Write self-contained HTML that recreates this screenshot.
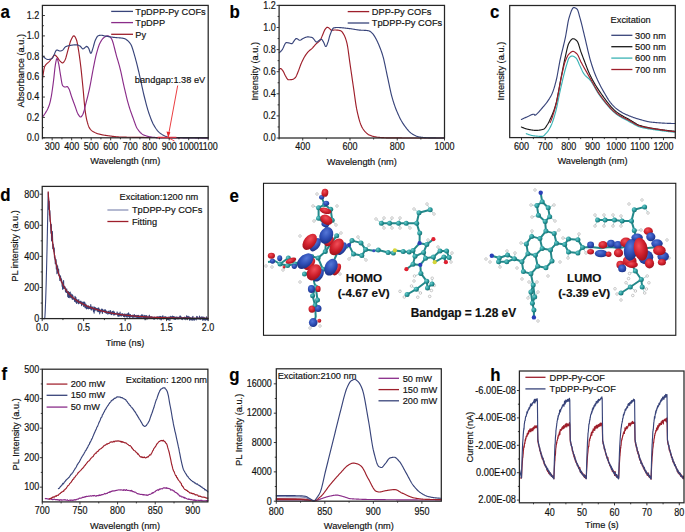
<!DOCTYPE html>
<html><head><meta charset="utf-8"><style>
html,body{margin:0;padding:0;background:#fff;width:685px;height:532px;overflow:hidden}
svg{display:block}
text{font-family:"Liberation Sans", sans-serif;stroke:currentColor;stroke-width:0.18px}
</style></head><body>
<svg width="685" height="532" viewBox="0 0 685 532">
<rect width="685" height="532" fill="#fff"/>
<path d="M42.4 79.8 L42.9 75.94 L43.4 72.6 L43.9 69.63 L44.4 67.28 L44.9 66.14 L45.4 65.31 L45.9 64.65 L46.4 64.11 L46.9 63.6 L47.4 63.12 L47.9 62.72 L48.4 62.33 L48.9 61.9 L49.4 61.37 L49.9 60.76 L50.4 60.1 L50.9 59.42 L51.4 58.75 L51.9 58.12 L52.4 57.48 L52.9 56.75 L53.4 56.03 L53.9 55.44 L54.4 55.07 L54.9 55.03 L55.4 55.29 L55.9 55.75 L56.4 56.32 L56.9 56.89 L57.4 57.46 L57.9 58.15 L58.4 58.89 L58.9 59.63 L59.4 60.32 L59.9 60.9 L60.4 61.39 L60.9 61.89 L61.4 62.34 L61.9 62.69 L62.4 62.88 L62.9 62.83 L63.4 62.46 L63.9 61.83 L64.4 61.04 L64.9 60.17 L65.4 59.14 L65.9 57.7 L66.4 55.97 L66.9 54.07 L67.4 52.15 L67.9 50.34 L68.4 48.61 L68.9 46.75 L69.4 44.87 L69.9 43.08 L70.4 41.49 L70.9 40.21 L71.4 39.18 L71.9 38.18 L72.4 37.25 L72.9 36.5 L73.4 35.99 L73.9 35.8 L74.4 36.01 L74.9 36.59 L75.4 37.47 L75.9 38.55 L76.4 39.75 L76.9 41.3 L77.4 43.62 L77.9 46.42 L78.4 49.41 L78.9 52.47 L79.4 55.87 L79.9 59.56 L80.4 63.48 L80.9 67.63 L81.4 72.15 L81.9 76.96 L82.4 81.95 L82.9 86.99 L83.4 92.31 L83.9 98.12 L84.4 103.81 L84.9 108.71 L85.4 112.42 L85.9 115.62 L86.4 118.37 L86.9 120.61 L87.4 122.46 L87.9 124.14 L88.4 125.63 L88.9 126.9 L89.4 127.92 L89.9 128.68 L90.4 129.31 L90.9 129.85 L91.4 130.33 L91.9 130.74 L92.4 131.11 L92.9 131.44 L93.4 131.74 L93.9 132.03 L94.4 132.3 L94.9 132.56 L95.4 132.8 L95.9 133.02 L96.4 133.23 L96.9 133.43 L97.4 133.61 L97.9 133.77 L98.4 133.92 L98.9 134.05 L99.4 134.18 L99.9 134.3 L100.4 134.42 L100.9 134.53 L101.4 134.64 L101.9 134.74 L102.4 134.84 L102.9 134.94 L103.4 135.03 L103.9 135.12 L104.4 135.2 L104.9 135.28 L105.4 135.36 L105.9 135.44 L106.4 135.51 L106.9 135.59 L107.4 135.66 L107.9 135.73 L108.4 135.79 L108.9 135.86 L109.4 135.92 L109.9 135.99 L110.4 136.05 L110.9 136.11 L111.4 136.18 L111.9 136.24 L112.4 136.31 L112.9 136.37 L113.4 136.43 L113.9 136.49 L114.4 136.55 L114.9 136.6 L115.4 136.66 L115.9 136.71 L116.4 136.76 L116.9 136.8 L117.4 136.84 L117.9 136.88 L118.4 136.92 L118.9 136.95 L119.4 136.97 L119.9 137 L120.4 137.01 L120.9 137.03 L121.4 137.05 L121.9 137.06 L122.4 137.08 L122.9 137.1 L123.4 137.11 L123.9 137.12 L124.4 137.14 L124.9 137.15 L125.4 137.16 L125.9 137.18 L126.4 137.19 L126.9 137.2 L127.4 137.21 L127.9 137.22 L128.4 137.23 L128.9 137.24 L129.4 137.25 L129.9 137.26 L130.4 137.27 L130.9 137.28 L131.4 137.29 L131.9 137.3 L132.4 137.31 L132.9 137.31 L133.4 137.32 L133.9 137.33 L134.4 137.33 L134.9 137.34 L135.4 137.35 L135.9 137.35 L136.4 137.36 L136.9 137.37 L137.4 137.37 L137.9 137.38 L138.4 137.38 L138.9 137.39 L139.4 137.39 L139.9 137.4 L140.4 137.4 L140.9 137.41 L141.4 137.41 L141.9 137.42 L142.4 137.42 L142.9 137.43 L143.4 137.43 L143.9 137.44 L144.4 137.44 L144.9 137.45 L145.4 137.45 L145.9 137.46 L146.4 137.46 L146.9 137.47 L147.4 137.47 L147.9 137.48 L148.4 137.48 L148.9 137.49 L149.4 137.49 L149.9 137.5 L150.4 137.5 L150.9 137.51 L151.4 137.51 L151.9 137.51 L152.4 137.52 L152.9 137.52 L153.4 137.53 L153.9 137.53 L154.4 137.54 L154.9 137.54 L155.4 137.55 L155.9 137.55 L156.4 137.55 L156.9 137.56 L157.4 137.56 L157.9 137.57 L158.4 137.57 L158.9 137.57 L159.4 137.58 L159.9 137.58 L160.4 137.59 L160.9 137.59 L161.4 137.6 L161.9 137.6 L162.4 137.6 L162.9 137.61 L163.4 137.61 L163.9 137.61 L164.4 137.62 L164.9 137.62 L165.4 137.63 L165.9 137.63 L166.4 137.63 L166.9 137.64 L167.4 137.64 L167.9 137.64 L168.4 137.65 L168.9 137.65 L169.4 137.66 L169.9 137.66 L170.4 137.66 L170.9 137.67 L171.4 137.67 L171.9 137.67 L172.4 137.68 L172.9 137.68 L173.4 137.68 L173.9 137.69 L174.4 137.69 L174.9 137.69 L175.4 137.69 L175.9 137.7 L176.4 137.7 L176.9 137.7 L177.4 137.71 L177.9 137.71 L178.4 137.71 L178.9 137.71 L179.4 137.72 L179.9 137.72 L180.4 137.72 L180.9 137.73 L181.4 137.73 L181.9 137.73 L182.4 137.73 L182.9 137.74 L183.4 137.74 L183.9 137.74 L184.4 137.74 L184.9 137.75 L185.4 137.75 L185.9 137.75 L186.4 137.75 L186.9 137.75 L187.4 137.76 L187.9 137.76 L188.4 137.76 L188.9 137.76 L189.4 137.76 L189.9 137.77 L190.4 137.77 L190.9 137.77 L191.4 137.77 L191.9 137.77 L192.4 137.77 L192.9 137.78 L193.4 137.78 L193.9 137.78 L194.4 137.78 L194.9 137.78 L195.4 137.78 L195.9 137.78 L196.4 137.79 L196.9 137.79 L197.4 137.79 L197.9 137.79 L198.4 137.79 L198.9 137.79 L199.4 137.79 L199.9 137.79 L200.4 137.79 L200.9 137.79 L201.4 137.8 L201.9 137.8 L202.4 137.8 L202.9 137.8 L203.4 137.8 L203.9 137.8 L204.4 137.8 L204.9 137.8 L205.4 137.8 L205.9 137.8 L206.4 137.8 L206.9 137.8 L207.4 137.8 L207.9 137.8 L208 137.8" fill="none" stroke="#9e1f2b" stroke-width="1.15" stroke-linejoin="round" stroke-linecap="round" />
<path d="M42.4 117 L42.9 116.46 L43.4 115.86 L43.9 115.21 L44.4 114.51 L44.9 113.76 L45.4 112.98 L45.9 112.17 L46.4 111.32 L46.9 110.45 L47.4 109.51 L47.9 108.48 L48.4 107.34 L48.9 106.07 L49.4 104.6 L49.9 102.83 L50.4 100.78 L50.9 98.49 L51.4 95.86 L51.9 92.74 L52.4 89.26 L52.9 85.56 L53.4 81.76 L53.9 77.63 L54.4 72.89 L54.9 68.28 L55.4 64.57 L55.9 61.8 L56.4 59.42 L56.9 58.4 L57.4 59.05 L57.9 60.65 L58.4 62.61 L58.9 64.88 L59.4 67.93 L59.9 71.29 L60.4 74.44 L60.9 77.36 L61.4 80.49 L61.9 83.28 L62.4 85.14 L62.9 85.82 L63.4 86.29 L63.9 86.65 L64.4 86.89 L64.9 87 L65.4 86.96 L65.9 86.84 L66.4 86.7 L66.9 86.61 L67.4 86.69 L67.9 87.18 L68.4 87.95 L68.9 88.83 L69.4 89.84 L69.9 91.22 L70.4 92.82 L70.9 94.5 L71.4 96.11 L71.9 97.55 L72.4 98.95 L72.9 100.32 L73.4 101.68 L73.9 103.04 L74.4 104.38 L74.9 105.73 L75.4 107.13 L75.9 108.62 L76.4 110.12 L76.9 111.55 L77.4 112.81 L77.9 113.83 L78.4 114.65 L78.9 115.44 L79.4 116.15 L79.9 116.68 L80.4 116.97 L80.9 116.93 L81.4 116.55 L81.9 115.9 L82.4 115.09 L82.9 114.18 L83.4 113.09 L83.9 111.55 L84.4 109.67 L84.9 107.6 L85.4 105.46 L85.9 103.39 L86.4 101.45 L86.9 99.5 L87.4 97.53 L87.9 95.52 L88.4 93.45 L88.9 91.31 L89.4 89.08 L89.9 86.74 L90.4 84.2 L90.9 81.5 L91.4 78.71 L91.9 75.9 L92.4 73.15 L92.9 70.51 L93.4 67.97 L93.9 65.41 L94.4 62.88 L94.9 60.41 L95.4 58.06 L95.9 55.87 L96.4 53.9 L96.9 52.07 L97.4 50.3 L97.9 48.6 L98.4 47.02 L98.9 45.58 L99.4 44.29 L99.9 43.19 L100.4 42.25 L100.9 41.37 L101.4 40.54 L101.9 39.78 L102.4 39.1 L102.9 38.5 L103.4 37.99 L103.9 37.57 L104.4 37.23 L104.9 36.89 L105.4 36.58 L105.9 36.31 L106.4 36.08 L106.9 35.91 L107.4 35.82 L107.9 35.81 L108.4 35.93 L108.9 36.17 L109.4 36.51 L109.9 36.92 L110.4 37.39 L110.9 37.9 L111.4 38.53 L111.9 39.5 L112.4 40.76 L112.9 42.26 L113.4 43.95 L113.9 45.8 L114.4 47.74 L114.9 49.74 L115.4 51.75 L115.9 53.71 L116.4 55.59 L116.9 57.34 L117.4 59.02 L117.9 60.7 L118.4 62.39 L118.9 64.13 L119.4 65.92 L119.9 67.81 L120.4 69.82 L120.9 71.96 L121.4 74.22 L121.9 76.54 L122.4 78.9 L122.9 81.27 L123.4 83.6 L123.9 85.86 L124.4 88.03 L124.9 90.16 L125.4 92.3 L125.9 94.42 L126.4 96.51 L126.9 98.55 L127.4 100.52 L127.9 102.41 L128.4 104.21 L128.9 105.9 L129.4 107.52 L129.9 109.07 L130.4 110.57 L130.9 112.02 L131.4 113.43 L131.9 114.81 L132.4 116.18 L132.9 117.53 L133.4 118.9 L133.9 120.32 L134.4 121.76 L134.9 123.17 L135.4 124.53 L135.9 125.81 L136.4 126.95 L136.9 127.94 L137.4 128.75 L137.9 129.46 L138.4 130.15 L138.9 130.8 L139.4 131.42 L139.9 132 L140.4 132.54 L140.9 133.04 L141.4 133.5 L141.9 133.91 L142.4 134.28 L142.9 134.6 L143.4 134.87 L143.9 135.08 L144.4 135.28 L144.9 135.47 L145.4 135.65 L145.9 135.82 L146.4 135.98 L146.9 136.13 L147.4 136.27 L147.9 136.4 L148.4 136.53 L148.9 136.64 L149.4 136.75 L149.9 136.84 L150.4 136.93 L150.9 137.01 L151.4 137.08 L151.9 137.14 L152.4 137.2 L152.9 137.25 L153.4 137.3 L153.9 137.35 L154.4 137.4 L154.9 137.44 L155.4 137.48 L155.9 137.52 L156.4 137.56 L156.9 137.59 L157.4 137.62 L157.9 137.64 L158.4 137.67 L158.9 137.68 L159.4 137.69 L159.9 137.7 L160.4 137.7 L160.9 137.7 L161.4 137.71 L161.9 137.71 L162.4 137.71 L162.9 137.71 L163.4 137.72 L163.9 137.72 L164.4 137.72 L164.9 137.72 L165.4 137.73 L165.9 137.73 L166.4 137.73 L166.9 137.73 L167.4 137.73 L167.9 137.74 L168.4 137.74 L168.9 137.74 L169.4 137.74 L169.9 137.74 L170.4 137.75 L170.9 137.75 L171.4 137.75 L171.9 137.75 L172.4 137.75 L172.9 137.75 L173.4 137.76 L173.9 137.76 L174.4 137.76 L174.9 137.76 L175.4 137.76 L175.9 137.76 L176.4 137.76 L176.9 137.77 L177.4 137.77 L177.9 137.77 L178.4 137.77 L178.9 137.77 L179.4 137.77 L179.9 137.77 L180.4 137.77 L180.9 137.78 L181.4 137.78 L181.9 137.78 L182.4 137.78 L182.9 137.78 L183.4 137.78 L183.9 137.78 L184.4 137.78 L184.9 137.78 L185.4 137.78 L185.9 137.78 L186.4 137.79 L186.9 137.79 L187.4 137.79 L187.9 137.79 L188.4 137.79 L188.9 137.79 L189.4 137.79 L189.9 137.79 L190.4 137.79 L190.9 137.79 L191.4 137.79 L191.9 137.79 L192.4 137.79 L192.9 137.79 L193.4 137.79 L193.9 137.79 L194.4 137.79 L194.9 137.8 L195.4 137.8 L195.9 137.8 L196.4 137.8 L196.9 137.8 L197.4 137.8 L197.9 137.8 L198.4 137.8 L198.9 137.8 L199.4 137.8 L199.9 137.8 L200.4 137.8 L200.9 137.8 L201.4 137.8 L201.9 137.8 L202.4 137.8 L202.9 137.8 L203.4 137.8 L203.9 137.8 L204.4 137.8 L204.9 137.8 L205.4 137.8 L205.9 137.8 L206.4 137.8 L206.9 137.8 L207.4 137.8 L207.9 137.8 L208 137.8" fill="none" stroke="#8a2c89" stroke-width="1.15" stroke-linejoin="round" stroke-linecap="round" />
<path d="M42.4 55.7 L42.9 56.22 L43.4 56.71 L43.9 57.16 L44.4 57.57 L44.9 57.93 L45.4 58.27 L45.9 58.61 L46.4 58.93 L46.9 59.21 L47.4 59.41 L47.9 59.5 L48.4 59.49 L48.9 59.44 L49.4 59.35 L49.9 59.24 L50.4 59.1 L50.9 58.93 L51.4 58.75 L51.9 58.54 L52.4 58.2 L52.9 57.49 L53.4 56.51 L53.9 55.35 L54.4 54.11 L54.9 52.89 L55.4 51.77 L55.9 50.85 L56.4 50.23 L56.9 50 L57.4 50.07 L57.9 50.25 L58.4 50.48 L58.9 50.71 L59.4 50.9 L59.9 51 L60.4 50.97 L60.9 50.87 L61.4 50.72 L61.9 50.54 L62.4 50.28 L62.9 49.84 L63.4 49.28 L63.9 48.64 L64.4 47.99 L64.9 47.39 L65.4 46.89 L65.9 46.54 L66.4 46.35 L66.9 46.18 L67.4 46.03 L67.9 45.91 L68.4 45.79 L68.9 45.69 L69.4 45.6 L69.9 45.52 L70.4 45.43 L70.9 45.35 L71.4 45.27 L71.9 45.19 L72.4 45.11 L72.9 45.04 L73.4 44.98 L73.9 44.92 L74.4 44.87 L74.9 44.84 L75.4 44.81 L75.9 44.8 L76.4 44.82 L76.9 44.88 L77.4 44.99 L77.9 45.13 L78.4 45.3 L78.9 45.5 L79.4 45.72 L79.9 45.95 L80.4 46.29 L80.9 46.87 L81.4 47.55 L81.9 48.21 L82.4 48.71 L82.9 48.9 L83.4 48.78 L83.9 48.47 L84.4 48.04 L84.9 47.55 L85.4 47.08 L85.9 46.69 L86.4 46.44 L86.9 46.43 L87.4 46.73 L87.9 47.25 L88.4 47.87 L88.9 48.78 L89.4 50.26 L89.9 51.84 L90.4 53.04 L90.9 53.38 L91.4 52.76 L91.9 51.5 L92.4 49.9 L92.9 48.3 L93.4 46.68 L93.9 44.74 L94.4 42.82 L94.9 41.24 L95.4 40.09 L95.9 39 L96.4 38 L96.9 37.13 L97.4 36.44 L97.9 35.96 L98.4 35.73 L98.9 35.56 L99.4 35.42 L99.9 35.31 L100.4 35.23 L100.9 35.2 L101.4 35.22 L101.9 35.28 L102.4 35.37 L102.9 35.49 L103.4 35.62 L103.9 35.75 L104.4 35.88 L104.9 35.98 L105.4 36.07 L105.9 36.16 L106.4 36.24 L106.9 36.33 L107.4 36.41 L107.9 36.5 L108.4 36.58 L108.9 36.66 L109.4 36.74 L109.9 36.82 L110.4 36.9 L110.9 36.97 L111.4 37.05 L111.9 37.12 L112.4 37.19 L112.9 37.25 L113.4 37.32 L113.9 37.38 L114.4 37.43 L114.9 37.49 L115.4 37.54 L115.9 37.58 L116.4 37.63 L116.9 37.66 L117.4 37.7 L117.9 37.73 L118.4 37.77 L118.9 37.8 L119.4 37.84 L119.9 37.89 L120.4 37.93 L120.9 37.99 L121.4 38.05 L121.9 38.12 L122.4 38.19 L122.9 38.28 L123.4 38.38 L123.9 38.49 L124.4 38.63 L124.9 38.81 L125.4 39.06 L125.9 39.35 L126.4 39.68 L126.9 40.04 L127.4 40.42 L127.9 40.83 L128.4 41.29 L128.9 41.81 L129.4 42.39 L129.9 43.04 L130.4 43.76 L130.9 44.57 L131.4 45.58 L131.9 46.81 L132.4 48.22 L132.9 49.78 L133.4 51.45 L133.9 53.18 L134.4 54.95 L134.9 56.71 L135.4 58.45 L135.9 60.28 L136.4 62.18 L136.9 64.15 L137.4 66.18 L137.9 68.25 L138.4 70.35 L138.9 72.47 L139.4 74.6 L139.9 76.78 L140.4 79.05 L140.9 81.38 L141.4 83.74 L141.9 86.1 L142.4 88.44 L142.9 90.72 L143.4 92.92 L143.9 95 L144.4 97.01 L144.9 99 L145.4 100.97 L145.9 102.9 L146.4 104.78 L146.9 106.61 L147.4 108.38 L147.9 110.07 L148.4 111.69 L148.9 113.22 L149.4 114.66 L149.9 116.06 L150.4 117.42 L150.9 118.74 L151.4 120 L151.9 121.2 L152.4 122.33 L152.9 123.4 L153.4 124.38 L153.9 125.27 L154.4 126.12 L154.9 126.95 L155.4 127.74 L155.9 128.5 L156.4 129.22 L156.9 129.9 L157.4 130.54 L157.9 131.13 L158.4 131.67 L158.9 132.16 L159.4 132.6 L159.9 133 L160.4 133.37 L160.9 133.73 L161.4 134.06 L161.9 134.38 L162.4 134.68 L162.9 134.97 L163.4 135.23 L163.9 135.49 L164.4 135.72 L164.9 135.95 L165.4 136.16 L165.9 136.36 L166.4 136.56 L166.9 136.76 L167.4 136.96 L167.9 137.14 L168.4 137.31 L168.9 137.44 L169.4 137.54 L169.9 137.6 L170.4 137.61 L170.9 137.63 L171.4 137.64 L171.9 137.65 L172.4 137.67 L172.9 137.68 L173.4 137.69 L173.9 137.7 L174.4 137.71 L174.9 137.72 L175.4 137.73 L175.9 137.74 L176.4 137.74 L176.9 137.75 L177.4 137.76 L177.9 137.76 L178.4 137.77 L178.9 137.77 L179.4 137.78 L179.9 137.78 L180.4 137.79 L180.9 137.79 L181.4 137.79 L181.9 137.79 L182.4 137.8 L182.9 137.8 L183.4 137.8 L183.9 137.8 L184.4 137.8 L184.9 137.8 L185.4 137.8 L185.9 137.8 L186.4 137.8 L186.9 137.8 L187.4 137.8 L187.9 137.8 L188.4 137.8 L188.9 137.8 L189.4 137.8 L189.9 137.8 L190.4 137.8 L190.9 137.8 L191.4 137.8 L191.9 137.8 L192.4 137.8 L192.9 137.8 L193.4 137.8 L193.9 137.8 L194.4 137.8 L194.9 137.8 L195.4 137.8 L195.9 137.8 L196.4 137.8 L196.9 137.8 L197.4 137.8 L197.9 137.8 L198.4 137.8 L198.9 137.8 L199.4 137.8 L199.9 137.8 L200.4 137.8 L200.9 137.8 L201.4 137.8 L201.9 137.8 L202.4 137.8 L202.9 137.8 L203.4 137.8 L203.9 137.8 L204.4 137.8 L204.9 137.8 L205.4 137.8 L205.9 137.8 L206.4 137.8 L206.9 137.8 L207.4 137.8 L207.9 137.8 L208.2 137.8" fill="none" stroke="#38447a" stroke-width="1.15" stroke-linejoin="round" stroke-linecap="round" />
<rect x="42.4" y="5.4" width="165.8" height="132.4" fill="none" stroke="#262626" stroke-width="1.25"/>
<line x1="157.6" y1="137.4" x2="176.4" y2="137.4" stroke="#d03040" stroke-width="1.3"/>
<line x1="177.7" y1="85.5" x2="168.6" y2="134.5" stroke="#e8282b" stroke-width="0.9"/>
<line x1="168.4" y1="137.8" x2="174.5" y2="141" stroke="#e8282b" stroke-width="0.8"/>
<path d="M168.3 138 L166.5 131.5 L170.3 132.2 Z" fill="#e8282b"/>
<line x1="52.15" y1="137.8" x2="52.15" y2="140.3" stroke="#262626" stroke-width="0.9"/>
<line x1="71.66" y1="137.8" x2="71.66" y2="140.3" stroke="#262626" stroke-width="0.9"/>
<line x1="91.16" y1="137.8" x2="91.16" y2="140.3" stroke="#262626" stroke-width="0.9"/>
<line x1="110.67" y1="137.8" x2="110.67" y2="140.3" stroke="#262626" stroke-width="0.9"/>
<line x1="130.18" y1="137.8" x2="130.18" y2="140.3" stroke="#262626" stroke-width="0.9"/>
<line x1="149.68" y1="137.8" x2="149.68" y2="140.3" stroke="#262626" stroke-width="0.9"/>
<line x1="169.19" y1="137.8" x2="169.19" y2="140.3" stroke="#262626" stroke-width="0.9"/>
<line x1="188.69" y1="137.8" x2="188.69" y2="140.3" stroke="#262626" stroke-width="0.9"/>
<line x1="208.2" y1="137.8" x2="208.2" y2="140.3" stroke="#262626" stroke-width="0.9"/>
<line x1="42.4" y1="137.8" x2="42.4" y2="139.3" stroke="#262626" stroke-width="0.9"/>
<line x1="61.91" y1="137.8" x2="61.91" y2="139.3" stroke="#262626" stroke-width="0.9"/>
<line x1="81.41" y1="137.8" x2="81.41" y2="139.3" stroke="#262626" stroke-width="0.9"/>
<line x1="100.92" y1="137.8" x2="100.92" y2="139.3" stroke="#262626" stroke-width="0.9"/>
<line x1="120.42" y1="137.8" x2="120.42" y2="139.3" stroke="#262626" stroke-width="0.9"/>
<line x1="139.93" y1="137.8" x2="139.93" y2="139.3" stroke="#262626" stroke-width="0.9"/>
<line x1="159.44" y1="137.8" x2="159.44" y2="139.3" stroke="#262626" stroke-width="0.9"/>
<line x1="178.94" y1="137.8" x2="178.94" y2="139.3" stroke="#262626" stroke-width="0.9"/>
<line x1="198.45" y1="137.8" x2="198.45" y2="139.3" stroke="#262626" stroke-width="0.9"/>
<text transform="translate(52.15 150.1) scale(0.9 1)" font-size="10.0" text-anchor="middle" font-weight="normal" fill="#1a1a1a" >300</text>
<text transform="translate(71.66 150.1) scale(0.9 1)" font-size="10.0" text-anchor="middle" font-weight="normal" fill="#1a1a1a" >400</text>
<text transform="translate(91.16 150.1) scale(0.9 1)" font-size="10.0" text-anchor="middle" font-weight="normal" fill="#1a1a1a" >500</text>
<text transform="translate(110.67 150.1) scale(0.9 1)" font-size="10.0" text-anchor="middle" font-weight="normal" fill="#1a1a1a" >600</text>
<text transform="translate(130.18 150.1) scale(0.9 1)" font-size="10.0" text-anchor="middle" font-weight="normal" fill="#1a1a1a" >700</text>
<text transform="translate(149.68 150.1) scale(0.9 1)" font-size="10.0" text-anchor="middle" font-weight="normal" fill="#1a1a1a" >800</text>
<text transform="translate(169.19 150.1) scale(0.9 1)" font-size="10.0" text-anchor="middle" font-weight="normal" fill="#1a1a1a" >900</text>
<text transform="translate(188.69 150.1) scale(0.9 1)" font-size="10.0" text-anchor="middle" font-weight="normal" fill="#1a1a1a" >1000</text>
<text transform="translate(208.2 150.1) scale(0.9 1)" font-size="10.0" text-anchor="middle" font-weight="normal" fill="#1a1a1a" >1100</text>
<line x1="42.4" y1="137.8" x2="44.9" y2="137.8" stroke="#262626" stroke-width="0.9"/>
<line x1="42.4" y1="117.42" x2="44.9" y2="117.42" stroke="#262626" stroke-width="0.9"/>
<line x1="42.4" y1="97.04" x2="44.9" y2="97.04" stroke="#262626" stroke-width="0.9"/>
<line x1="42.4" y1="76.66" x2="44.9" y2="76.66" stroke="#262626" stroke-width="0.9"/>
<line x1="42.4" y1="56.28" x2="44.9" y2="56.28" stroke="#262626" stroke-width="0.9"/>
<line x1="42.4" y1="35.9" x2="44.9" y2="35.9" stroke="#262626" stroke-width="0.9"/>
<line x1="42.4" y1="15.52" x2="44.9" y2="15.52" stroke="#262626" stroke-width="0.9"/>
<line x1="42.4" y1="127.61" x2="43.9" y2="127.61" stroke="#262626" stroke-width="0.9"/>
<line x1="42.4" y1="107.23" x2="43.9" y2="107.23" stroke="#262626" stroke-width="0.9"/>
<line x1="42.4" y1="86.85" x2="43.9" y2="86.85" stroke="#262626" stroke-width="0.9"/>
<line x1="42.4" y1="66.47" x2="43.9" y2="66.47" stroke="#262626" stroke-width="0.9"/>
<line x1="42.4" y1="46.09" x2="43.9" y2="46.09" stroke="#262626" stroke-width="0.9"/>
<line x1="42.4" y1="25.71" x2="43.9" y2="25.71" stroke="#262626" stroke-width="0.9"/>
<text transform="translate(39.3 141.1) scale(0.9 1)" font-size="10.0" text-anchor="end" font-weight="normal" fill="#1a1a1a" >0.0</text>
<text transform="translate(39.3 120.72) scale(0.9 1)" font-size="10.0" text-anchor="end" font-weight="normal" fill="#1a1a1a" >0.2</text>
<text transform="translate(39.3 100.34) scale(0.9 1)" font-size="10.0" text-anchor="end" font-weight="normal" fill="#1a1a1a" >0.4</text>
<text transform="translate(39.3 79.96) scale(0.9 1)" font-size="10.0" text-anchor="end" font-weight="normal" fill="#1a1a1a" >0.6</text>
<text transform="translate(39.3 59.58) scale(0.9 1)" font-size="10.0" text-anchor="end" font-weight="normal" fill="#1a1a1a" >0.8</text>
<text transform="translate(39.3 39.2) scale(0.9 1)" font-size="10.0" text-anchor="end" font-weight="normal" fill="#1a1a1a" >1.0</text>
<text transform="translate(39.3 18.82) scale(0.9 1)" font-size="10.0" text-anchor="end" font-weight="normal" fill="#1a1a1a" >1.2</text>
<text transform="translate(125.3 164.2) scale(0.935 1)" font-size="9.9" text-anchor="middle" font-weight="normal" fill="#1a1a1a" >Wavelength (nm)</text>
<text transform="translate(23.6 70.7) rotate(-90) scale(0.935 1)" font-size="9.9" text-anchor="middle" font-weight="normal" fill="#1a1a1a" >Absorbance (a.u.)</text>
<line x1="111.2" y1="11.4" x2="133" y2="11.4" stroke="#38447a" stroke-width="1.3"/>
<text transform="translate(135.3 14.7) scale(0.935 1)" font-size="9.9" text-anchor="start" font-weight="normal" fill="#1a1a1a" >TpDPP-Py COFs</text>
<line x1="111.2" y1="22.6" x2="133" y2="22.6" stroke="#8a2c89" stroke-width="1.3"/>
<text transform="translate(135.3 25.9) scale(0.935 1)" font-size="9.9" text-anchor="start" font-weight="normal" fill="#1a1a1a" >TpDPP</text>
<line x1="111.2" y1="34.3" x2="133" y2="34.3" stroke="#9e1f2b" stroke-width="1.3"/>
<text transform="translate(135.3 37.6) scale(0.935 1)" font-size="9.9" text-anchor="start" font-weight="normal" fill="#1a1a1a" >Py</text>
<text transform="translate(134.8 83.2) scale(0.935 1)" font-size="9.9" text-anchor="start" font-weight="normal" fill="#1a1a1a" >bandgap:1.38 eV</text>
<text transform="translate(0.5 17.7) scale(0.9 1)" font-size="18.7" text-anchor="start" font-weight="bold" fill="#000" >a</text>
<path d="M279.1 69.7 L279.6 69.04 L280.1 68.61 L280.6 68.51 L281.1 68.72 L281.6 69.16 L282.1 69.77 L282.6 70.45 L283.1 71.14 L283.6 72.02 L284.1 73.09 L284.6 74.22 L285.1 75.29 L285.6 76.16 L286.1 76.99 L286.6 77.85 L287.1 78.63 L287.6 79.27 L288.1 79.69 L288.6 79.8 L289.1 79.79 L289.6 79.77 L290.1 79.73 L290.6 79.68 L291.1 79.62 L291.6 79.56 L292.1 79.48 L292.6 79.36 L293.1 79.16 L293.6 78.9 L294.1 78.58 L294.6 78.2 L295.1 77.78 L295.6 77.26 L296.1 76.44 L296.6 75.39 L297.1 74.2 L297.6 72.96 L298.1 71.76 L298.6 70.5 L299.1 69.13 L299.6 67.72 L300.1 66.32 L300.6 64.98 L301.1 63.77 L301.6 62.62 L302.1 61.51 L302.6 60.44 L303.1 59.41 L303.6 58.44 L304.1 57.54 L304.6 56.7 L305.1 55.9 L305.6 55.14 L306.1 54.41 L306.6 53.72 L307.1 53.07 L307.6 52.46 L308.1 51.89 L308.6 51.38 L309.1 50.9 L309.6 50.46 L310.1 50.04 L310.6 49.63 L311.1 49.21 L311.6 48.77 L312.1 48.3 L312.6 47.79 L313.1 47.24 L313.6 46.68 L314.1 46.1 L314.6 45.52 L315.1 44.95 L315.6 44.41 L316.1 43.9 L316.6 43.45 L317.1 43.04 L317.6 42.65 L318.1 42.27 L318.6 41.86 L319.1 41.42 L319.6 40.9 L320.1 40.3 L320.6 39.51 L321.1 38.51 L321.6 37.36 L322.1 36.14 L322.6 34.92 L323.1 33.77 L323.6 32.55 L324.1 31.29 L324.6 30.17 L325.1 29.36 L325.6 28.68 L326.1 28.05 L326.6 27.55 L327.1 27.25 L327.6 27.22 L328.1 27.42 L328.6 27.77 L329.1 28.18 L329.6 28.58 L330.1 29.11 L330.6 29.69 L331.1 30.12 L331.6 30.2 L332.1 30.18 L332.6 30.15 L333.1 30.11 L333.6 30.07 L334.1 30.03 L334.6 30.01 L335.1 30 L335.6 30.01 L336.1 30.03 L336.6 30.06 L337.1 30.1 L337.6 30.14 L338.1 30.19 L338.6 30.25 L339.1 30.35 L339.6 30.47 L340.1 30.63 L340.6 30.82 L341.1 31.05 L341.6 31.42 L342.1 31.95 L342.6 32.61 L343.1 33.36 L343.6 34.16 L344.1 35.07 L344.6 36.11 L345.1 37.3 L345.6 38.65 L346.1 40.17 L346.6 41.87 L347.1 43.86 L347.6 46.53 L348.1 49.74 L348.6 53.31 L349.1 57.07 L349.6 60.83 L350.1 64.42 L350.6 67.81 L351.1 71.23 L351.6 74.67 L352.1 78.13 L352.6 81.57 L353.1 84.99 L353.6 88.38 L354.1 91.89 L354.6 95.51 L355.1 99.12 L355.6 102.61 L356.1 105.84 L356.6 108.71 L357.1 111.12 L357.6 113.36 L358.1 115.48 L358.6 117.49 L359.1 119.36 L359.6 121.09 L360.1 122.67 L360.6 124.09 L361.1 125.34 L361.6 126.41 L362.1 127.38 L362.6 128.26 L363.1 129.06 L363.6 129.79 L364.1 130.45 L364.6 131.06 L365.1 131.61 L365.6 132.13 L366.1 132.64 L366.6 133.11 L367.1 133.56 L367.6 133.97 L368.1 134.33 L368.6 134.65 L369.1 134.91 L369.6 135.12 L370.1 135.32 L370.6 135.51 L371.1 135.69 L371.6 135.86 L372.1 136.03 L372.6 136.18 L373.1 136.33 L373.6 136.47 L374.1 136.59 L374.6 136.71 L375.1 136.82 L375.6 136.92 L376.1 137.01 L376.6 137.09 L377.1 137.17 L377.6 137.23 L378.1 137.28 L378.6 137.33 L379.1 137.37 L379.6 137.41 L380.1 137.45 L380.6 137.49 L381.1 137.53 L381.6 137.56 L382.1 137.6 L382.6 137.63 L383.1 137.66 L383.6 137.69 L384.1 137.72 L384.6 137.75 L385.1 137.77 L385.6 137.79 L386.1 137.81 L386.6 137.83 L387.1 137.85 L387.6 137.86 L388.1 137.87 L388.6 137.88 L389.1 137.89 L389.6 137.9 L390.1 137.9 L390.6 137.9 L391.1 137.9 L391.6 137.91 L392.1 137.91 L392.6 137.91 L393.1 137.91 L393.6 137.92 L394.1 137.92 L394.6 137.92 L395.1 137.92 L395.6 137.92 L396.1 137.92 L396.6 137.93 L397.1 137.93 L397.6 137.93 L398.1 137.93 L398.6 137.93 L399.1 137.94 L399.6 137.94 L400.1 137.94 L400.6 137.94 L401.1 137.94 L401.6 137.94 L402.1 137.95 L402.6 137.95 L403.1 137.95 L403.6 137.95 L404.1 137.95 L404.6 137.95 L405.1 137.95 L405.6 137.96 L406.1 137.96 L406.6 137.96 L407.1 137.96 L407.6 137.96 L408.1 137.96 L408.6 137.96 L409.1 137.96 L409.6 137.97 L410.1 137.97 L410.6 137.97 L411.1 137.97 L411.6 137.97 L412.1 137.97 L412.6 137.97 L413.1 137.97 L413.6 137.97 L414.1 137.97 L414.6 137.98 L415.1 137.98 L415.6 137.98 L416.1 137.98 L416.6 137.98 L417.1 137.98 L417.6 137.98 L418.1 137.98 L418.6 137.98 L419.1 137.98 L419.6 137.98 L420.1 137.98 L420.6 137.99 L421.1 137.99 L421.6 137.99 L422.1 137.99 L422.6 137.99 L423.1 137.99 L423.6 137.99 L424.1 137.99 L424.6 137.99 L425.1 137.99 L425.6 137.99 L426.1 137.99 L426.6 137.99 L427.1 137.99 L427.6 137.99 L428.1 137.99 L428.6 137.99 L429.1 137.99 L429.6 137.99 L430.1 138 L430.6 138 L431.1 138 L431.6 138 L432.1 138 L432.6 138 L433.1 138 L433.6 138 L434.1 138 L434.6 138 L435.1 138 L435.6 138 L436.1 138 L436.6 138 L437.1 138 L437.6 138 L438.1 138 L438.6 138 L439.1 138 L439.6 138 L440.1 138 L440.6 138 L441.1 138 L441.6 138 L442.1 138 L442.6 138 L443.1 138 L443.6 138 L444.1 138 L444.5 138" fill="none" stroke="#9e1f2b" stroke-width="1.15" stroke-linejoin="round" stroke-linecap="round" />
<path d="M279.1 52.7 L279.6 52.36 L280.1 51.96 L280.6 51.51 L281.1 51.01 L281.6 50.46 L282.1 49.88 L282.6 49.08 L283.1 48.07 L283.6 46.94 L284.1 45.78 L284.6 44.67 L285.1 43.72 L285.6 43.01 L286.1 42.64 L286.6 42.61 L287.1 42.65 L287.6 42.73 L288.1 42.82 L288.6 42.92 L289.1 43.02 L289.6 43.15 L290.1 43.3 L290.6 43.46 L291.1 43.6 L291.6 43.68 L292.1 43.65 L292.6 43.18 L293.1 42.4 L293.6 41.56 L294.1 40.88 L294.6 40.22 L295.1 39.53 L295.6 38.94 L296.1 38.57 L296.6 38.52 L297.1 38.7 L297.6 39.01 L298.1 39.4 L298.6 39.79 L299.1 40.1 L299.6 40.28 L300.1 40.27 L300.6 40.08 L301.1 39.79 L301.6 39.42 L302.1 39.05 L302.6 38.71 L303.1 38.46 L303.6 38.23 L304.1 38 L304.6 37.77 L305.1 37.55 L305.6 37.35 L306.1 37.18 L306.6 37.04 L307.1 36.94 L307.6 36.9 L308.1 36.91 L308.6 36.93 L309.1 36.98 L309.6 37.04 L310.1 37.11 L310.6 37.2 L311.1 37.3 L311.6 37.41 L312.1 37.53 L312.6 37.81 L313.1 38.27 L313.6 38.86 L314.1 39.53 L314.6 40.22 L315.1 40.87 L315.6 41.44 L316.1 41.86 L316.6 42.08 L317.1 42.04 L317.6 41.74 L318.1 41.28 L318.6 40.81 L319.1 40.43 L319.6 40.07 L320.1 39.7 L320.6 39.39 L321.1 39.22 L321.6 39.29 L322.1 39.75 L322.6 40.49 L323.1 41.34 L323.6 42.17 L324.1 43.28 L324.6 44.62 L325.1 45.81 L325.6 46.53 L326.1 46.46 L326.6 45.7 L327.1 44.51 L327.6 43.1 L328.1 41.72 L328.6 40.04 L329.1 38.09 L329.6 36.21 L330.1 34.74 L330.6 33.44 L331.1 32.16 L331.6 30.94 L332.1 29.85 L332.6 28.94 L333.1 28.29 L333.6 27.93 L334.1 27.81 L334.6 27.72 L335.1 27.64 L335.6 27.58 L336.1 27.53 L336.6 27.51 L337.1 27.5 L337.6 27.5 L338.1 27.51 L338.6 27.53 L339.1 27.55 L339.6 27.58 L340.1 27.61 L340.6 27.64 L341.1 27.68 L341.6 27.72 L342.1 27.77 L342.6 27.81 L343.1 27.86 L343.6 27.92 L344.1 27.97 L344.6 28.03 L345.1 28.09 L345.6 28.14 L346.1 28.2 L346.6 28.26 L347.1 28.32 L347.6 28.38 L348.1 28.44 L348.6 28.5 L349.1 28.56 L349.6 28.61 L350.1 28.67 L350.6 28.73 L351.1 28.8 L351.6 28.88 L352.1 28.96 L352.6 29.04 L353.1 29.12 L353.6 29.21 L354.1 29.29 L354.6 29.38 L355.1 29.47 L355.6 29.55 L356.1 29.63 L356.6 29.71 L357.1 29.79 L357.6 29.87 L358.1 29.93 L358.6 30 L359.1 30.06 L359.6 30.11 L360.1 30.15 L360.6 30.19 L361.1 30.22 L361.6 30.24 L362.1 30.26 L362.6 30.27 L363.1 30.29 L363.6 30.3 L364.1 30.31 L364.6 30.33 L365.1 30.35 L365.6 30.38 L366.1 30.41 L366.6 30.45 L367.1 30.52 L367.6 30.6 L368.1 30.69 L368.6 30.81 L369.1 30.94 L369.6 31.11 L370.1 31.37 L370.6 31.72 L371.1 32.13 L371.6 32.59 L372.1 33.09 L372.6 33.6 L373.1 34.18 L373.6 34.85 L374.1 35.59 L374.6 36.38 L375.1 37.23 L375.6 38.1 L376.1 39 L376.6 39.94 L377.1 40.95 L377.6 42.02 L378.1 43.15 L378.6 44.31 L379.1 45.52 L379.6 46.75 L380.1 48 L380.6 49.28 L381.1 50.62 L381.6 52.02 L382.1 53.5 L382.6 55.09 L383.1 56.81 L383.6 58.72 L384.1 60.82 L384.6 63.06 L385.1 65.41 L385.6 67.82 L386.1 70.25 L386.6 72.67 L387.1 75.03 L387.6 77.31 L388.1 79.64 L388.6 82.03 L389.1 84.43 L389.6 86.82 L390.1 89.17 L390.6 91.43 L391.1 93.58 L391.6 95.58 L392.1 97.42 L392.6 99.15 L393.1 100.82 L393.6 102.42 L394.1 103.96 L394.6 105.43 L395.1 106.83 L395.6 108.18 L396.1 109.46 L396.6 110.68 L397.1 111.88 L397.6 113.05 L398.1 114.19 L398.6 115.3 L399.1 116.38 L399.6 117.42 L400.1 118.43 L400.6 119.4 L401.1 120.34 L401.6 121.23 L402.1 122.08 L402.6 122.89 L403.1 123.65 L403.6 124.38 L404.1 125.09 L404.6 125.8 L405.1 126.49 L405.6 127.16 L406.1 127.82 L406.6 128.46 L407.1 129.08 L407.6 129.67 L408.1 130.25 L408.6 130.8 L409.1 131.32 L409.6 131.82 L410.1 132.29 L410.6 132.73 L411.1 133.13 L411.6 133.5 L412.1 133.84 L412.6 134.15 L413.1 134.45 L413.6 134.74 L414.1 135.02 L414.6 135.29 L415.1 135.54 L415.6 135.78 L416.1 136.01 L416.6 136.21 L417.1 136.4 L417.6 136.56 L418.1 136.71 L418.6 136.82 L419.1 136.92 L419.6 137 L420.1 137.08 L420.6 137.15 L421.1 137.22 L421.6 137.29 L422.1 137.35 L422.6 137.41 L423.1 137.47 L423.6 137.52 L424.1 137.57 L424.6 137.62 L425.1 137.66 L425.6 137.69 L426.1 137.72 L426.6 137.75 L427.1 137.77 L427.6 137.79 L428.1 137.8 L428.6 137.81 L429.1 137.82 L429.6 137.84 L430.1 137.85 L430.6 137.86 L431.1 137.87 L431.6 137.88 L432.1 137.89 L432.6 137.89 L433.1 137.9 L433.6 137.91 L434.1 137.92 L434.6 137.93 L435.1 137.93 L435.6 137.94 L436.1 137.95 L436.6 137.95 L437.1 137.96 L437.6 137.96 L438.1 137.97 L438.6 137.97 L439.1 137.98 L439.6 137.98 L440.1 137.99 L440.6 137.99 L441.1 137.99 L441.6 137.99 L442.1 138 L442.6 138 L443.1 138 L443.6 138 L444.1 138 L444.5 138" fill="none" stroke="#38447a" stroke-width="1.15" stroke-linejoin="round" stroke-linecap="round" />
<rect x="279.1" y="5.4" width="165.4" height="132.6" fill="none" stroke="#262626" stroke-width="1.25"/>
<line x1="302.73" y1="138" x2="302.73" y2="140.5" stroke="#262626" stroke-width="0.9"/>
<line x1="349.99" y1="138" x2="349.99" y2="140.5" stroke="#262626" stroke-width="0.9"/>
<line x1="397.24" y1="138" x2="397.24" y2="140.5" stroke="#262626" stroke-width="0.9"/>
<line x1="444.5" y1="138" x2="444.5" y2="140.5" stroke="#262626" stroke-width="0.9"/>
<line x1="279.1" y1="138" x2="279.1" y2="139.5" stroke="#262626" stroke-width="0.9"/>
<line x1="326.36" y1="138" x2="326.36" y2="139.5" stroke="#262626" stroke-width="0.9"/>
<line x1="373.61" y1="138" x2="373.61" y2="139.5" stroke="#262626" stroke-width="0.9"/>
<line x1="420.87" y1="138" x2="420.87" y2="139.5" stroke="#262626" stroke-width="0.9"/>
<text transform="translate(302.73 149.8) scale(0.9 1)" font-size="10.0" text-anchor="middle" font-weight="normal" fill="#1a1a1a" >400</text>
<text transform="translate(349.99 149.8) scale(0.9 1)" font-size="10.0" text-anchor="middle" font-weight="normal" fill="#1a1a1a" >600</text>
<text transform="translate(397.24 149.8) scale(0.9 1)" font-size="10.0" text-anchor="middle" font-weight="normal" fill="#1a1a1a" >800</text>
<text transform="translate(444.5 149.8) scale(0.9 1)" font-size="10.0" text-anchor="middle" font-weight="normal" fill="#1a1a1a" >1000</text>
<line x1="279.1" y1="138" x2="276.6" y2="138" stroke="#262626" stroke-width="0.9"/>
<line x1="279.1" y1="115.9" x2="276.6" y2="115.9" stroke="#262626" stroke-width="0.9"/>
<line x1="279.1" y1="93.8" x2="276.6" y2="93.8" stroke="#262626" stroke-width="0.9"/>
<line x1="279.1" y1="71.7" x2="276.6" y2="71.7" stroke="#262626" stroke-width="0.9"/>
<line x1="279.1" y1="49.6" x2="276.6" y2="49.6" stroke="#262626" stroke-width="0.9"/>
<line x1="279.1" y1="27.5" x2="276.6" y2="27.5" stroke="#262626" stroke-width="0.9"/>
<line x1="279.1" y1="5.4" x2="276.6" y2="5.4" stroke="#262626" stroke-width="0.9"/>
<line x1="279.1" y1="126.95" x2="277.6" y2="126.95" stroke="#262626" stroke-width="0.9"/>
<line x1="279.1" y1="104.85" x2="277.6" y2="104.85" stroke="#262626" stroke-width="0.9"/>
<line x1="279.1" y1="82.75" x2="277.6" y2="82.75" stroke="#262626" stroke-width="0.9"/>
<line x1="279.1" y1="60.65" x2="277.6" y2="60.65" stroke="#262626" stroke-width="0.9"/>
<line x1="279.1" y1="38.55" x2="277.6" y2="38.55" stroke="#262626" stroke-width="0.9"/>
<line x1="279.1" y1="16.45" x2="277.6" y2="16.45" stroke="#262626" stroke-width="0.9"/>
<text transform="translate(275.8 141.3) scale(0.9 1)" font-size="10.0" text-anchor="end" font-weight="normal" fill="#1a1a1a" >0.0</text>
<text transform="translate(275.8 119.2) scale(0.9 1)" font-size="10.0" text-anchor="end" font-weight="normal" fill="#1a1a1a" >0.2</text>
<text transform="translate(275.8 97.1) scale(0.9 1)" font-size="10.0" text-anchor="end" font-weight="normal" fill="#1a1a1a" >0.4</text>
<text transform="translate(275.8 75) scale(0.9 1)" font-size="10.0" text-anchor="end" font-weight="normal" fill="#1a1a1a" >0.6</text>
<text transform="translate(275.8 52.9) scale(0.9 1)" font-size="10.0" text-anchor="end" font-weight="normal" fill="#1a1a1a" >0.8</text>
<text transform="translate(275.8 30.8) scale(0.9 1)" font-size="10.0" text-anchor="end" font-weight="normal" fill="#1a1a1a" >1.0</text>
<text transform="translate(275.8 8.7) scale(0.9 1)" font-size="10.0" text-anchor="end" font-weight="normal" fill="#1a1a1a" >1.2</text>
<text transform="translate(361.8 165) scale(0.935 1)" font-size="9.9" text-anchor="middle" font-weight="normal" fill="#1a1a1a" >Wavelength (nm)</text>
<text transform="translate(258 71.3) rotate(-90) scale(0.935 1)" font-size="9.9" text-anchor="middle" font-weight="normal" fill="#1a1a1a" >Intensity (a.u.)</text>
<line x1="347.7" y1="11.6" x2="369.2" y2="11.6" stroke="#9e1f2b" stroke-width="1.3"/>
<text transform="translate(371.8 14.8) scale(0.935 1)" font-size="9.9" text-anchor="start" font-weight="normal" fill="#1a1a1a" >DPP-Py COFs</text>
<line x1="347.7" y1="23" x2="369.2" y2="23" stroke="#38447a" stroke-width="1.3"/>
<text transform="translate(371.8 26.2) scale(0.935 1)" font-size="9.9" text-anchor="start" font-weight="normal" fill="#1a1a1a" >TpDPP-Py COFs</text>
<text transform="translate(229.5 17.9) scale(0.9 1)" font-size="18.7" text-anchor="start" font-weight="bold" fill="#000" >b</text>
<path d="M526.3 133.7 L526.8 133.89 L527.3 134.07 L527.8 134.24 L528.3 134.42 L528.8 134.58 L529.3 134.75 L529.8 134.9 L530.3 135.05 L530.8 135.19 L531.3 135.32 L531.8 135.44 L532.3 135.55 L532.8 135.65 L533.3 135.74 L533.8 135.81 L534.3 135.88 L534.8 135.93 L535.3 135.98 L535.8 136.03 L536.3 136.08 L536.8 136.13 L537.3 136.17 L537.8 136.21 L538.3 136.25 L538.8 136.28 L539.3 136.31 L539.8 136.34 L540.3 136.36 L540.8 136.38 L541.3 136.39 L541.8 136.4 L542.3 136.39 L542.8 136.26 L543.3 136.02 L543.8 135.68 L544.3 135.25 L544.8 134.76 L545.3 134.23 L545.8 133.68 L546.3 133.13 L546.8 132.58 L547.3 131.98 L547.8 131.32 L548.3 130.6 L548.8 129.81 L549.3 128.97 L549.8 128.07 L550.3 127.12 L550.8 126.12 L551.3 125.07 L551.8 123.91 L552.3 122.63 L552.8 121.25 L553.3 119.77 L553.8 118.21 L554.3 116.57 L554.8 114.86 L555.3 113.09 L555.8 111.25 L556.3 109.22 L556.8 107 L557.3 104.64 L557.8 102.19 L558.3 99.69 L558.8 97.18 L559.3 94.73 L559.8 92.36 L560.3 90.11 L560.8 87.9 L561.3 85.69 L561.8 83.5 L562.3 81.34 L562.8 79.22 L563.3 77.14 L563.8 75.11 L564.3 73.15 L564.8 71.25 L565.3 69.41 L565.8 67.64 L566.3 65.94 L566.8 64.31 L567.3 62.68 L567.8 60.97 L568.3 59.42 L568.8 58.28 L569.3 57.67 L569.8 57.17 L570.3 56.73 L570.8 56.38 L571.3 56.14 L571.8 56.01 L572.3 56.02 L572.8 56.11 L573.3 56.27 L573.8 56.49 L574.3 56.77 L574.8 57.1 L575.3 57.46 L575.8 57.84 L576.3 58.29 L576.8 58.99 L577.3 59.89 L577.8 60.95 L578.3 62.1 L578.8 63.3 L579.3 64.48 L579.8 65.59 L580.3 66.61 L580.8 67.68 L581.3 68.78 L581.8 69.88 L582.3 70.96 L582.8 71.97 L583.3 72.9 L583.8 73.71 L584.3 74.4 L584.8 75 L585.3 75.54 L585.8 76.04 L586.3 76.51 L586.8 76.94 L587.3 77.37 L587.8 77.8 L588.3 78.24 L588.8 78.71 L589.3 79.21 L589.8 79.76 L590.3 80.37 L590.8 81.03 L591.3 81.73 L591.8 82.48 L592.3 83.25 L592.8 84.06 L593.3 84.9 L593.8 85.75 L594.3 86.62 L594.8 87.49 L595.3 88.38 L595.8 89.26 L596.3 90.14 L596.8 91.01 L597.3 91.86 L597.8 92.69 L598.3 93.5 L598.8 94.28 L599.3 95.03 L599.8 95.73 L600.3 96.4 L600.8 97.06 L601.3 97.72 L601.8 98.38 L602.3 99.03 L602.8 99.67 L603.3 100.32 L603.8 100.95 L604.3 101.58 L604.8 102.21 L605.3 102.83 L605.8 103.44 L606.3 104.05 L606.8 104.65 L607.3 105.24 L607.8 105.82 L608.3 106.39 L608.8 106.96 L609.3 107.51 L609.8 108.06 L610.3 108.59 L610.8 109.12 L611.3 109.63 L611.8 110.13 L612.3 110.62 L612.8 111.1 L613.3 111.57 L613.8 112.02 L614.3 112.46 L614.8 112.88 L615.3 113.3 L615.8 113.69 L616.3 114.08 L616.8 114.45 L617.3 114.81 L617.8 115.15 L618.3 115.5 L618.8 115.83 L619.3 116.15 L619.8 116.46 L620.3 116.77 L620.8 117.07 L621.3 117.37 L621.8 117.65 L622.3 117.94 L622.8 118.22 L623.3 118.49 L623.8 118.76 L624.3 119.03 L624.8 119.29 L625.3 119.55 L625.8 119.81 L626.3 120.07 L626.8 120.33 L627.3 120.59 L627.8 120.85 L628.3 121.11 L628.8 121.37 L629.3 121.63 L629.8 121.89 L630.3 122.16 L630.8 122.44 L631.3 122.72 L631.8 123 L632.3 123.29 L632.8 123.58 L633.3 123.87 L633.8 124.15 L634.3 124.44 L634.8 124.72 L635.3 124.99 L635.8 125.26 L636.3 125.51 L636.8 125.76 L637.3 125.99 L637.8 126.22 L638.3 126.42 L638.8 126.61 L639.3 126.79 L639.8 126.94 L640.3 127.08 L640.8 127.21 L641.3 127.34 L641.8 127.47 L642.3 127.59 L642.8 127.71 L643.3 127.82 L643.8 127.93 L644.3 128.04 L644.8 128.15 L645.3 128.25 L645.8 128.35 L646.3 128.44 L646.8 128.54 L647.3 128.63 L647.8 128.72 L648.3 128.81 L648.8 128.89 L649.3 128.97 L649.8 129.05 L650.3 129.13 L650.8 129.21 L651.3 129.29 L651.8 129.36 L652.3 129.44 L652.8 129.51 L653.3 129.58 L653.8 129.65 L654.3 129.72 L654.8 129.79 L655.3 129.86 L655.8 129.93 L656.3 129.99 L656.8 130.06 L657.3 130.13 L657.8 130.2 L658.3 130.27 L658.8 130.33 L659.3 130.4 L659.8 130.47 L660.3 130.54 L660.8 130.61 L661.3 130.68 L661.8 130.75 L662.3 130.81 L662.8 130.88 L663.3 130.95 L663.8 131.01 L664.3 131.08 L664.8 131.14 L665.3 131.2 L665.8 131.27 L666.3 131.33 L666.8 131.39 L667.3 131.45 L667.8 131.51 L668.3 131.57 L668.8 131.62 L669.3 131.68 L669.8 131.74 L670.3 131.79 L670.8 131.85 L671.3 131.9 L671.8 131.95 L672.3 132.01 L672.8 132.06 L673.3 132.11 L673.8 132.16 L674.3 132.21 L674.8 132.25 L675.3 132.3" fill="none" stroke="#3bb3b5" stroke-width="1.15" stroke-linejoin="round" stroke-linecap="round" />
<path d="M521.4 127 L521.9 127.22 L522.4 127.44 L522.9 127.65 L523.4 127.85 L523.9 128.05 L524.4 128.24 L524.9 128.42 L525.4 128.59 L525.9 128.76 L526.4 128.91 L526.9 129.04 L527.4 129.17 L527.9 129.28 L528.4 129.38 L528.9 129.48 L529.4 129.58 L529.9 129.68 L530.4 129.77 L530.9 129.86 L531.4 129.95 L531.9 130.03 L532.4 130.11 L532.9 130.18 L533.4 130.24 L533.9 130.29 L534.4 130.34 L534.9 130.37 L535.4 130.39 L535.9 130.4 L536.4 130.4 L536.9 130.38 L537.4 130.36 L537.9 130.32 L538.4 130.28 L538.9 130.22 L539.4 130.15 L539.9 130.08 L540.4 129.99 L540.9 129.89 L541.4 129.78 L541.9 129.67 L542.4 129.54 L542.9 129.41 L543.4 129.26 L543.9 129.07 L544.4 128.71 L544.9 128.2 L545.4 127.57 L545.9 126.85 L546.4 126.09 L546.9 125.31 L547.4 124.55 L547.9 123.74 L548.4 122.86 L548.9 121.91 L549.4 120.91 L549.9 119.86 L550.4 118.78 L550.9 117.69 L551.4 116.57 L551.9 115.43 L552.4 114.24 L552.9 113.01 L553.4 111.71 L553.9 110.35 L554.4 108.92 L554.9 107.39 L555.4 105.78 L555.9 104.03 L556.4 102.04 L556.9 99.85 L557.4 97.47 L557.9 94.95 L558.4 92.32 L558.9 89.6 L559.4 86.84 L559.9 84.07 L560.4 81.32 L560.9 78.62 L561.4 76.01 L561.9 73.48 L562.4 70.9 L562.9 68.3 L563.4 65.74 L563.9 63.25 L564.4 60.89 L564.9 58.66 L565.4 56.36 L565.9 54.04 L566.4 51.76 L566.9 49.58 L567.4 47.56 L567.9 45.78 L568.4 44.3 L568.9 43.18 L569.4 42.34 L569.9 41.54 L570.4 40.8 L570.9 40.14 L571.4 39.57 L571.9 39.13 L572.4 38.83 L572.9 38.7 L573.4 38.73 L573.9 38.85 L574.4 39.05 L574.9 39.31 L575.4 39.64 L575.9 40.02 L576.4 40.45 L576.9 40.91 L577.4 41.52 L577.9 42.51 L578.4 43.8 L578.9 45.3 L579.4 46.93 L579.9 48.61 L580.4 50.23 L580.9 51.72 L581.4 53.08 L581.9 54.43 L582.4 55.78 L582.9 57.11 L583.4 58.43 L583.9 59.74 L584.4 61.04 L584.9 62.36 L585.4 63.69 L585.9 65.01 L586.4 66.33 L586.9 67.64 L587.4 68.93 L587.9 70.19 L588.4 71.41 L588.9 72.59 L589.4 73.72 L589.9 74.79 L590.4 75.82 L590.9 76.82 L591.4 77.79 L591.9 78.75 L592.4 79.69 L592.9 80.61 L593.4 81.51 L593.9 82.39 L594.4 83.26 L594.9 84.11 L595.4 84.94 L595.9 85.76 L596.4 86.56 L596.9 87.36 L597.4 88.13 L597.9 88.9 L598.4 89.65 L598.9 90.4 L599.4 91.13 L599.9 91.86 L600.4 92.57 L600.9 93.29 L601.4 94.01 L601.9 94.72 L602.4 95.43 L602.9 96.14 L603.4 96.84 L603.9 97.54 L604.4 98.23 L604.9 98.92 L605.4 99.6 L605.9 100.27 L606.4 100.94 L606.9 101.6 L607.4 102.25 L607.9 102.89 L608.4 103.52 L608.9 104.14 L609.4 104.75 L609.9 105.35 L610.4 105.94 L610.9 106.52 L611.4 107.08 L611.9 107.63 L612.4 108.16 L612.9 108.68 L613.4 109.18 L613.9 109.67 L614.4 110.15 L614.9 110.6 L615.4 111.04 L615.9 111.46 L616.4 111.86 L616.9 112.25 L617.4 112.62 L617.9 112.98 L618.4 113.34 L618.9 113.68 L619.4 114.01 L619.9 114.33 L620.4 114.65 L620.9 114.96 L621.4 115.26 L621.9 115.55 L622.4 115.84 L622.9 116.12 L623.4 116.4 L623.9 116.68 L624.4 116.95 L624.9 117.22 L625.4 117.49 L625.9 117.76 L626.4 118.03 L626.9 118.29 L627.4 118.56 L627.9 118.83 L628.4 119.11 L628.9 119.38 L629.4 119.66 L629.9 119.94 L630.4 120.23 L630.9 120.53 L631.4 120.83 L631.9 121.14 L632.4 121.46 L632.9 121.77 L633.4 122.09 L633.9 122.4 L634.4 122.71 L634.9 123.02 L635.4 123.32 L635.9 123.61 L636.4 123.89 L636.9 124.17 L637.4 124.42 L637.9 124.67 L638.4 124.9 L638.9 125.11 L639.4 125.3 L639.9 125.47 L640.4 125.62 L640.9 125.77 L641.4 125.92 L641.9 126.06 L642.4 126.2 L642.9 126.33 L643.4 126.46 L643.9 126.59 L644.4 126.71 L644.9 126.83 L645.4 126.95 L645.9 127.07 L646.4 127.18 L646.9 127.29 L647.4 127.39 L647.9 127.5 L648.4 127.6 L648.9 127.7 L649.4 127.79 L649.9 127.89 L650.4 127.98 L650.9 128.07 L651.4 128.16 L651.9 128.25 L652.4 128.33 L652.9 128.42 L653.4 128.5 L653.9 128.58 L654.4 128.66 L654.9 128.74 L655.4 128.82 L655.9 128.89 L656.4 128.97 L656.9 129.04 L657.4 129.12 L657.9 129.19 L658.4 129.27 L658.9 129.34 L659.4 129.41 L659.9 129.49 L660.4 129.56 L660.9 129.63 L661.4 129.7 L661.9 129.77 L662.4 129.84 L662.9 129.91 L663.4 129.98 L663.9 130.05 L664.4 130.11 L664.9 130.18 L665.4 130.24 L665.9 130.31 L666.4 130.37 L666.9 130.43 L667.4 130.49 L667.9 130.55 L668.4 130.61 L668.9 130.67 L669.4 130.73 L669.9 130.78 L670.4 130.84 L670.9 130.89 L671.4 130.94 L671.9 130.99 L672.4 131.04 L672.9 131.09 L673.4 131.13 L673.9 131.18 L674.4 131.22 L674.9 131.27 L675.3 131.3" fill="none" stroke="#1a1a1a" stroke-width="1.15" stroke-linejoin="round" stroke-linecap="round" />
<path d="M550.2 122.5 L550.7 121.38 L551.2 120.16 L551.7 118.85 L552.2 117.46 L552.7 115.97 L553.2 114.41 L553.7 112.78 L554.2 111.08 L554.7 109.32 L555.2 107.49 L555.7 105.62 L556.2 103.57 L556.7 101.31 L557.2 98.89 L557.7 96.33 L558.2 93.69 L558.7 90.98 L559.2 88.25 L559.7 85.54 L560.2 82.88 L560.7 80.3 L561.2 77.85 L561.7 75.55 L562.2 73.26 L562.7 70.95 L563.2 68.69 L563.7 66.55 L564.2 64.59 L564.7 62.88 L565.2 61.46 L565.7 60.16 L566.2 58.92 L566.7 57.77 L567.2 56.73 L567.7 55.79 L568.2 54.99 L568.7 54.32 L569.2 53.8 L569.7 53.32 L570.2 52.86 L570.7 52.44 L571.2 52.07 L571.7 51.77 L572.2 51.54 L572.7 51.42 L573.2 51.41 L573.7 51.51 L574.2 51.71 L574.7 52 L575.2 52.36 L575.7 52.77 L576.2 53.23 L576.7 53.71 L577.2 54.22 L577.7 54.93 L578.2 55.83 L578.7 56.87 L579.2 58 L579.7 59.17 L580.2 60.32 L580.7 61.41 L581.2 62.38 L581.7 63.32 L582.2 64.25 L582.7 65.17 L583.2 66.08 L583.7 66.98 L584.2 67.88 L584.7 68.77 L585.2 69.65 L585.7 70.53 L586.2 71.4 L586.7 72.28 L587.2 73.15 L587.7 74.01 L588.2 74.88 L588.7 75.75 L589.2 76.61 L589.7 77.48 L590.2 78.35 L590.7 79.23 L591.2 80.12 L591.7 81.01 L592.2 81.91 L592.7 82.82 L593.2 83.72 L593.7 84.62 L594.2 85.52 L594.7 86.42 L595.2 87.3 L595.7 88.18 L596.2 89.04 L596.7 89.89 L597.2 90.73 L597.7 91.54 L598.2 92.34 L598.7 93.11 L599.2 93.86 L599.7 94.58 L600.2 95.28 L600.7 95.96 L601.2 96.64 L601.7 97.32 L602.2 98 L602.7 98.66 L603.2 99.33 L603.7 99.98 L604.2 100.63 L604.7 101.28 L605.2 101.91 L605.7 102.54 L606.2 103.16 L606.7 103.78 L607.2 104.38 L607.7 104.97 L608.2 105.56 L608.7 106.14 L609.2 106.7 L609.7 107.25 L610.2 107.8 L610.7 108.33 L611.2 108.85 L611.7 109.36 L612.2 109.85 L612.7 110.33 L613.2 110.8 L613.7 111.25 L614.2 111.69 L614.7 112.12 L615.2 112.53 L615.7 112.92 L616.2 113.3 L616.7 113.66 L617.2 114.02 L617.7 114.36 L618.2 114.69 L618.7 115.01 L619.2 115.32 L619.7 115.63 L620.2 115.92 L620.7 116.21 L621.2 116.49 L621.7 116.77 L622.2 117.04 L622.7 117.3 L623.2 117.56 L623.7 117.82 L624.2 118.07 L624.7 118.32 L625.2 118.57 L625.7 118.82 L626.2 119.07 L626.7 119.32 L627.2 119.57 L627.7 119.82 L628.2 120.07 L628.7 120.32 L629.2 120.58 L629.7 120.84 L630.2 121.11 L630.7 121.38 L631.2 121.66 L631.7 121.95 L632.2 122.24 L632.7 122.53 L633.2 122.82 L633.7 123.12 L634.2 123.41 L634.7 123.69 L635.2 123.98 L635.7 124.25 L636.2 124.52 L636.7 124.77 L637.2 125.02 L637.7 125.25 L638.2 125.46 L638.7 125.67 L639.2 125.85 L639.7 126.01 L640.2 126.16 L640.7 126.29 L641.2 126.42 L641.7 126.55 L642.2 126.68 L642.7 126.8 L643.2 126.91 L643.7 127.03 L644.2 127.14 L644.7 127.25 L645.2 127.35 L645.7 127.45 L646.2 127.55 L646.7 127.64 L647.2 127.74 L647.7 127.83 L648.2 127.91 L648.7 128 L649.2 128.08 L649.7 128.17 L650.2 128.25 L650.7 128.33 L651.2 128.4 L651.7 128.48 L652.2 128.56 L652.7 128.63 L653.2 128.7 L653.7 128.78 L654.2 128.85 L654.7 128.92 L655.2 128.99 L655.7 129.07 L656.2 129.14 L656.7 129.21 L657.2 129.28 L657.7 129.36 L658.2 129.43 L658.7 129.5 L659.2 129.58 L659.7 129.65 L660.2 129.73 L660.7 129.81 L661.2 129.88 L661.7 129.96 L662.2 130.04 L662.7 130.11 L663.2 130.18 L663.7 130.26 L664.2 130.33 L664.7 130.4 L665.2 130.48 L665.7 130.55 L666.2 130.62 L666.7 130.69 L667.2 130.76 L667.7 130.83 L668.2 130.89 L668.7 130.96 L669.2 131.03 L669.7 131.1 L670.2 131.16 L670.7 131.23 L671.2 131.29 L671.7 131.36 L672.2 131.42 L672.7 131.48 L673.2 131.55 L673.7 131.61 L674.2 131.67 L674.7 131.73 L675.2 131.79 L675.3 131.8" fill="none" stroke="#9e1f2b" stroke-width="1.15" stroke-linejoin="round" stroke-linecap="round" />
<path d="M521.4 119.4 L521.9 119.17 L522.4 118.94 L522.9 118.71 L523.4 118.49 L523.9 118.27 L524.4 118.04 L524.9 117.82 L525.4 117.61 L525.9 117.39 L526.4 117.18 L526.9 116.96 L527.4 116.75 L527.9 116.54 L528.4 116.32 L528.9 116.08 L529.4 115.83 L529.9 115.56 L530.4 115.3 L530.9 115.05 L531.4 114.81 L531.9 114.6 L532.4 114.43 L532.9 114.3 L533.4 114.22 L533.9 114.22 L534.4 114.75 L534.9 115.28 L535.4 115.17 L535.9 114.77 L536.4 114.29 L536.9 113.85 L537.4 113.38 L537.9 112.89 L538.4 112.36 L538.9 111.82 L539.4 111.26 L539.9 110.68 L540.4 110.1 L540.9 109.51 L541.4 108.92 L541.9 108.33 L542.4 107.75 L542.9 107.18 L543.4 106.6 L543.9 106.02 L544.4 105.44 L544.9 104.85 L545.4 104.24 L545.9 103.62 L546.4 102.98 L546.9 102.31 L547.4 101.62 L547.9 100.9 L548.4 100.15 L548.9 99.37 L549.4 98.58 L549.9 97.74 L550.4 96.87 L550.9 95.94 L551.4 94.95 L551.9 93.9 L552.4 92.77 L552.9 91.55 L553.4 90.19 L553.9 88.68 L554.4 87.05 L554.9 85.31 L555.4 83.46 L555.9 81.52 L556.4 79.5 L556.9 77.27 L557.4 74.75 L557.9 72.02 L558.4 69.2 L558.9 66.35 L559.4 63.58 L559.9 60.98 L560.4 58.59 L560.9 56.34 L561.4 54.19 L561.9 52.1 L562.4 50.05 L562.9 48.03 L563.4 45.99 L563.9 43.93 L564.4 41.8 L564.9 39.59 L565.4 37.28 L565.9 34.74 L566.4 31.87 L566.9 28.83 L567.4 25.79 L567.9 22.92 L568.4 20.38 L568.9 18.33 L569.4 16.72 L569.9 15.12 L570.4 13.57 L570.9 12.12 L571.4 10.8 L571.9 9.65 L572.4 8.71 L572.9 8.04 L573.4 7.66 L573.9 7.61 L574.4 7.67 L574.9 7.81 L575.4 8.01 L575.9 8.27 L576.4 8.58 L576.9 8.93 L577.4 9.51 L577.9 10.63 L578.4 12.17 L578.9 13.95 L579.4 15.83 L579.9 17.66 L580.4 19.39 L580.9 21.23 L581.4 23.16 L581.9 25.16 L582.4 27.21 L582.9 29.3 L583.4 31.4 L583.9 33.49 L584.4 35.57 L584.9 37.62 L585.4 39.71 L585.9 41.86 L586.4 44.03 L586.9 46.22 L587.4 48.4 L587.9 50.56 L588.4 52.67 L588.9 54.73 L589.4 56.7 L589.9 58.58 L590.4 60.34 L590.9 62.03 L591.4 63.67 L591.9 65.25 L592.4 66.79 L592.9 68.27 L593.4 69.71 L593.9 71.1 L594.4 72.45 L594.9 73.75 L595.4 75 L595.9 76.21 L596.4 77.39 L596.9 78.52 L597.4 79.63 L597.9 80.71 L598.4 81.76 L598.9 82.79 L599.4 83.8 L599.9 84.8 L600.4 85.78 L600.9 86.74 L601.4 87.68 L601.9 88.6 L602.4 89.5 L602.9 90.39 L603.4 91.26 L603.9 92.12 L604.4 92.98 L604.9 93.83 L605.4 94.68 L605.9 95.54 L606.4 96.4 L606.9 97.25 L607.4 98.1 L607.9 98.92 L608.4 99.71 L608.9 100.47 L609.4 101.2 L609.9 101.87 L610.4 102.51 L610.9 103.12 L611.4 103.72 L611.9 104.3 L612.4 104.87 L612.9 105.41 L613.4 105.94 L613.9 106.44 L614.4 106.93 L614.9 107.39 L615.4 107.84 L615.9 108.26 L616.4 108.66 L616.9 109.05 L617.4 109.42 L617.9 109.79 L618.4 110.15 L618.9 110.5 L619.4 110.83 L619.9 111.16 L620.4 111.48 L620.9 111.79 L621.4 112.09 L621.9 112.38 L622.4 112.66 L622.9 112.94 L623.4 113.2 L623.9 113.46 L624.4 113.71 L624.9 113.95 L625.4 114.19 L625.9 114.42 L626.4 114.65 L626.9 114.87 L627.4 115.09 L627.9 115.3 L628.4 115.51 L628.9 115.72 L629.4 115.93 L629.9 116.13 L630.4 116.32 L630.9 116.52 L631.4 116.71 L631.9 116.89 L632.4 117.08 L632.9 117.26 L633.4 117.43 L633.9 117.61 L634.4 117.78 L634.9 117.95 L635.4 118.11 L635.9 118.27 L636.4 118.43 L636.9 118.59 L637.4 118.74 L637.9 118.89 L638.4 119.04 L638.9 119.19 L639.4 119.33 L639.9 119.47 L640.4 119.61 L640.9 119.75 L641.4 119.89 L641.9 120.04 L642.4 120.18 L642.9 120.32 L643.4 120.46 L643.9 120.6 L644.4 120.73 L644.9 120.86 L645.4 120.99 L645.9 121.12 L646.4 121.24 L646.9 121.36 L647.4 121.48 L647.9 121.58 L648.4 121.69 L648.9 121.78 L649.4 121.87 L649.9 121.96 L650.4 122.03 L650.9 122.1 L651.4 122.16 L651.9 122.21 L652.4 122.26 L652.9 122.3 L653.4 122.35 L653.9 122.4 L654.4 122.44 L654.9 122.49 L655.4 122.53 L655.9 122.57 L656.4 122.61 L656.9 122.66 L657.4 122.7 L657.9 122.74 L658.4 122.78 L658.9 122.81 L659.4 122.85 L659.9 122.89 L660.4 122.93 L660.9 122.96 L661.4 122.99 L661.9 123.03 L662.4 123.06 L662.9 123.09 L663.4 123.12 L663.9 123.15 L664.4 123.18 L664.9 123.21 L665.4 123.23 L665.9 123.26 L666.4 123.28 L666.9 123.3 L667.4 123.33 L667.9 123.35 L668.4 123.37 L668.9 123.38 L669.4 123.4 L669.9 123.42 L670.4 123.43 L670.9 123.44 L671.4 123.46 L671.9 123.47 L672.4 123.48 L672.9 123.48 L673.4 123.49 L673.9 123.49 L674.4 123.5 L674.9 123.5 L675.3 123.5" fill="none" stroke="#38447a" stroke-width="1.15" stroke-linejoin="round" stroke-linecap="round" />
<rect x="509.7" y="5.5" width="165.6" height="132.1" fill="none" stroke="#262626" stroke-width="1.25"/>
<line x1="521.53" y1="137.6" x2="521.53" y2="140.1" stroke="#262626" stroke-width="0.9"/>
<line x1="545.19" y1="137.6" x2="545.19" y2="140.1" stroke="#262626" stroke-width="0.9"/>
<line x1="568.84" y1="137.6" x2="568.84" y2="140.1" stroke="#262626" stroke-width="0.9"/>
<line x1="592.5" y1="137.6" x2="592.5" y2="140.1" stroke="#262626" stroke-width="0.9"/>
<line x1="616.16" y1="137.6" x2="616.16" y2="140.1" stroke="#262626" stroke-width="0.9"/>
<line x1="639.81" y1="137.6" x2="639.81" y2="140.1" stroke="#262626" stroke-width="0.9"/>
<line x1="663.47" y1="137.6" x2="663.47" y2="140.1" stroke="#262626" stroke-width="0.9"/>
<line x1="533.36" y1="137.6" x2="533.36" y2="139.1" stroke="#262626" stroke-width="0.9"/>
<line x1="557.01" y1="137.6" x2="557.01" y2="139.1" stroke="#262626" stroke-width="0.9"/>
<line x1="580.67" y1="137.6" x2="580.67" y2="139.1" stroke="#262626" stroke-width="0.9"/>
<line x1="604.33" y1="137.6" x2="604.33" y2="139.1" stroke="#262626" stroke-width="0.9"/>
<line x1="627.99" y1="137.6" x2="627.99" y2="139.1" stroke="#262626" stroke-width="0.9"/>
<line x1="651.64" y1="137.6" x2="651.64" y2="139.1" stroke="#262626" stroke-width="0.9"/>
<line x1="675.3" y1="137.6" x2="675.3" y2="139.1" stroke="#262626" stroke-width="0.9"/>
<text transform="translate(521.53 150) scale(0.9 1)" font-size="10.0" text-anchor="middle" font-weight="normal" fill="#1a1a1a" >600</text>
<text transform="translate(545.19 150) scale(0.9 1)" font-size="10.0" text-anchor="middle" font-weight="normal" fill="#1a1a1a" >700</text>
<text transform="translate(568.84 150) scale(0.9 1)" font-size="10.0" text-anchor="middle" font-weight="normal" fill="#1a1a1a" >800</text>
<text transform="translate(592.5 150) scale(0.9 1)" font-size="10.0" text-anchor="middle" font-weight="normal" fill="#1a1a1a" >900</text>
<text transform="translate(616.16 150) scale(0.9 1)" font-size="10.0" text-anchor="middle" font-weight="normal" fill="#1a1a1a" >1000</text>
<text transform="translate(639.81 150) scale(0.9 1)" font-size="10.0" text-anchor="middle" font-weight="normal" fill="#1a1a1a" >1100</text>
<text transform="translate(663.47 150) scale(0.9 1)" font-size="10.0" text-anchor="middle" font-weight="normal" fill="#1a1a1a" >1200</text>
<text transform="translate(592.5 164.4) scale(0.935 1)" font-size="9.9" text-anchor="middle" font-weight="normal" fill="#1a1a1a" >Wavelength (nm)</text>
<text transform="translate(503.6 71.1) rotate(-90) scale(0.935 1)" font-size="9.9" text-anchor="middle" font-weight="normal" fill="#1a1a1a" >Intensity (a.u.)</text>
<text transform="translate(610.6 22.9) scale(0.935 1)" font-size="9.9" text-anchor="start" font-weight="normal" fill="#1a1a1a" >Excitation</text>
<line x1="611.3" y1="35.3" x2="632.4" y2="35.3" stroke="#38447a" stroke-width="1.3"/>
<text transform="translate(635 38.5) scale(0.935 1)" font-size="9.9" text-anchor="start" font-weight="normal" fill="#1a1a1a" >300 nm</text>
<line x1="611.3" y1="46.7" x2="632.4" y2="46.7" stroke="#1a1a1a" stroke-width="1.3"/>
<text transform="translate(635 49.9) scale(0.935 1)" font-size="9.9" text-anchor="start" font-weight="normal" fill="#1a1a1a" >500 nm</text>
<line x1="611.3" y1="58.1" x2="632.4" y2="58.1" stroke="#3bb3b5" stroke-width="1.3"/>
<text transform="translate(635 61.3) scale(0.935 1)" font-size="9.9" text-anchor="start" font-weight="normal" fill="#1a1a1a" >600 nm</text>
<line x1="611.3" y1="69.5" x2="632.4" y2="69.5" stroke="#9e1f2b" stroke-width="1.3"/>
<text transform="translate(635 72.7) scale(0.935 1)" font-size="9.9" text-anchor="start" font-weight="normal" fill="#1a1a1a" >700 nm</text>
<text transform="translate(490 17.7) scale(0.9 1)" font-size="18.7" text-anchor="start" font-weight="bold" fill="#000" >c</text>
<path d="M42.2 318.6 L42.41 318.6 L42.62 318.6 L42.82 318.6 L43.03 318.6 L43.24 318.6 L43.45 318.6 L43.65 318.6 L43.86 318.6 L44.07 318.6 L44.28 318.6 L44.48 318.6 L44.69 318.6 L44.9 316.71 L45.11 313.33 L45.31 308.95 L45.52 303.77 L45.73 297.89 L45.94 291.4 L46.15 284.34 L46.35 276.76 L46.56 268.69 L46.77 260.16 L46.98 251.19 L47.18 241.81 L47.39 232.02 L47.6 221.85 L47.81 211.32 L48.01 200.42 L48.22 192.64 L48.43 195.86 L48.64 198.96 L48.84 208.02 L49.05 209.77 L49.26 201.4 L49.47 215.08 L49.67 213.21 L49.88 210.64 L50.09 221.21 L50.3 221 L50.51 222.13 L50.71 224.6 L50.92 233.27 L51.13 228.79 L51.34 224.58 L51.54 240.54 L51.75 231 L51.96 236.32 L52.17 241.55 L52.37 231.45 L52.58 238.68 L52.79 248.8 L53 244.88 L53.2 244.3 L53.41 248.95 L53.62 246.84 L53.83 251.24 L54.04 249.69 L54.24 248.05 L54.45 257.43 L54.66 255.31 L54.87 258.97 L55.07 257.94 L55.28 263.78 L55.49 262.65 L55.7 262.33 L55.9 259.56 L56.11 259.75 L56.32 269.06 L56.53 268.17 L56.73 264.32 L56.94 273.78 L57.15 269.66 L57.36 269.31 L57.56 265.88 L57.77 268.46 L57.98 272.36 L58.19 273.22 L58.4 273.57 L58.6 269.02 L58.81 275.47 L59.02 275.76 L59.23 274.51 L59.43 276.5 L59.64 277.33 L59.85 280.48 L60.06 277.99 L60.26 279.74 L60.47 275.92 L60.68 277.86 L60.89 280.21 L61.09 278.9 L61.3 282.05 L61.51 278.92 L61.72 282.14 L61.93 281.11 L62.13 286.32 L62.34 282.63 L62.55 288.14 L62.76 289.39 L62.96 285.52 L63.17 287.37 L63.38 285.18 L63.59 280.57 L63.79 288.33 L64 288.19 L64.21 286.6 L64.42 286.28 L64.62 288.19 L64.83 288.6 L65.04 286.85 L65.25 287.6 L65.46 291.44 L65.66 289.6 L65.87 289.65 L66.08 292.37 L66.29 289.76 L66.49 292.5 L66.7 288.79 L66.91 290.77 L67.12 291.27 L67.32 293 L67.53 292.25 L67.74 296.49 L67.95 294.9 L68.15 292.01 L68.36 297.45 L68.57 291.5 L68.78 297.1 L68.98 292.18 L69.19 295.69 L69.4 292.61 L69.61 294.15 L69.82 297.73 L70.02 292.35 L70.23 292.19 L70.44 295.41 L70.65 296.02 L70.85 296 L71.06 297.79 L71.27 293.95 L71.48 297.33 L71.68 296.57 L71.89 298.19 L72.1 298.05 L72.31 299.47 L72.51 294.84 L72.72 297.69 L72.93 295.76 L73.14 297.73 L73.35 299.22 L73.55 298.7 L73.76 299.3 L73.97 298.41 L74.18 299.28 L74.38 299.3 L74.59 301.42 L74.8 300.53 L75.01 296.24 L75.21 300.59 L75.42 301.42 L75.63 299.09 L75.84 297.34 L76.04 302.56 L76.25 300.5 L76.46 301.38 L76.67 303.5 L76.87 299.28 L77.08 300.74 L77.29 300.71 L77.5 302.27 L77.71 300.32 L77.91 302.17 L78.12 301.62 L78.33 303.39 L78.54 303.7 L78.74 299.5 L78.95 302.74 L79.16 301.53 L79.37 302.2 L79.57 303 L79.78 303.23 L79.99 301.46 L80.2 303.13 L80.4 302.99 L80.61 302.83 L80.82 301.06 L81.03 301.99 L81.24 302.59 L81.44 304.24 L81.65 305.67 L81.86 302.02 L82.07 302.11 L82.27 303.99 L82.48 303.01 L82.69 302.74 L82.9 302.77 L83.1 302.74 L83.31 305.02 L83.52 302.02 L83.73 306.46 L83.93 303.26 L84.14 303.94 L84.35 303.45 L84.56 302 L84.77 302.71 L84.97 306.87 L85.18 307.8 L85.39 304.05 L85.6 306.94 L85.8 305.51 L86.01 304.31 L86.22 308.16 L86.43 308.95 L86.63 305.47 L86.84 305.88 L87.05 306.41 L87.26 306.07 L87.46 307.5 L87.67 308.56 L87.88 306.64 L88.09 307.92 L88.29 308.99 L88.5 305.91 L88.71 306.83 L88.92 306.22 L89.13 308.35 L89.33 307.94 L89.54 308.52 L89.75 308.43 L89.96 306.95 L90.16 308.44 L90.37 306.88 L90.58 306.98 L90.79 304.65 L90.99 309.61 L91.2 306.44 L91.41 307.91 L91.62 307.88 L91.82 309.98 L92.03 308.65 L92.24 307.03 L92.45 308.27 L92.66 308.11 L92.86 308.71 L93.07 306.76 L93.28 308.47 L93.49 311.57 L93.69 309.54 L93.9 311.37 L94.11 313.2 L94.32 309.52 L94.52 307.03 L94.73 308.87 L94.94 310.6 L95.15 310.35 L95.35 307.6 L95.56 308.98 L95.77 309.2 L95.98 309.4 L96.18 309.34 L96.39 308.38 L96.6 308.78 L96.81 309.3 L97.02 311.04 L97.22 309.03 L97.43 310.68 L97.64 308.38 L97.85 311.58 L98.05 310.14 L98.26 310.03 L98.47 311.82 L98.68 307.87 L98.88 308.28 L99.09 310.86 L99.3 309.3 L99.51 309.88 L99.71 313.83 L99.92 310.16 L100.13 310.62 L100.34 310.49 L100.55 312.04 L100.75 311.05 L100.96 310.99 L101.17 309.29 L101.38 310.44 L101.58 310.93 L101.79 309.03 L102 311.74 L102.21 311.58 L102.41 313.44 L102.62 309.2 L102.83 310.02 L103.04 310.13 L103.24 310.5 L103.45 311.25 L103.66 311.17 L103.87 311.81 L104.08 311.79 L104.28 311.52 L104.49 309.75 L104.7 311 L104.91 311.81 L105.11 312.5 L105.32 312.62 L105.53 309.9 L105.74 311.3 L105.94 311.89 L106.15 312.44 L106.36 313.42 L106.57 312.19 L106.77 311.08 L106.98 312.68 L107.19 312.52 L107.4 312.55 L107.6 312.2 L107.81 314.31 L108.02 312.7 L108.23 313.49 L108.44 311.43 L108.64 313.47 L108.85 311.89 L109.06 310.8 L109.27 313.04 L109.47 313.43 L109.68 312.52 L109.89 312.79 L110.1 314.02 L110.3 312.32 L110.51 310.51 L110.72 313.26 L110.93 313.23 L111.13 314.27 L111.34 312.69 L111.55 314.58 L111.76 314.45 L111.97 311.68 L112.17 314.28 L112.38 311.99 L112.59 311.51 L112.8 313.03 L113 312.72 L113.21 311.13 L113.42 313.67 L113.63 314.17 L113.83 315.08 L114.04 313.5 L114.25 311.87 L114.46 312.51 L114.66 314.74 L114.87 314.67 L115.08 314.3 L115.29 313.42 L115.49 314.02 L115.7 313.57 L115.91 313.51 L116.12 314.23 L116.33 313.96 L116.53 313.71 L116.74 314.08 L116.95 313.44 L117.16 311.92 L117.36 313.41 L117.57 314.05 L117.78 316.05 L117.99 313.73 L118.19 316.4 L118.4 315.82 L118.61 313.3 L118.82 313.5 L119.02 314.49 L119.23 316.27 L119.44 314.8 L119.65 315.17 L119.86 313.73 L120.06 311.94 L120.27 314.26 L120.48 315.4 L120.69 315.86 L120.89 314.64 L121.1 314.81 L121.31 315.92 L121.52 314.54 L121.72 315.97 L121.93 313.49 L122.14 313.57 L122.35 313.57 L122.55 315.32 L122.76 314.26 L122.97 315 L123.18 315.31 L123.39 315.28 L123.59 316.36 L123.8 316.54 L124.01 314.11 L124.22 315.21 L124.42 314.79 L124.63 313.96 L124.84 316.97 L125.05 315.96 L125.25 314.94 L125.46 314.73 L125.67 315.59 L125.88 314.08 L126.08 315 L126.29 316.56 L126.5 316.28 L126.71 314.42 L126.91 314.81 L127.12 317.39 L127.33 313.91 L127.54 314.74 L127.75 313.96 L127.95 315.84 L128.16 315.77 L128.37 316.68 L128.58 312.77 L128.78 315.7 L128.99 313.84 L129.2 316.25 L129.41 315.4 L129.61 317.39 L129.82 316.03 L130.03 314.59 L130.24 317 L130.44 314.54 L130.65 315.34 L130.86 316.83 L131.07 316.28 L131.28 316.25 L131.48 315.83 L131.69 316.37 L131.9 316.7 L132.11 316.16 L132.31 316.94 L132.52 317.24 L132.73 315.95 L132.94 314.99 L133.14 317.54 L133.35 315.95 L133.56 316.65 L133.77 317.02 L133.97 315.11 L134.18 316.57 L134.39 314.47 L134.6 316.88 L134.81 315.67 L135.01 316.33 L135.22 316.9 L135.43 315.52 L135.64 316.31 L135.84 315.54 L136.05 316.23 L136.26 317.33 L136.47 316.32 L136.67 316.18 L136.88 315.25 L137.09 317.21 L137.3 316.32 L137.5 318.08 L137.71 315.64 L137.92 317.45 L138.13 318.21 L138.33 316.42 L138.54 315.23 L138.75 317.96 L138.96 317.53 L139.17 317.19 L139.37 317.6 L139.58 316.06 L139.79 317.3 L140 317.22 L140.2 315.9 L140.41 317.29 L140.62 316.08 L140.83 317.54 L141.03 317.8 L141.24 318.45 L141.45 314.68 L141.66 316.92 L141.86 316.36 L142.07 316.66 L142.28 316.47 L142.49 316.6 L142.7 314.72 L142.9 317.74 L143.11 318.28 L143.32 317.73 L143.53 318.08 L143.73 315.97 L143.94 315.91 L144.15 317.73 L144.36 318.18 L144.56 317.14 L144.77 315.38 L144.98 319.66 L145.19 316.29 L145.39 317.92 L145.6 315.79 L145.81 317.95 L146.02 317.16 L146.22 318.4 L146.43 317.88 L146.64 315.5 L146.85 316.09 L147.06 317.33 L147.26 317.82 L147.47 318.86 L147.68 317.36 L147.89 317 L148.09 317.07 L148.3 317.09 L148.51 318.13 L148.72 317.08 L148.92 317.07 L149.13 315.74 L149.34 315.18 L149.55 317.2 L149.75 317.84 L149.96 317.15 L150.17 317.7 L150.38 317.85 L150.59 317.17 L150.79 318.17 L151 316.53 L151.21 317.25 L151.42 316.9 L151.62 317.35 L151.83 317.9 L152.04 318.13 L152.25 317.43 L152.45 317.75 L152.66 316.98 L152.87 317.23 L153.08 318.59 L153.28 317.18 L153.49 318.59 L153.7 317.87 L153.91 317.56 L154.12 319.34 L154.32 317.2 L154.53 317.15 L154.74 317.46 L154.95 317.74 L155.15 317.69 L155.36 318.3 L155.57 317.61 L155.78 317.9 L155.98 317.27 L156.19 318.56 L156.4 317.14 L156.61 317.24 L156.81 317.53 L157.02 317.84 L157.23 316.87 L157.44 319.06 L157.64 316.97 L157.85 317.2 L158.06 317.16 L158.27 317.07 L158.48 318.1 L158.68 317.72 L158.89 316.85 L159.1 317.06 L159.31 317.29 L159.51 318.99 L159.72 316.98 L159.93 316.36 L160.14 316.53 L160.34 317.3 L160.55 319.06 L160.76 316.62 L160.97 317.69 L161.17 320.04 L161.38 317.2 L161.59 319.03 L161.8 318.85 L162.01 318.21 L162.21 316.35 L162.42 317.96 L162.63 317.34 L162.84 315.91 L163.04 316.06 L163.25 317.73 L163.46 317.87 L163.67 318.87 L163.87 318.33 L164.08 317.24 L164.29 317.27 L164.5 317.56 L164.7 316.7 L164.91 318.43 L165.12 317.74 L165.33 316.98 L165.53 317.13 L165.74 316.66 L165.95 317.33 L166.16 318.02 L166.37 317.37 L166.57 318.7 L166.78 319.33 L166.99 317.18 L167.2 317.8 L167.4 317.45 L167.61 319.41 L167.82 318.12 L168.03 318.35 L168.23 318.62 L168.44 319.97 L168.65 318.11 L168.86 316.92 L169.06 317.43 L169.27 318.39 L169.48 317.82 L169.69 317.08 L169.9 320.49 L170.1 317.95 L170.31 317.31 L170.52 317.18 L170.73 316.2 L170.93 316.75 L171.14 317.55 L171.35 317.57 L171.56 317.1 L171.76 318.39 L171.97 317.91 L172.18 317 L172.39 315.99 L172.59 318.04 L172.8 317.94 L173.01 317.71 L173.22 316.61 L173.43 317.94 L173.63 316.5 L173.84 318.85 L174.05 318.1 L174.26 318.12 L174.46 317.17 L174.67 316.93 L174.88 319.39 L175.09 318.83 L175.29 317.63 L175.5 318.59 L175.71 319.42 L175.92 316.96 L176.12 317.49 L176.33 317.5 L176.54 318.43 L176.75 316.99 L176.95 318.22 L177.16 316.94 L177.37 318.87 L177.58 318.82 L177.79 317.81 L177.99 318.68 L178.2 317.36 L178.41 317.77 L178.62 318.9 L178.82 317.95 L179.03 318.36 L179.24 317.15 L179.45 318.64 L179.65 318.46 L179.86 316.88 L180.07 315.9 L180.28 316.14 L180.48 317.99 L180.69 317.85 L180.9 316.59 L181.11 318.18 L181.32 319 L181.52 317.96 L181.73 317.64 L181.94 318.87 L182.15 319.66 L182.35 319.46 L182.56 317.45 L182.77 318.82 L182.98 318.23 L183.18 317.9 L183.39 317.51 L183.6 318.43 L183.81 317.64 L184.01 318.96 L184.22 318.46 L184.43 319.1 L184.64 317.04 L184.84 318.15 L185.05 318.84 L185.26 318.47 L185.47 318.35 L185.68 317.47 L185.88 319.67 L186.09 319.14 L186.3 318.51 L186.51 315.74 L186.71 317.25 L186.92 318.27 L187.13 317.48 L187.34 316.21 L187.54 318.39 L187.75 318.52 L187.96 317.02 L188.17 317.71 L188.37 317.54 L188.58 318.67 L188.79 316.36 L189 316.56 L189.21 317.65 L189.41 317.54 L189.62 320.13 L189.83 317.59 L190.04 318.39 L190.24 317.79 L190.45 317.56 L190.66 318.54 L190.87 319.82 L191.07 317.87 L191.28 318.92 L191.49 318.54 L191.7 318.8 L191.9 318.55 L192.11 320.42 L192.32 317.08 L192.53 317.99 L192.74 317.18 L192.94 316.36 L193.15 318.22 L193.36 319.96 L193.57 319.1 L193.77 319.4 L193.98 318.73 L194.19 318.18 L194.4 320.16 L194.6 317.93 L194.81 319.69 L195.02 317.98 L195.23 318.37 L195.43 318.57 L195.64 318.34 L195.85 318.79 L196.06 318.86 L196.26 319.87 L196.47 318.31 L196.68 316.53 L196.89 316.41 L197.1 317.04 L197.3 317.62 L197.51 318.93 L197.72 316.93 L197.93 318.35 L198.13 318.36 L198.34 318.58 L198.55 318.21 L198.76 318.72 L198.96 318.39 L199.17 319.33 L199.38 318.66 L199.59 316.15 L199.79 318.38 L200 318.54 L200.21 317.81 L200.42 317.65 L200.63 319.37 L200.83 318.52 L201.04 317.46 L201.25 318.07 L201.46 318.21 L201.66 316.86 L201.87 318.97 L202.08 318.26 L202.29 318.83 L202.49 316.93 L202.7 320.18 L202.91 318.98 L203.12 318.84 L203.32 317.72 L203.53 317.78 L203.74 317.03 L203.95 319.84 L204.15 317.64 L204.36 318.63 L204.57 318.98 L204.78 317.85 L204.99 319.23 L205.19 320.32 L205.4 318.71 L205.61 319.78 L205.82 318.98 L206.02 318.02 L206.23 318.08 L206.44 316.87 L206.65 318.56 L206.85 319.82 L207.06 319.09 L207.27 319.24 L207.48 319.53 L207.68 317.97 L207.89 318.99 L208.1 320.25" fill="none" stroke="#38447a" stroke-width="1.1" stroke-linejoin="round" stroke-linecap="round" />
<path d="M48.17 191.87 L48.57 198.03 L48.97 203.8 L49.37 209.2 L49.78 214.27 L50.18 219.03 L50.58 223.49 L50.98 227.67 L51.38 231.6 L51.78 235.29 L52.18 238.76 L52.58 242.02 L52.98 245.08 L53.38 247.97 L53.78 250.69 L54.18 253.24 L54.59 255.65 L54.99 257.93 L55.39 260.07 L55.79 262.09 L56.19 264.01 L56.59 265.81 L56.99 267.52 L57.39 269.14 L57.79 270.67 L58.19 272.12 L58.59 273.5 L58.99 274.8 L59.4 276.04 L59.8 277.22 L60.2 278.34 L60.6 279.41 L61 280.42 L61.4 281.39 L61.8 282.32 L62.2 283.2 L62.6 284.04 L63 284.85 L63.4 285.62 L63.8 286.36 L64.21 287.07 L64.61 287.75 L65.01 288.41 L65.41 289.04 L65.81 289.64 L66.21 290.22 L66.61 290.78 L67.01 291.32 L67.41 291.85 L67.81 292.35 L68.21 292.84 L68.61 293.31 L69.02 293.77 L69.42 294.21 L69.82 294.64 L70.22 295.05 L70.62 295.46 L71.02 295.85 L71.42 296.23 L71.82 296.6 L72.22 296.96 L72.62 297.31 L73.02 297.65 L73.42 297.99 L73.82 298.31 L74.23 298.63 L74.63 298.94 L75.03 299.24 L75.43 299.54 L75.83 299.83 L76.23 300.11 L76.63 300.39 L77.03 300.66 L77.43 300.93 L77.83 301.19 L78.23 301.44 L78.63 301.7 L79.04 301.94 L79.44 302.18 L79.84 302.42 L80.24 302.65 L80.64 302.88 L81.04 303.1 L81.44 303.32 L81.84 303.54 L82.24 303.75 L82.64 303.96 L83.04 304.16 L83.44 304.37 L83.85 304.56 L84.25 304.76 L84.65 304.95 L85.05 305.14 L85.45 305.33 L85.85 305.51 L86.25 305.69 L86.65 305.87 L87.05 306.04 L87.45 306.21 L87.85 306.38 L88.25 306.55 L88.66 306.71 L89.06 306.88 L89.46 307.03 L89.86 307.19 L90.26 307.35 L90.66 307.5 L91.06 307.65 L91.46 307.8 L91.86 307.94 L92.26 308.09 L92.66 308.23 L93.06 308.37 L93.47 308.51 L93.87 308.64 L94.27 308.78 L94.67 308.91 L95.07 309.04 L95.47 309.17 L95.87 309.3 L96.27 309.42 L96.67 309.54 L97.07 309.67 L97.47 309.79 L97.87 309.9 L98.28 310.02 L98.68 310.14 L99.08 310.25 L99.48 310.36 L99.88 310.47 L100.28 310.58 L100.68 310.69 L101.08 310.79 L101.48 310.9 L101.88 311 L102.28 311.1 L102.68 311.2 L103.08 311.3 L103.49 311.4 L103.89 311.5 L104.29 311.59 L104.69 311.68 L105.09 311.78 L105.49 311.87 L105.89 311.96 L106.29 312.05 L106.69 312.13 L107.09 312.22 L107.49 312.31 L107.89 312.39 L108.3 312.47 L108.7 312.55 L109.1 312.63 L109.5 312.71 L109.9 312.79 L110.3 312.87 L110.7 312.95 L111.1 313.02 L111.5 313.1 L111.9 313.17 L112.3 313.24 L112.7 313.31 L113.11 313.38 L113.51 313.45 L113.91 313.52 L114.31 313.59 L114.71 313.66 L115.11 313.72 L115.51 313.79 L115.91 313.85 L116.31 313.92 L116.71 313.98 L117.11 314.04 L117.51 314.1 L117.92 314.16 L118.32 314.22 L118.72 314.28 L119.12 314.34 L119.52 314.39 L119.92 314.45 L120.32 314.5 L120.72 314.56 L121.12 314.61 L121.52 314.67 L121.92 314.72 L122.32 314.77 L122.73 314.82 L123.13 314.87 L123.53 314.92 L123.93 314.97 L124.33 315.02 L124.73 315.07 L125.13 315.11 L125.53 315.16 L125.93 315.21 L126.33 315.25 L126.73 315.3 L127.13 315.34 L127.53 315.38 L127.94 315.43 L128.34 315.47 L128.74 315.51 L129.14 315.55 L129.54 315.59 L129.94 315.63 L130.34 315.67 L130.74 315.71 L131.14 315.75 L131.54 315.79 L131.94 315.83 L132.34 315.86 L132.75 315.9 L133.15 315.93 L133.55 315.97 L133.95 316.01 L134.35 316.04 L134.75 316.07 L135.15 316.11 L135.55 316.14 L135.95 316.17 L136.35 316.21 L136.75 316.24 L137.15 316.27 L137.56 316.3 L137.96 316.33 L138.36 316.36 L138.76 316.39 L139.16 316.42 L139.56 316.45 L139.96 316.48 L140.36 316.51 L140.76 316.53 L141.16 316.56 L141.56 316.59 L141.96 316.62 L142.37 316.64 L142.77 316.67 L143.17 316.69 L143.57 316.72 L143.97 316.74 L144.37 316.77 L144.77 316.79 L145.17 316.82 L145.57 316.84 L145.97 316.87 L146.37 316.89 L146.77 316.91 L147.18 316.93 L147.58 316.96 L147.98 316.98 L148.38 317 L148.78 317.02 L149.18 317.04 L149.58 317.06 L149.98 317.08 L150.38 317.1 L150.78 317.12 L151.18 317.14 L151.58 317.16 L151.99 317.18 L152.39 317.2 L152.79 317.22 L153.19 317.24 L153.59 317.26 L153.99 317.27 L154.39 317.29 L154.79 317.31 L155.19 317.33 L155.59 317.34 L155.99 317.36 L156.39 317.38 L156.79 317.39 L157.2 317.41 L157.6 317.42 L158 317.44 L158.4 317.46 L158.8 317.47 L159.2 317.49 L159.6 317.5 L160 317.52 L160.4 317.53 L160.8 317.54 L161.2 317.56 L161.6 317.57 L162.01 317.59 L162.41 317.6 L162.81 317.61 L163.21 317.63 L163.61 317.64 L164.01 317.65 L164.41 317.66 L164.81 317.68 L165.21 317.69 L165.61 317.7 L166.01 317.71 L166.41 317.73 L166.82 317.74 L167.22 317.75 L167.62 317.76 L168.02 317.77 L168.42 317.78 L168.82 317.79 L169.22 317.8 L169.62 317.81 L170.02 317.82 L170.42 317.84 L170.82 317.85 L171.22 317.86 L171.63 317.87 L172.03 317.88 L172.43 317.88 L172.83 317.89 L173.23 317.9 L173.63 317.91 L174.03 317.92 L174.43 317.93 L174.83 317.94 L175.23 317.95 L175.63 317.96 L176.03 317.97 L176.44 317.97 L176.84 317.98 L177.24 317.99 L177.64 318 L178.04 318.01 L178.44 318.02 L178.84 318.02 L179.24 318.03 L179.64 318.04 L180.04 318.05 L180.44 318.05 L180.84 318.06 L181.24 318.07 L181.65 318.07 L182.05 318.08 L182.45 318.09 L182.85 318.1 L183.25 318.1 L183.65 318.11 L184.05 318.12 L184.45 318.12 L184.85 318.13 L185.25 318.13 L185.65 318.14 L186.05 318.15 L186.46 318.15 L186.86 318.16 L187.26 318.16 L187.66 318.17 L188.06 318.18 L188.46 318.18 L188.86 318.19 L189.26 318.19 L189.66 318.2 L190.06 318.2 L190.46 318.21 L190.86 318.21 L191.27 318.22 L191.67 318.22 L192.07 318.23 L192.47 318.23 L192.87 318.24 L193.27 318.24 L193.67 318.25 L194.07 318.25 L194.47 318.26 L194.87 318.26 L195.27 318.27 L195.67 318.27 L196.08 318.28 L196.48 318.28 L196.88 318.28 L197.28 318.29 L197.68 318.29 L198.08 318.3 L198.48 318.3 L198.88 318.31 L199.28 318.31 L199.68 318.31 L200.08 318.32 L200.48 318.32 L200.89 318.32 L201.29 318.33 L201.69 318.33 L202.09 318.34 L202.49 318.34 L202.89 318.34 L203.29 318.35 L203.69 318.35 L204.09 318.35 L204.49 318.36 L204.89 318.36 L205.29 318.36 L205.7 318.37 L206.1 318.37 L206.5 318.37 L206.9 318.37 L207.3 318.38 L207.7 318.38 L208.1 318.38" fill="none" stroke="#9e1f2b" stroke-width="1.15" stroke-linejoin="round" stroke-linecap="round" />
<rect x="42.2" y="186.4" width="165.9" height="132.2" fill="none" stroke="#262626" stroke-width="1.25"/>
<line x1="42.2" y1="318.6" x2="42.2" y2="321.1" stroke="#262626" stroke-width="0.9"/>
<line x1="83.67" y1="318.6" x2="83.67" y2="321.1" stroke="#262626" stroke-width="0.9"/>
<line x1="125.15" y1="318.6" x2="125.15" y2="321.1" stroke="#262626" stroke-width="0.9"/>
<line x1="166.62" y1="318.6" x2="166.62" y2="321.1" stroke="#262626" stroke-width="0.9"/>
<line x1="208.1" y1="318.6" x2="208.1" y2="321.1" stroke="#262626" stroke-width="0.9"/>
<line x1="62.94" y1="318.6" x2="62.94" y2="320.1" stroke="#262626" stroke-width="0.9"/>
<line x1="104.41" y1="318.6" x2="104.41" y2="320.1" stroke="#262626" stroke-width="0.9"/>
<line x1="145.89" y1="318.6" x2="145.89" y2="320.1" stroke="#262626" stroke-width="0.9"/>
<line x1="187.36" y1="318.6" x2="187.36" y2="320.1" stroke="#262626" stroke-width="0.9"/>
<text transform="translate(42.2 331.2) scale(0.9 1)" font-size="10.0" text-anchor="middle" font-weight="normal" fill="#1a1a1a" >0.0</text>
<text transform="translate(83.67 331.2) scale(0.9 1)" font-size="10.0" text-anchor="middle" font-weight="normal" fill="#1a1a1a" >0.5</text>
<text transform="translate(125.15 331.2) scale(0.9 1)" font-size="10.0" text-anchor="middle" font-weight="normal" fill="#1a1a1a" >1.0</text>
<text transform="translate(166.62 331.2) scale(0.9 1)" font-size="10.0" text-anchor="middle" font-weight="normal" fill="#1a1a1a" >1.5</text>
<text transform="translate(208.1 331.2) scale(0.9 1)" font-size="10.0" text-anchor="middle" font-weight="normal" fill="#1a1a1a" >2.0</text>
<line x1="42.2" y1="318.6" x2="39.7" y2="318.6" stroke="#262626" stroke-width="0.9"/>
<line x1="42.2" y1="287.5" x2="39.7" y2="287.5" stroke="#262626" stroke-width="0.9"/>
<line x1="42.2" y1="256.4" x2="39.7" y2="256.4" stroke="#262626" stroke-width="0.9"/>
<line x1="42.2" y1="225.3" x2="39.7" y2="225.3" stroke="#262626" stroke-width="0.9"/>
<line x1="42.2" y1="194.2" x2="39.7" y2="194.2" stroke="#262626" stroke-width="0.9"/>
<line x1="42.2" y1="303.05" x2="40.7" y2="303.05" stroke="#262626" stroke-width="0.9"/>
<line x1="42.2" y1="271.95" x2="40.7" y2="271.95" stroke="#262626" stroke-width="0.9"/>
<line x1="42.2" y1="240.85" x2="40.7" y2="240.85" stroke="#262626" stroke-width="0.9"/>
<line x1="42.2" y1="209.75" x2="40.7" y2="209.75" stroke="#262626" stroke-width="0.9"/>
<text transform="translate(39.3 321.9) scale(0.9 1)" font-size="10.0" text-anchor="end" font-weight="normal" fill="#1a1a1a" >0</text>
<text transform="translate(39.3 290.8) scale(0.9 1)" font-size="10.0" text-anchor="end" font-weight="normal" fill="#1a1a1a" >200</text>
<text transform="translate(39.3 259.7) scale(0.9 1)" font-size="10.0" text-anchor="end" font-weight="normal" fill="#1a1a1a" >400</text>
<text transform="translate(39.3 228.6) scale(0.9 1)" font-size="10.0" text-anchor="end" font-weight="normal" fill="#1a1a1a" >600</text>
<text transform="translate(39.3 197.5) scale(0.9 1)" font-size="10.0" text-anchor="end" font-weight="normal" fill="#1a1a1a" >800</text>
<text transform="translate(125.1 345.7) scale(0.935 1)" font-size="9.9" text-anchor="middle" font-weight="normal" fill="#1a1a1a" >Time (ns)</text>
<text transform="translate(18.2 245.9) rotate(-90) scale(0.935 1)" font-size="9.9" text-anchor="middle" font-weight="normal" fill="#1a1a1a" >PL intensity (a.u.)</text>
<text transform="translate(119.6 200) scale(0.935 1)" font-size="9.9" text-anchor="start" font-weight="normal" fill="#1a1a1a" >Excitation:1200 nm</text>
<line x1="107.4" y1="210" x2="128.4" y2="210" stroke="#a2a8c6" stroke-width="1.6"/>
<text transform="translate(131.9 213.2) scale(0.935 1)" font-size="9.9" text-anchor="start" font-weight="normal" fill="#1a1a1a" >TpDPP-Py COFs</text>
<line x1="107.4" y1="221.5" x2="128.4" y2="221.5" stroke="#9e1f2b" stroke-width="1.3"/>
<text transform="translate(131.9 224.7) scale(0.935 1)" font-size="9.9" text-anchor="start" font-weight="normal" fill="#1a1a1a" >Fitting</text>
<text transform="translate(0.3 201.2) scale(0.9 1)" font-size="18.7" text-anchor="start" font-weight="bold" fill="#000" >d</text>
<defs>
<radialGradient id="gr" cx="0.4" cy="0.35" r="0.7"><stop offset="0" stop-color="#f0505a"/><stop offset="0.55" stop-color="#d0202c"/><stop offset="1" stop-color="#9a0f1a"/></radialGradient>
<radialGradient id="gb" cx="0.4" cy="0.35" r="0.7"><stop offset="0" stop-color="#5577d8"/><stop offset="0.55" stop-color="#2d4db4"/><stop offset="1" stop-color="#1a2f80"/></radialGradient>
<radialGradient id="gt" cx="0.35" cy="0.35" r="0.7"><stop offset="0" stop-color="#6ccaca"/><stop offset="0.6" stop-color="#249799"/><stop offset="1" stop-color="#166a6c"/></radialGradient>
</defs>
<rect x="263.5" y="183.3" width="412.3" height="152" fill="none" stroke="#1a1a1a" stroke-width="1.1"/>
<line x1="318.6" y1="207.8" x2="313" y2="206" stroke="#a9cfcf" stroke-width="0.9"/>
<line x1="318.6" y1="218.3" x2="314" y2="221" stroke="#a9cfcf" stroke-width="0.9"/>
<line x1="332.2" y1="220.3" x2="336" y2="225" stroke="#a9cfcf" stroke-width="0.9"/>
<line x1="336.7" y1="235.7" x2="341" y2="233" stroke="#a9cfcf" stroke-width="0.9"/>
<line x1="361" y1="242.9" x2="358" y2="237" stroke="#a9cfcf" stroke-width="0.9"/>
<line x1="365.6" y1="249.6" x2="369" y2="245" stroke="#a9cfcf" stroke-width="0.9"/>
<line x1="361.8" y1="255.6" x2="366" y2="260" stroke="#a9cfcf" stroke-width="0.9"/>
<line x1="353.5" y1="254.1" x2="349" y2="259" stroke="#a9cfcf" stroke-width="0.9"/>
<line x1="381.4" y1="223.3" x2="376" y2="219" stroke="#a9cfcf" stroke-width="0.9"/>
<line x1="381.4" y1="223.3" x2="384" y2="218" stroke="#a9cfcf" stroke-width="0.9"/>
<line x1="389.6" y1="223.3" x2="392" y2="218" stroke="#a9cfcf" stroke-width="0.9"/>
<line x1="398.6" y1="223.3" x2="400" y2="218" stroke="#a9cfcf" stroke-width="0.9"/>
<line x1="381.4" y1="223.3" x2="384" y2="228" stroke="#a9cfcf" stroke-width="0.9"/>
<line x1="389.6" y1="223.3" x2="392" y2="228" stroke="#a9cfcf" stroke-width="0.9"/>
<line x1="398.6" y1="223.3" x2="400" y2="228" stroke="#a9cfcf" stroke-width="0.9"/>
<line x1="406.2" y1="223.3" x2="410" y2="228" stroke="#a9cfcf" stroke-width="0.9"/>
<line x1="419" y1="212.8" x2="414" y2="209" stroke="#a9cfcf" stroke-width="0.9"/>
<line x1="430.2" y1="209.8" x2="427" y2="204" stroke="#a9cfcf" stroke-width="0.9"/>
<line x1="430.2" y1="209.8" x2="434" y2="214" stroke="#a9cfcf" stroke-width="0.9"/>
<line x1="426.8" y1="244.5" x2="428" y2="240" stroke="#a9cfcf" stroke-width="0.9"/>
<line x1="440" y1="251" x2="438" y2="247" stroke="#a9cfcf" stroke-width="0.9"/>
<line x1="449.2" y1="257.6" x2="452" y2="253" stroke="#a9cfcf" stroke-width="0.9"/>
<line x1="449.2" y1="257.6" x2="451" y2="262" stroke="#a9cfcf" stroke-width="0.9"/>
<line x1="420.9" y1="273.4" x2="414.5" y2="276" stroke="#a9cfcf" stroke-width="0.9"/>
<line x1="416.3" y1="289.2" x2="411.5" y2="286" stroke="#a9cfcf" stroke-width="0.9"/>
<line x1="432" y1="284" x2="432.2" y2="278.2" stroke="#a9cfcf" stroke-width="0.9"/>
<line x1="432" y1="284" x2="434.3" y2="285.4" stroke="#a9cfcf" stroke-width="0.9"/>
<line x1="427.5" y1="287.9" x2="431.4" y2="290.5" stroke="#a9cfcf" stroke-width="0.9"/>
<line x1="416.3" y1="289.2" x2="420.4" y2="293" stroke="#a9cfcf" stroke-width="0.9"/>
<line x1="407.1" y1="294.5" x2="404.3" y2="297" stroke="#a9cfcf" stroke-width="0.9"/>
<line x1="287.6" y1="265.6" x2="283" y2="270" stroke="#a9cfcf" stroke-width="0.9"/>
<circle cx="317" cy="194" r="1.3" fill="#ffffff" stroke="#8c8c8c" stroke-width="0.45"/>
<circle cx="313" cy="206" r="1.3" fill="#ffffff" stroke="#8c8c8c" stroke-width="0.45"/>
<circle cx="314" cy="221" r="1.3" fill="#ffffff" stroke="#8c8c8c" stroke-width="0.45"/>
<circle cx="337" cy="206" r="1.3" fill="#ffffff" stroke="#8c8c8c" stroke-width="0.45"/>
<circle cx="336" cy="225" r="1.3" fill="#ffffff" stroke="#8c8c8c" stroke-width="0.45"/>
<circle cx="341" cy="233" r="1.3" fill="#ffffff" stroke="#8c8c8c" stroke-width="0.45"/>
<circle cx="358" cy="237" r="1.3" fill="#ffffff" stroke="#8c8c8c" stroke-width="0.45"/>
<circle cx="369" cy="245" r="1.3" fill="#ffffff" stroke="#8c8c8c" stroke-width="0.45"/>
<circle cx="366" cy="260" r="1.3" fill="#ffffff" stroke="#8c8c8c" stroke-width="0.45"/>
<circle cx="349" cy="259" r="1.3" fill="#ffffff" stroke="#8c8c8c" stroke-width="0.45"/>
<circle cx="376" cy="219" r="1.3" fill="#ffffff" stroke="#8c8c8c" stroke-width="0.45"/>
<circle cx="384" cy="218" r="1.3" fill="#ffffff" stroke="#8c8c8c" stroke-width="0.45"/>
<circle cx="392" cy="218" r="1.3" fill="#ffffff" stroke="#8c8c8c" stroke-width="0.45"/>
<circle cx="400" cy="218" r="1.3" fill="#ffffff" stroke="#8c8c8c" stroke-width="0.45"/>
<circle cx="384" cy="228" r="1.3" fill="#ffffff" stroke="#8c8c8c" stroke-width="0.45"/>
<circle cx="392" cy="228" r="1.3" fill="#ffffff" stroke="#8c8c8c" stroke-width="0.45"/>
<circle cx="400" cy="228" r="1.3" fill="#ffffff" stroke="#8c8c8c" stroke-width="0.45"/>
<circle cx="410" cy="228" r="1.3" fill="#ffffff" stroke="#8c8c8c" stroke-width="0.45"/>
<circle cx="414" cy="209" r="1.3" fill="#ffffff" stroke="#8c8c8c" stroke-width="0.45"/>
<circle cx="427" cy="204" r="1.3" fill="#ffffff" stroke="#8c8c8c" stroke-width="0.45"/>
<circle cx="434" cy="214" r="1.3" fill="#ffffff" stroke="#8c8c8c" stroke-width="0.45"/>
<circle cx="428" cy="240" r="1.3" fill="#ffffff" stroke="#8c8c8c" stroke-width="0.45"/>
<circle cx="438" cy="247" r="1.3" fill="#ffffff" stroke="#8c8c8c" stroke-width="0.45"/>
<circle cx="452" cy="253" r="1.3" fill="#ffffff" stroke="#8c8c8c" stroke-width="0.45"/>
<circle cx="451" cy="262" r="1.3" fill="#ffffff" stroke="#8c8c8c" stroke-width="0.45"/>
<circle cx="414.5" cy="276" r="1.3" fill="#ffffff" stroke="#8c8c8c" stroke-width="0.45"/>
<circle cx="414" cy="281" r="1.3" fill="#ffffff" stroke="#8c8c8c" stroke-width="0.45"/>
<circle cx="411.5" cy="286" r="1.3" fill="#ffffff" stroke="#8c8c8c" stroke-width="0.45"/>
<circle cx="432.2" cy="278.2" r="1.3" fill="#ffffff" stroke="#8c8c8c" stroke-width="0.45"/>
<circle cx="434.3" cy="285.4" r="1.3" fill="#ffffff" stroke="#8c8c8c" stroke-width="0.45"/>
<circle cx="431.4" cy="290.5" r="1.3" fill="#ffffff" stroke="#8c8c8c" stroke-width="0.45"/>
<circle cx="420.4" cy="293" r="1.3" fill="#ffffff" stroke="#8c8c8c" stroke-width="0.45"/>
<circle cx="417.8" cy="297.2" r="1.3" fill="#ffffff" stroke="#8c8c8c" stroke-width="0.45"/>
<circle cx="429.7" cy="296.4" r="1.3" fill="#ffffff" stroke="#8c8c8c" stroke-width="0.45"/>
<circle cx="400" cy="291.3" r="1.3" fill="#ffffff" stroke="#8c8c8c" stroke-width="0.45"/>
<circle cx="404.3" cy="297" r="1.3" fill="#ffffff" stroke="#8c8c8c" stroke-width="0.45"/>
<circle cx="266" cy="266" r="1.3" fill="#ffffff" stroke="#8c8c8c" stroke-width="0.45"/>
<circle cx="272" cy="267" r="1.3" fill="#ffffff" stroke="#8c8c8c" stroke-width="0.45"/>
<circle cx="283" cy="270" r="1.3" fill="#ffffff" stroke="#8c8c8c" stroke-width="0.45"/>
<circle cx="300" cy="282" r="1.3" fill="#ffffff" stroke="#8c8c8c" stroke-width="0.45"/>
<circle cx="310" cy="328" r="1.3" fill="#ffffff" stroke="#8c8c8c" stroke-width="0.45"/>
<circle cx="320" cy="326" r="1.3" fill="#ffffff" stroke="#8c8c8c" stroke-width="0.45"/>
<circle cx="340" cy="274" r="1.3" fill="#ffffff" stroke="#8c8c8c" stroke-width="0.45"/>
<circle cx="300" cy="236" r="1.3" fill="#ffffff" stroke="#8c8c8c" stroke-width="0.45"/>
<path d="M322 198 L324.5 204.5 L330.7 209.3 L332.2 220.3 L326 225 L318.6 218.3 L318.6 207.8 L324.5 204.5" fill="none" stroke="#23888a" stroke-width="2.0" stroke-linejoin="round"/>
<path d="M326 225 L326.6 231 L325.3 251.6" fill="none" stroke="#23888a" stroke-width="2.0" stroke-linejoin="round"/>
<path d="M311.7 256.4 L318.1 258 L325.3 251.6 L336.7 235.7" fill="none" stroke="#23888a" stroke-width="2.0" stroke-linejoin="round"/>
<path d="M318.1 258 L322.9 269.3 L304.5 274.1" fill="none" stroke="#23888a" stroke-width="2.0" stroke-linejoin="round"/>
<path d="M322.9 269.3 L331 267.2 L338.4 250.4 L348 247" fill="none" stroke="#23888a" stroke-width="2.0" stroke-linejoin="round"/>
<path d="M311.7 256.4 L300 262" fill="none" stroke="#23888a" stroke-width="2.0" stroke-linejoin="round"/>
<path d="M314.1 272.5 L314 282" fill="none" stroke="#23888a" stroke-width="2.0" stroke-linejoin="round"/>
<path d="M300 262 L295.1 264 L288.3 258 L280 264 L275 261 L268 262" fill="none" stroke="#23888a" stroke-width="2.0" stroke-linejoin="round"/>
<path d="M295.1 264 L287.6 265.6 L280 264" fill="none" stroke="#23888a" stroke-width="2.0" stroke-linejoin="round"/>
<path d="M314 282 L315.7 287.1 L312.6 295.7 L315.1 305.5 L315.7 316.5 L314.5 322" fill="none" stroke="#23888a" stroke-width="2.0" stroke-linejoin="round"/>
<path d="M315.7 287.1 L317.5 300 L315.1 305.5" fill="none" stroke="#23888a" stroke-width="2.0" stroke-linejoin="round"/>
<path d="M348 247 L349 245.1 L352 240.6 L361 242.9 L365.6 249.6 L361.8 255.6 L353.5 254.1 L349 245.1" fill="none" stroke="#23888a" stroke-width="2.0" stroke-linejoin="round"/>
<path d="M365.6 249.6 L373.8 250.8 L378.3 250 L388.1 252.5 L393.4 253 L394.9 250.4 L403.2 251.5 L409.2 251.9 L413 250.4" fill="none" stroke="#23888a" stroke-width="2.0" stroke-linejoin="round"/>
<path d="M413 250.4 L419.6 243.2 L426.8 244.5 L423.6 252.4 L415 256.3 L413 250.4" fill="none" stroke="#23888a" stroke-width="2.0" stroke-linejoin="round"/>
<path d="M426.8 244.5 L433.4 239.2" fill="none" stroke="#23888a" stroke-width="2.0" stroke-linejoin="round"/>
<path d="M423.6 252.4 L425.5 258.3 L420.3 264.9 L413 264.2 L415 256.3" fill="none" stroke="#23888a" stroke-width="2.0" stroke-linejoin="round"/>
<path d="M413 264.2 L406.4 269.2" fill="none" stroke="#23888a" stroke-width="2.0" stroke-linejoin="round"/>
<path d="M425.5 258.3 L433.4 257 L440 251 L446.6 251 L449.2 257.6 L443.9 257 L434.7 262.2 L433.4 257" fill="none" stroke="#23888a" stroke-width="2.0" stroke-linejoin="round"/>
<path d="M443.9 257 L445.9 262.2" fill="none" stroke="#23888a" stroke-width="2.0" stroke-linejoin="round"/>
<path d="M419.6 243.2 L419.7 233.1 L416.7 223.3 L406.2 223.3 L398.6 223.3 L389.6 223.3 L381.4 223.3" fill="none" stroke="#23888a" stroke-width="2.0" stroke-linejoin="round"/>
<path d="M416.7 223.3 L419 212.8 L430.2 209.8" fill="none" stroke="#23888a" stroke-width="2.0" stroke-linejoin="round"/>
<path d="M420.3 264.9 L420.9 273.4 L426.8 281.3 L427.5 287.9 L432 284" fill="none" stroke="#23888a" stroke-width="2.0" stroke-linejoin="round"/>
<path d="M426.8 281.3 L416.3 289.2 L407.1 294.5" fill="none" stroke="#23888a" stroke-width="2.0" stroke-linejoin="round"/>
<circle cx="324.5" cy="204.5" r="2.5" fill="url(#gt)"/>
<circle cx="330.7" cy="209.3" r="2.5" fill="url(#gt)"/>
<circle cx="332.2" cy="220.3" r="2.5" fill="url(#gt)"/>
<circle cx="326" cy="225" r="2.5" fill="url(#gt)"/>
<circle cx="318.6" cy="218.3" r="2.5" fill="url(#gt)"/>
<circle cx="318.6" cy="207.8" r="2.5" fill="url(#gt)"/>
<circle cx="325.3" cy="251.6" r="2.5" fill="url(#gt)"/>
<circle cx="318.1" cy="258" r="2.5" fill="url(#gt)"/>
<circle cx="336.7" cy="235.7" r="2.5" fill="url(#gt)"/>
<circle cx="304.5" cy="274.1" r="2.5" fill="url(#gt)"/>
<circle cx="311.7" cy="256.4" r="2.5" fill="url(#gt)"/>
<circle cx="322.9" cy="269.3" r="2.5" fill="url(#gt)"/>
<circle cx="300" cy="262" r="2.5" fill="url(#gt)"/>
<circle cx="295.1" cy="264" r="2.5" fill="url(#gt)"/>
<circle cx="288.3" cy="258" r="2.5" fill="url(#gt)"/>
<circle cx="280" cy="264" r="2.5" fill="url(#gt)"/>
<circle cx="287.6" cy="265.6" r="2.5" fill="url(#gt)"/>
<circle cx="315.7" cy="287.1" r="2.5" fill="url(#gt)"/>
<circle cx="312.6" cy="295.7" r="2.5" fill="url(#gt)"/>
<circle cx="317.5" cy="300" r="2.5" fill="url(#gt)"/>
<circle cx="315.1" cy="305.5" r="2.5" fill="url(#gt)"/>
<circle cx="352" cy="240.6" r="2.5" fill="url(#gt)"/>
<circle cx="361" cy="242.9" r="2.5" fill="url(#gt)"/>
<circle cx="365.6" cy="249.6" r="2.5" fill="url(#gt)"/>
<circle cx="361.8" cy="255.6" r="2.5" fill="url(#gt)"/>
<circle cx="353.5" cy="254.1" r="2.5" fill="url(#gt)"/>
<circle cx="378.3" cy="250" r="2.5" fill="url(#gt)"/>
<circle cx="388.1" cy="252.5" r="2.5" fill="url(#gt)"/>
<circle cx="393.4" cy="253" r="2.5" fill="url(#gt)"/>
<circle cx="403.2" cy="251.5" r="2.5" fill="url(#gt)"/>
<circle cx="409.2" cy="251.9" r="2.5" fill="url(#gt)"/>
<circle cx="413" cy="250.4" r="2.5" fill="url(#gt)"/>
<circle cx="426.8" cy="244.5" r="2.5" fill="url(#gt)"/>
<circle cx="423.6" cy="252.4" r="2.5" fill="url(#gt)"/>
<circle cx="415" cy="256.3" r="2.5" fill="url(#gt)"/>
<circle cx="425.5" cy="258.3" r="2.5" fill="url(#gt)"/>
<circle cx="413" cy="264.2" r="2.5" fill="url(#gt)"/>
<circle cx="433.4" cy="257" r="2.5" fill="url(#gt)"/>
<circle cx="440" cy="251" r="2.5" fill="url(#gt)"/>
<circle cx="446.6" cy="251" r="2.5" fill="url(#gt)"/>
<circle cx="443.9" cy="257" r="2.5" fill="url(#gt)"/>
<circle cx="449.2" cy="257.6" r="2.5" fill="url(#gt)"/>
<circle cx="419.7" cy="233.1" r="2.5" fill="url(#gt)"/>
<circle cx="416.7" cy="223.3" r="2.5" fill="url(#gt)"/>
<circle cx="406.2" cy="223.3" r="2.5" fill="url(#gt)"/>
<circle cx="398.6" cy="223.3" r="2.5" fill="url(#gt)"/>
<circle cx="389.6" cy="223.3" r="2.5" fill="url(#gt)"/>
<circle cx="381.4" cy="223.3" r="2.5" fill="url(#gt)"/>
<circle cx="419" cy="212.8" r="2.5" fill="url(#gt)"/>
<circle cx="430.2" cy="209.8" r="2.5" fill="url(#gt)"/>
<circle cx="420.9" cy="273.4" r="2.5" fill="url(#gt)"/>
<circle cx="426.8" cy="281.3" r="2.5" fill="url(#gt)"/>
<circle cx="427.5" cy="287.9" r="2.5" fill="url(#gt)"/>
<circle cx="416.3" cy="289.2" r="2.5" fill="url(#gt)"/>
<circle cx="407.1" cy="294.5" r="2.5" fill="url(#gt)"/>
<circle cx="432" cy="284" r="2.5" fill="url(#gt)"/>
<circle cx="349" cy="245.1" r="2.1" fill="#2a3fb8"/>
<circle cx="419.6" cy="243.2" r="2.1" fill="#2a3fb8"/>
<circle cx="420.3" cy="264.9" r="2.1" fill="#2a3fb8"/>
<circle cx="373.8" cy="250.8" r="1.5" fill="#3a4fc0"/>
<circle cx="394.9" cy="250.4" r="2.1" fill="#d6d63a"/>
<circle cx="434.7" cy="262.2" r="2.1" fill="#d6d63a"/>
<circle cx="433.4" cy="239.2" r="2.1" fill="#e02030"/>
<circle cx="406.4" cy="269.2" r="2.1" fill="#e02030"/>
<circle cx="445.9" cy="262.2" r="2.1" fill="#e02030"/>
<ellipse cx="325.4" cy="224" rx="4.0" ry="3.2" transform="rotate(20 325.4 224)" fill="url(#gb)"/>
<ellipse cx="326.4" cy="219.8" rx="6.6" ry="4.6" transform="rotate(30 326.4 219.8)" fill="url(#gr)"/>
<ellipse cx="325.5" cy="210.8" rx="6.0" ry="3.0" transform="rotate(15 325.5 210.8)" fill="url(#gr)"/>
<ellipse cx="326.2" cy="203.3" rx="3.0" ry="2.6" transform="rotate(0 326.2 203.3)" fill="url(#gb)"/>
<ellipse cx="321.7" cy="197.2" rx="2.6" ry="2.3" transform="rotate(0 321.7 197.2)" fill="url(#gb)"/>
<ellipse cx="324.9" cy="192.8" rx="3.4" ry="4.0" transform="rotate(10 324.9 192.8)" fill="url(#gr)"/>
<ellipse cx="272.5" cy="261.1" rx="2.6" ry="2.6" transform="rotate(0 272.5 261.1)" fill="url(#gb)"/>
<ellipse cx="271.4" cy="255.8" rx="3.6" ry="3.0" transform="rotate(0 271.4 255.8)" fill="url(#gr)"/>
<ellipse cx="279.7" cy="258.2" rx="2.5" ry="3.0" transform="rotate(0 279.7 258.2)" fill="url(#gb)"/>
<ellipse cx="294.3" cy="266.3" rx="2.6" ry="2.6" transform="rotate(0 294.3 266.3)" fill="url(#gb)"/>
<ellipse cx="290.9" cy="260.7" rx="5.6" ry="2.6" transform="rotate(-20 290.9 260.7)" fill="url(#gr)"/>
<ellipse cx="284" cy="267" rx="1.4" ry="1.4" transform="rotate(0 284 267)" fill="url(#gr)"/>
<ellipse cx="315.2" cy="244.7" rx="4.5" ry="7.5" transform="rotate(35 315.2 244.7)" fill="url(#gb)"/>
<ellipse cx="309.7" cy="241.8" rx="5.8" ry="9.2" transform="rotate(38 309.7 241.8)" fill="url(#gr)"/>
<ellipse cx="328.9" cy="240.9" rx="4.5" ry="5.8" transform="rotate(35 328.9 240.9)" fill="url(#gr)"/>
<ellipse cx="326.3" cy="235.4" rx="6.6" ry="8.6" transform="rotate(25 326.3 235.4)" fill="url(#gb)"/>
<ellipse cx="341.6" cy="248.6" rx="4.2" ry="7.2" transform="rotate(35 341.6 248.6)" fill="url(#gb)"/>
<ellipse cx="336.6" cy="246.9" rx="6.2" ry="9.2" transform="rotate(35 336.6 246.9)" fill="url(#gr)"/>
<ellipse cx="309.5" cy="263.9" rx="4.2" ry="7.2" transform="rotate(42 309.5 263.9)" fill="url(#gr)"/>
<ellipse cx="305.2" cy="261.1" rx="6.2" ry="9.4" transform="rotate(48 305.2 261.1)" fill="url(#gb)"/>
<ellipse cx="318.3" cy="275.1" rx="4.6" ry="7.2" transform="rotate(35 318.3 275.1)" fill="url(#gb)"/>
<ellipse cx="314" cy="272.3" rx="6.6" ry="8.8" transform="rotate(35 314 272.3)" fill="url(#gr)"/>
<ellipse cx="336.6" cy="269.4" rx="3.6" ry="6.6" transform="rotate(30 336.6 269.4)" fill="url(#gr)"/>
<ellipse cx="331" cy="267.2" rx="6.2" ry="8.8" transform="rotate(25 331 267.2)" fill="url(#gb)"/>
<ellipse cx="318.1" cy="288.9" rx="2.5" ry="3.2" transform="rotate(0 318.1 288.9)" fill="url(#gr)"/>
<ellipse cx="311.4" cy="288.9" rx="3.5" ry="4" transform="rotate(0 311.4 288.9)" fill="url(#gb)"/>
<ellipse cx="312" cy="309.1" rx="3.5" ry="3.6" transform="rotate(0 312 309.1)" fill="url(#gr)"/>
<ellipse cx="318.1" cy="308.5" rx="3.4" ry="3.5" transform="rotate(0 318.1 308.5)" fill="url(#gb)"/>
<ellipse cx="319.3" cy="320.7" rx="2" ry="2" transform="rotate(0 319.3 320.7)" fill="url(#gr)"/>
<ellipse cx="313.2" cy="322.6" rx="4.3" ry="4.5" transform="rotate(0 313.2 322.6)" fill="url(#gb)"/>
<circle cx="325.3" cy="251.6" r="1.8" fill="url(#gt)"/>
<circle cx="318.1" cy="258" r="1.8" fill="url(#gt)"/>
<circle cx="315.1" cy="305.5" r="1.8" fill="url(#gt)"/>
<circle cx="312.6" cy="295.7" r="1.8" fill="url(#gt)"/>
<line x1="536.9" y1="205.6" x2="531" y2="205" stroke="#a9cfcf" stroke-width="0.9"/>
<line x1="538.4" y1="215.3" x2="532" y2="217" stroke="#a9cfcf" stroke-width="0.9"/>
<line x1="548.2" y1="207.8" x2="554" y2="205" stroke="#a9cfcf" stroke-width="0.9"/>
<line x1="549.7" y1="216.8" x2="555" y2="221" stroke="#a9cfcf" stroke-width="0.9"/>
<line x1="531.7" y1="236.4" x2="532" y2="231" stroke="#a9cfcf" stroke-width="0.9"/>
<line x1="526.4" y1="243.9" x2="521" y2="243" stroke="#a9cfcf" stroke-width="0.9"/>
<line x1="554.2" y1="233.4" x2="559" y2="230" stroke="#a9cfcf" stroke-width="0.9"/>
<line x1="498.6" y1="261.8" x2="500" y2="267" stroke="#a9cfcf" stroke-width="0.9"/>
<line x1="507.6" y1="255" x2="507" y2="251" stroke="#a9cfcf" stroke-width="0.9"/>
<line x1="514.4" y1="258.8" x2="515" y2="253" stroke="#a9cfcf" stroke-width="0.9"/>
<line x1="577.9" y1="239.8" x2="579" y2="234" stroke="#a9cfcf" stroke-width="0.9"/>
<line x1="582.6" y1="247.4" x2="586" y2="253" stroke="#a9cfcf" stroke-width="0.9"/>
<line x1="568.5" y1="252.1" x2="568" y2="258" stroke="#a9cfcf" stroke-width="0.9"/>
<line x1="568.5" y1="238.9" x2="563" y2="238" stroke="#a9cfcf" stroke-width="0.9"/>
<line x1="597.6" y1="220.1" x2="595" y2="215" stroke="#a9cfcf" stroke-width="0.9"/>
<line x1="605.1" y1="220.1" x2="604" y2="215" stroke="#a9cfcf" stroke-width="0.9"/>
<line x1="614.5" y1="220.1" x2="613" y2="215" stroke="#a9cfcf" stroke-width="0.9"/>
<line x1="622.1" y1="221" x2="621" y2="216" stroke="#a9cfcf" stroke-width="0.9"/>
<line x1="597.6" y1="220.1" x2="595" y2="226" stroke="#a9cfcf" stroke-width="0.9"/>
<line x1="605.1" y1="220.1" x2="604" y2="226" stroke="#a9cfcf" stroke-width="0.9"/>
<line x1="614.5" y1="220.1" x2="613" y2="226" stroke="#a9cfcf" stroke-width="0.9"/>
<line x1="622.1" y1="221" x2="621" y2="226" stroke="#a9cfcf" stroke-width="0.9"/>
<line x1="644.6" y1="206.9" x2="648" y2="213" stroke="#a9cfcf" stroke-width="0.9"/>
<line x1="634.3" y1="230.4" x2="641" y2="230" stroke="#a9cfcf" stroke-width="0.9"/>
<line x1="635.4" y1="271" x2="629.5" y2="273.5" stroke="#a9cfcf" stroke-width="0.9"/>
<line x1="641.3" y1="279.5" x2="647.2" y2="276" stroke="#a9cfcf" stroke-width="0.9"/>
<line x1="642.2" y1="287" x2="646.4" y2="289" stroke="#a9cfcf" stroke-width="0.9"/>
<line x1="642.2" y1="287" x2="644.7" y2="293" stroke="#a9cfcf" stroke-width="0.9"/>
<line x1="630.3" y1="287" x2="635.4" y2="291" stroke="#a9cfcf" stroke-width="0.9"/>
<line x1="630.3" y1="287" x2="626" y2="282.8" stroke="#a9cfcf" stroke-width="0.9"/>
<line x1="621" y1="293" x2="617" y2="294" stroke="#a9cfcf" stroke-width="0.9"/>
<line x1="533.2" y1="285.1" x2="529" y2="282" stroke="#a9cfcf" stroke-width="0.9"/>
<line x1="533.2" y1="285.1" x2="537" y2="282" stroke="#a9cfcf" stroke-width="0.9"/>
<line x1="534.7" y1="297.1" x2="538" y2="292" stroke="#a9cfcf" stroke-width="0.9"/>
<line x1="530.9" y1="291.9" x2="528" y2="298" stroke="#a9cfcf" stroke-width="0.9"/>
<circle cx="535" cy="190" r="1.3" fill="#ffffff" stroke="#8c8c8c" stroke-width="0.45"/>
<circle cx="531" cy="205" r="1.3" fill="#ffffff" stroke="#8c8c8c" stroke-width="0.45"/>
<circle cx="532" cy="217" r="1.3" fill="#ffffff" stroke="#8c8c8c" stroke-width="0.45"/>
<circle cx="554" cy="205" r="1.3" fill="#ffffff" stroke="#8c8c8c" stroke-width="0.45"/>
<circle cx="555" cy="221" r="1.3" fill="#ffffff" stroke="#8c8c8c" stroke-width="0.45"/>
<circle cx="532" cy="231" r="1.3" fill="#ffffff" stroke="#8c8c8c" stroke-width="0.45"/>
<circle cx="521" cy="243" r="1.3" fill="#ffffff" stroke="#8c8c8c" stroke-width="0.45"/>
<circle cx="559" cy="230" r="1.3" fill="#ffffff" stroke="#8c8c8c" stroke-width="0.45"/>
<circle cx="560" cy="262" r="1.3" fill="#ffffff" stroke="#8c8c8c" stroke-width="0.45"/>
<circle cx="548" cy="276" r="1.3" fill="#ffffff" stroke="#8c8c8c" stroke-width="0.45"/>
<circle cx="522" cy="279" r="1.3" fill="#ffffff" stroke="#8c8c8c" stroke-width="0.45"/>
<circle cx="517" cy="268" r="1.3" fill="#ffffff" stroke="#8c8c8c" stroke-width="0.45"/>
<circle cx="486" cy="259" r="1.3" fill="#ffffff" stroke="#8c8c8c" stroke-width="0.45"/>
<circle cx="490" cy="262" r="1.3" fill="#ffffff" stroke="#8c8c8c" stroke-width="0.45"/>
<circle cx="500" cy="267" r="1.3" fill="#ffffff" stroke="#8c8c8c" stroke-width="0.45"/>
<circle cx="507" cy="251" r="1.3" fill="#ffffff" stroke="#8c8c8c" stroke-width="0.45"/>
<circle cx="515" cy="253" r="1.3" fill="#ffffff" stroke="#8c8c8c" stroke-width="0.45"/>
<circle cx="579" cy="234" r="1.3" fill="#ffffff" stroke="#8c8c8c" stroke-width="0.45"/>
<circle cx="586" cy="253" r="1.3" fill="#ffffff" stroke="#8c8c8c" stroke-width="0.45"/>
<circle cx="568" cy="258" r="1.3" fill="#ffffff" stroke="#8c8c8c" stroke-width="0.45"/>
<circle cx="563" cy="238" r="1.3" fill="#ffffff" stroke="#8c8c8c" stroke-width="0.45"/>
<circle cx="595" cy="215" r="1.3" fill="#ffffff" stroke="#8c8c8c" stroke-width="0.45"/>
<circle cx="604" cy="215" r="1.3" fill="#ffffff" stroke="#8c8c8c" stroke-width="0.45"/>
<circle cx="613" cy="215" r="1.3" fill="#ffffff" stroke="#8c8c8c" stroke-width="0.45"/>
<circle cx="621" cy="216" r="1.3" fill="#ffffff" stroke="#8c8c8c" stroke-width="0.45"/>
<circle cx="595" cy="226" r="1.3" fill="#ffffff" stroke="#8c8c8c" stroke-width="0.45"/>
<circle cx="604" cy="226" r="1.3" fill="#ffffff" stroke="#8c8c8c" stroke-width="0.45"/>
<circle cx="613" cy="226" r="1.3" fill="#ffffff" stroke="#8c8c8c" stroke-width="0.45"/>
<circle cx="621" cy="226" r="1.3" fill="#ffffff" stroke="#8c8c8c" stroke-width="0.45"/>
<circle cx="629" cy="204" r="1.3" fill="#ffffff" stroke="#8c8c8c" stroke-width="0.45"/>
<circle cx="642" cy="200" r="1.3" fill="#ffffff" stroke="#8c8c8c" stroke-width="0.45"/>
<circle cx="648" cy="213" r="1.3" fill="#ffffff" stroke="#8c8c8c" stroke-width="0.45"/>
<circle cx="641" cy="230" r="1.3" fill="#ffffff" stroke="#8c8c8c" stroke-width="0.45"/>
<circle cx="629.5" cy="273.5" r="1.3" fill="#ffffff" stroke="#8c8c8c" stroke-width="0.45"/>
<circle cx="647.2" cy="276" r="1.3" fill="#ffffff" stroke="#8c8c8c" stroke-width="0.45"/>
<circle cx="648.9" cy="282.8" r="1.3" fill="#ffffff" stroke="#8c8c8c" stroke-width="0.45"/>
<circle cx="646.4" cy="289" r="1.3" fill="#ffffff" stroke="#8c8c8c" stroke-width="0.45"/>
<circle cx="644.7" cy="293" r="1.3" fill="#ffffff" stroke="#8c8c8c" stroke-width="0.45"/>
<circle cx="632.8" cy="295.5" r="1.3" fill="#ffffff" stroke="#8c8c8c" stroke-width="0.45"/>
<circle cx="635.4" cy="291" r="1.3" fill="#ffffff" stroke="#8c8c8c" stroke-width="0.45"/>
<circle cx="626" cy="282.8" r="1.3" fill="#ffffff" stroke="#8c8c8c" stroke-width="0.45"/>
<circle cx="628.6" cy="278.6" r="1.3" fill="#ffffff" stroke="#8c8c8c" stroke-width="0.45"/>
<circle cx="615" cy="288.8" r="1.3" fill="#ffffff" stroke="#8c8c8c" stroke-width="0.45"/>
<circle cx="621" cy="300" r="1.3" fill="#ffffff" stroke="#8c8c8c" stroke-width="0.45"/>
<circle cx="617" cy="294" r="1.3" fill="#ffffff" stroke="#8c8c8c" stroke-width="0.45"/>
<circle cx="538" cy="321" r="1.3" fill="#ffffff" stroke="#8c8c8c" stroke-width="0.45"/>
<circle cx="529" cy="282" r="1.3" fill="#ffffff" stroke="#8c8c8c" stroke-width="0.45"/>
<circle cx="537" cy="282" r="1.3" fill="#ffffff" stroke="#8c8c8c" stroke-width="0.45"/>
<circle cx="538" cy="292" r="1.3" fill="#ffffff" stroke="#8c8c8c" stroke-width="0.45"/>
<circle cx="528" cy="298" r="1.3" fill="#ffffff" stroke="#8c8c8c" stroke-width="0.45"/>
<circle cx="667" cy="240" r="1.3" fill="#ffffff" stroke="#8c8c8c" stroke-width="0.45"/>
<circle cx="669" cy="258" r="1.3" fill="#ffffff" stroke="#8c8c8c" stroke-width="0.45"/>
<path d="M540.7 192.8 L542.2 201.8 L548.2 207.8 L549.7 216.8 L545.2 221.4 L538.4 215.3 L536.9 205.6 L542.2 201.8" fill="none" stroke="#23888a" stroke-width="2.0" stroke-linejoin="round"/>
<path d="M545.2 221.4 L545.9 231.1" fill="none" stroke="#23888a" stroke-width="2.0" stroke-linejoin="round"/>
<path d="M545.9 231.1 L554.2 233.4 L556.5 243.2 L550.5 249.9 L542.2 248.4 L539.9 238.6 L545.9 231.1" fill="none" stroke="#23888a" stroke-width="2.0" stroke-linejoin="round"/>
<path d="M539.9 238.6 L531.7 236.4 L526.4 243.9 L527.9 253.7 L535.4 255.2 L542.2 248.4" fill="none" stroke="#23888a" stroke-width="2.0" stroke-linejoin="round"/>
<path d="M550.5 249.9 L552 261 L545.9 267.8 L537.7 266.3 L535.4 255.2" fill="none" stroke="#23888a" stroke-width="2.0" stroke-linejoin="round"/>
<path d="M537.7 266.3 L530.9 273.8 L523.4 271.6 L521.9 261.8 L527.9 253.7" fill="none" stroke="#23888a" stroke-width="2.0" stroke-linejoin="round"/>
<path d="M556.5 243.2 L564.7 244.5 L568.5 238.9 L577.9 239.8 L582.6 247.4 L577.9 253 L568.5 252.1 L564.7 244.5" fill="none" stroke="#23888a" stroke-width="2.0" stroke-linejoin="round"/>
<path d="M521.9 261.8 L514.4 258.8 L507.6 255 L499.3 258 L491.8 255.8" fill="none" stroke="#23888a" stroke-width="2.0" stroke-linejoin="round"/>
<path d="M514.4 258.8 L506.8 261.8 L498.6 261.8 L499.3 258" fill="none" stroke="#23888a" stroke-width="2.0" stroke-linejoin="round"/>
<path d="M530.9 273.8 L533.2 285.1 L530.9 291.9 L532.4 303.2 L533.9 310 L533.9 317.4" fill="none" stroke="#23888a" stroke-width="2.0" stroke-linejoin="round"/>
<path d="M533.2 285.1 L534.7 297.1 L532.4 303.2" fill="none" stroke="#23888a" stroke-width="2.0" stroke-linejoin="round"/>
<path d="M582.6 247.4 L591 247 L600 248 L610 247 L620 248 L628 246 L638 250 L648 248 L658 247 L664 252" fill="none" stroke="#23888a" stroke-width="2.0" stroke-linejoin="round"/>
<path d="M597.6 220.1 L605.1 220.1 L614.5 220.1 L622.1 221 L631.5 221 L634.3 209.7 L644.6 206.9" fill="none" stroke="#23888a" stroke-width="2.0" stroke-linejoin="round"/>
<path d="M631.5 221 L634.3 230.4 L636 238" fill="none" stroke="#23888a" stroke-width="2.0" stroke-linejoin="round"/>
<path d="M628 258 L635.4 271 L641.3 279.5 L642.2 287" fill="none" stroke="#23888a" stroke-width="2.0" stroke-linejoin="round"/>
<path d="M641.3 279.5 L630.3 287 L621 293" fill="none" stroke="#23888a" stroke-width="2.0" stroke-linejoin="round"/>
<circle cx="542.2" cy="201.8" r="2.5" fill="url(#gt)"/>
<circle cx="548.2" cy="207.8" r="2.5" fill="url(#gt)"/>
<circle cx="549.7" cy="216.8" r="2.5" fill="url(#gt)"/>
<circle cx="545.2" cy="221.4" r="2.5" fill="url(#gt)"/>
<circle cx="538.4" cy="215.3" r="2.5" fill="url(#gt)"/>
<circle cx="536.9" cy="205.6" r="2.5" fill="url(#gt)"/>
<circle cx="545.9" cy="231.1" r="2.5" fill="url(#gt)"/>
<circle cx="554.2" cy="233.4" r="2.5" fill="url(#gt)"/>
<circle cx="556.5" cy="243.2" r="2.5" fill="url(#gt)"/>
<circle cx="550.5" cy="249.9" r="2.5" fill="url(#gt)"/>
<circle cx="542.2" cy="248.4" r="2.5" fill="url(#gt)"/>
<circle cx="539.9" cy="238.6" r="2.5" fill="url(#gt)"/>
<circle cx="531.7" cy="236.4" r="2.5" fill="url(#gt)"/>
<circle cx="526.4" cy="243.9" r="2.5" fill="url(#gt)"/>
<circle cx="527.9" cy="253.7" r="2.5" fill="url(#gt)"/>
<circle cx="535.4" cy="255.2" r="2.5" fill="url(#gt)"/>
<circle cx="552" cy="261" r="2.5" fill="url(#gt)"/>
<circle cx="545.9" cy="267.8" r="2.5" fill="url(#gt)"/>
<circle cx="537.7" cy="266.3" r="2.5" fill="url(#gt)"/>
<circle cx="530.9" cy="273.8" r="2.5" fill="url(#gt)"/>
<circle cx="523.4" cy="271.6" r="2.5" fill="url(#gt)"/>
<circle cx="521.9" cy="261.8" r="2.5" fill="url(#gt)"/>
<circle cx="568.5" cy="238.9" r="2.5" fill="url(#gt)"/>
<circle cx="577.9" cy="239.8" r="2.5" fill="url(#gt)"/>
<circle cx="582.6" cy="247.4" r="2.5" fill="url(#gt)"/>
<circle cx="577.9" cy="253" r="2.5" fill="url(#gt)"/>
<circle cx="568.5" cy="252.1" r="2.5" fill="url(#gt)"/>
<circle cx="564.7" cy="244.5" r="2.5" fill="url(#gt)"/>
<circle cx="514.4" cy="258.8" r="2.5" fill="url(#gt)"/>
<circle cx="507.6" cy="255" r="2.5" fill="url(#gt)"/>
<circle cx="499.3" cy="258" r="2.5" fill="url(#gt)"/>
<circle cx="506.8" cy="261.8" r="2.5" fill="url(#gt)"/>
<circle cx="498.6" cy="261.8" r="2.5" fill="url(#gt)"/>
<circle cx="533.2" cy="285.1" r="2.5" fill="url(#gt)"/>
<circle cx="530.9" cy="291.9" r="2.5" fill="url(#gt)"/>
<circle cx="534.7" cy="297.1" r="2.5" fill="url(#gt)"/>
<circle cx="532.4" cy="303.2" r="2.5" fill="url(#gt)"/>
<circle cx="533.9" cy="310" r="2.5" fill="url(#gt)"/>
<circle cx="597.6" cy="220.1" r="2.5" fill="url(#gt)"/>
<circle cx="605.1" cy="220.1" r="2.5" fill="url(#gt)"/>
<circle cx="614.5" cy="220.1" r="2.5" fill="url(#gt)"/>
<circle cx="622.1" cy="221" r="2.5" fill="url(#gt)"/>
<circle cx="631.5" cy="221" r="2.5" fill="url(#gt)"/>
<circle cx="634.3" cy="209.7" r="2.5" fill="url(#gt)"/>
<circle cx="644.6" cy="206.9" r="2.5" fill="url(#gt)"/>
<circle cx="634.3" cy="230.4" r="2.5" fill="url(#gt)"/>
<circle cx="635.4" cy="271" r="2.5" fill="url(#gt)"/>
<circle cx="641.3" cy="279.5" r="2.5" fill="url(#gt)"/>
<circle cx="642.2" cy="287" r="2.5" fill="url(#gt)"/>
<circle cx="630.3" cy="287" r="2.5" fill="url(#gt)"/>
<circle cx="621" cy="293" r="2.5" fill="url(#gt)"/>
<circle cx="540.7" cy="192.8" r="2.2" fill="#2a3fb8"/>
<circle cx="491.8" cy="255.8" r="2.2" fill="#2a3fb8"/>
<circle cx="533.9" cy="317.4" r="2.2" fill="#2a3fb8"/>
<ellipse cx="590.6" cy="244.9" rx="3.4499999999999997" ry="3.3000000000000003" transform="rotate(0 590.6 244.9)" fill="url(#gb)"/>
<ellipse cx="590.6" cy="251.7" rx="3.4499999999999997" ry="2.75" transform="rotate(0 590.6 251.7)" fill="url(#gr)"/>
<ellipse cx="601.1" cy="253.5" rx="6.324999999999999" ry="3.8500000000000005" transform="rotate(0 601.1 253.5)" fill="url(#gb)"/>
<ellipse cx="603" cy="244.9" rx="4.6" ry="3.8500000000000005" transform="rotate(0 603 244.9)" fill="url(#gr)"/>
<ellipse cx="608.6" cy="254.2" rx="2.875" ry="2.75" transform="rotate(0 608.6 254.2)" fill="url(#gr)"/>
<ellipse cx="611" cy="243.6" rx="4.0249999999999995" ry="3.8500000000000005" transform="rotate(0 611 243.6)" fill="url(#gb)"/>
<ellipse cx="617.9" cy="244.9" rx="4.0249999999999995" ry="3.8500000000000005" transform="rotate(0 617.9 244.9)" fill="url(#gb)"/>
<ellipse cx="618.5" cy="252.9" rx="4.6" ry="4.4" transform="rotate(0 618.5 252.9)" fill="url(#gr)"/>
<ellipse cx="620.4" cy="264.7" rx="4.0249999999999995" ry="3.8500000000000005" transform="rotate(0 620.4 264.7)" fill="url(#gr)"/>
<ellipse cx="622.2" cy="268.4" rx="4.0249999999999995" ry="3.8500000000000005" transform="rotate(0 622.2 268.4)" fill="url(#gb)"/>
<ellipse cx="626" cy="242.4" rx="5.75" ry="4.95" transform="rotate(0 626 242.4)" fill="url(#gr)"/>
<ellipse cx="629.7" cy="261" rx="6.8999999999999995" ry="5.5" transform="rotate(0 629.7 261)" fill="url(#gr)"/>
<ellipse cx="632.1" cy="264.7" rx="5.75" ry="3.3000000000000003" transform="rotate(0 632.1 264.7)" fill="url(#gr)"/>
<ellipse cx="630.9" cy="249.8" rx="6.8999999999999995" ry="11.0" transform="rotate(10 630.9 249.8)" fill="url(#gb)"/>
<ellipse cx="637.1" cy="237.4" rx="5.75" ry="3.8500000000000005" transform="rotate(0 637.1 237.4)" fill="url(#gb)"/>
<ellipse cx="645.8" cy="257.3" rx="7.475" ry="7.15" transform="rotate(0 645.8 257.3)" fill="url(#gb)"/>
<ellipse cx="649.5" cy="263.5" rx="4.6" ry="4.95" transform="rotate(0 649.5 263.5)" fill="url(#gr)"/>
<ellipse cx="640.8" cy="249.2" rx="6.8999999999999995" ry="11.55" transform="rotate(-10 640.8 249.2)" fill="url(#gr)"/>
<ellipse cx="648.3" cy="231.2" rx="4.6" ry="3.8500000000000005" transform="rotate(0 648.3 231.2)" fill="url(#gr)"/>
<ellipse cx="650.8" cy="236.8" rx="4.6" ry="4.4" transform="rotate(0 650.8 236.8)" fill="url(#gb)"/>
<ellipse cx="657" cy="243.6" rx="5.75" ry="4.4" transform="rotate(0 657 243.6)" fill="url(#gb)"/>
<ellipse cx="663.2" cy="256.6" rx="5.75" ry="4.95" transform="rotate(0 663.2 256.6)" fill="url(#gb)"/>
<ellipse cx="659.4" cy="250.4" rx="6.324999999999999" ry="4.95" transform="rotate(0 659.4 250.4)" fill="url(#gr)"/>
<ellipse cx="661.9" cy="262.2" rx="4.0249999999999995" ry="3.3000000000000003" transform="rotate(0 661.9 262.2)" fill="url(#gr)"/>
<text transform="translate(364 281.9)" font-size="11.7" text-anchor="middle" font-weight="bold" fill="#111" >HOMO</text>
<text transform="translate(363.7 297.2)" font-size="11.7" text-anchor="middle" font-weight="bold" fill="#111" >(-4.67 eV)</text>
<text transform="translate(584.2 281.9)" font-size="11.7" text-anchor="middle" font-weight="bold" fill="#111" >LUMO</text>
<text transform="translate(584.2 297)" font-size="11.7" text-anchor="middle" font-weight="bold" fill="#111" >(-3.39 eV)</text>
<text transform="translate(463.4 317)" font-size="11.9" text-anchor="middle" font-weight="bold" fill="#111" >Bandgap = 1.28 eV</text>
<text transform="translate(229.5 201.7) scale(0.9 1)" font-size="18.7" text-anchor="start" font-weight="bold" fill="#000" >e</text>
<path d="M45.3 498.57 L45.8 498.45 L46.3 498.64 L46.8 498.66 L47.3 498.86 L47.8 498.79 L48.3 499.16 L48.8 499.03 L49.3 499.09 L49.8 499.16 L50.3 498.76 L50.8 499.14 L51.3 499.18 L51.8 499.36 L52.3 499.02 L52.8 499.82 L53.3 499.49 L53.8 499.2 L54.3 499.12 L54.8 499.52 L55.3 499.6 L55.8 499.48 L56.3 499.71 L56.8 499.56 L57.3 499.9 L57.8 499.61 L58.3 499.81 L58.8 500.1 L59.3 500.53 L59.8 499.67 L60.3 499.83 L60.8 499.77 L61.3 500.21 L61.8 499.75 L62.3 499.94 L62.8 500.08 L63.3 499.87 L63.8 499.9 L64.3 500.04 L64.8 499.66 L65.3 499.84 L65.8 500.12 L66.3 500.27 L66.8 500.2 L67.3 499.82 L67.8 500.16 L68.3 500.48 L68.8 500.43 L69.3 500.28 L69.8 500.08 L70.3 500.46 L70.8 500.15 L71.3 499.97 L71.8 500.02 L72.3 500.52 L72.8 500.14 L73.3 500.3 L73.8 499.8 L74.3 500.06 L74.8 499.58 L75.3 499.59 L75.8 500.16 L76.3 499.63 L76.8 499.2 L77.3 499.18 L77.8 499.14 L78.3 499.21 L78.8 498.62 L79.3 498.14 L79.8 498.32 L80.3 498.22 L80.8 498.06 L81.3 498.18 L81.8 497.74 L82.3 497.69 L82.8 497.04 L83.3 497.37 L83.8 497.53 L84.3 497.05 L84.8 496.8 L85.3 496.66 L85.8 496.98 L86.3 496.22 L86.8 496.36 L87.3 496.44 L87.8 496.45 L88.3 496.1 L88.8 496.24 L89.3 496.04 L89.8 496.1 L90.3 496 L90.8 495.7 L91.3 495.95 L91.8 496.13 L92.3 495.64 L92.8 495.78 L93.3 495.98 L93.8 495.51 L94.3 495.78 L94.8 495.44 L95.3 495.94 L95.8 496.2 L96.3 496.08 L96.8 495.47 L97.3 495.66 L97.8 495.45 L98.3 495.39 L98.8 495.69 L99.3 494.9 L99.8 495.42 L100.3 495.05 L100.8 495.31 L101.3 494.9 L101.8 494.56 L102.3 494.67 L102.8 494.64 L103.3 494.33 L103.8 494.29 L104.3 493.89 L104.8 493.33 L105.3 493.94 L105.8 493.74 L106.3 493.44 L106.8 493.25 L107.3 493.31 L107.8 492.74 L108.3 492.48 L108.8 492.4 L109.3 492.54 L109.8 491.69 L110.3 492.14 L110.8 491.49 L111.3 491.19 L111.8 491.62 L112.3 491.14 L112.8 490.72 L113.3 490.85 L113.8 491.07 L114.3 491.04 L114.8 490.54 L115.3 490.65 L115.8 490.64 L116.3 490.21 L116.8 490.38 L117.3 490.2 L117.8 490 L118.3 489.94 L118.8 490.02 L119.3 489.95 L119.8 489.76 L120.3 489.75 L120.8 490.11 L121.3 489.86 L121.8 490.02 L122.3 490.1 L122.8 489.96 L123.3 490.4 L123.8 489.65 L124.3 490.09 L124.8 489.85 L125.3 490.44 L125.8 490.45 L126.3 489.59 L126.8 489.9 L127.3 490.37 L127.8 490.47 L128.3 490.53 L128.8 490.4 L129.3 490.61 L129.8 490.73 L130.3 490.63 L130.8 491.02 L131.3 490.33 L131.8 491.21 L132.3 490.96 L132.8 491.65 L133.3 491.56 L133.8 491.61 L134.3 492.15 L134.8 492.06 L135.3 492.29 L135.8 492.35 L136.3 492.96 L136.8 493.31 L137.3 493.64 L137.8 493.55 L138.3 494.02 L138.8 493.92 L139.3 494.03 L139.8 494.31 L140.3 494.52 L140.8 494.25 L141.3 494.36 L141.8 494.47 L142.3 494.61 L142.8 494.44 L143.3 494.99 L143.8 494.7 L144.3 494.97 L144.8 494.7 L145.3 495.03 L145.8 495.07 L146.3 494.89 L146.8 495.51 L147.3 495.07 L147.8 495.36 L148.3 495.06 L148.8 494.52 L149.3 494.44 L149.8 494.47 L150.3 494.19 L150.8 493.99 L151.3 493.7 L151.8 493.13 L152.3 493.32 L152.8 492.58 L153.3 492.95 L153.8 492.37 L154.3 492.05 L154.8 491.84 L155.3 491.62 L155.8 490.86 L156.3 490.45 L156.8 490.32 L157.3 489.81 L157.8 489.84 L158.3 490.28 L158.8 489.42 L159.3 489.64 L159.8 488.94 L160.3 489.16 L160.8 488.82 L161.3 488.7 L161.8 488.69 L162.3 488.83 L162.8 488.3 L163.3 488.16 L163.8 487.79 L164.3 488.11 L164.8 487.85 L165.3 488.11 L165.8 487.91 L166.3 488.41 L166.8 487.56 L167.3 488.1 L167.8 488.53 L168.3 488.38 L168.8 488.45 L169.3 488.78 L169.8 488.7 L170.3 489.29 L170.8 490.09 L171.3 489.98 L171.8 489.64 L172.3 489.92 L172.8 490.29 L173.3 490.94 L173.8 490.8 L174.3 491.19 L174.8 491.95 L175.3 492.34 L175.8 492.43 L176.3 492.65 L176.8 492.96 L177.3 493.58 L177.8 493.6 L178.3 494.74 L178.8 494.78 L179.3 495.41 L179.8 496.09 L180.3 496.23 L180.8 495.91 L181.3 496.66 L181.8 496.97 L182.3 496.72 L182.8 496.9 L183.3 497.34 L183.8 497.18 L184.3 498.17 L184.8 497.41 L185.3 497.93 L185.8 498.33 L186.3 498.52 L186.8 498.79 L187.3 498.97 L187.8 498.99 L188.3 499.46 L188.8 498.76 L189.3 499.39 L189.8 499.29 L190.3 499.57 L190.8 499.66 L191.3 499.44 L191.8 499.57 L192.3 499.98 L192.8 499.93 L193.3 499.73 L193.8 500.47 L194.3 500.59 L194.8 499.7 L195.3 500.19 L195.8 500.79 L196.3 500.41 L196.8 500.32 L197.3 500.25 L197.8 500.21 L198.3 500.34 L198.8 500.29 L199.3 500.65 L199.8 500.4 L200.3 500.43 L200.8 500.27 L201.3 500.59 L201.8 500.4 L202.3 500.61 L202.8 500.94 L203.3 500.79 L203.8 500.85 L204.3 500.83 L204.8 500.77 L205.3 500.74 L205.8 500.7 L206.3 500.98 L206.8 500.52 L207.3 501.13 L207.8 500.81 L207.9 500.61" fill="none" stroke="#8a2c89" stroke-width="1.15" stroke-linejoin="round" stroke-linecap="round" />
<path d="M49.2 498.88 L49.7 498.66 L50.2 498.68 L50.7 498.27 L51.2 498.54 L51.7 497.85 L52.2 497.27 L52.7 497.43 L53.2 496.88 L53.7 497.14 L54.2 497.17 L54.7 496.82 L55.2 496.06 L55.7 495.94 L56.2 496.31 L56.7 495.67 L57.2 495.3 L57.7 495.28 L58.2 495.32 L58.7 494.73 L59.2 494.12 L59.7 493.84 L60.2 493.57 L60.7 492.91 L61.2 492.44 L61.7 492.35 L62.2 491.72 L62.7 491.54 L63.2 491.18 L63.7 491.31 L64.2 490.06 L64.7 489.75 L65.2 489.22 L65.7 488.82 L66.2 488.4 L66.7 487.43 L67.2 486.75 L67.7 485.93 L68.2 485.49 L68.7 485.23 L69.2 484.49 L69.7 483.61 L70.2 483.16 L70.7 482.65 L71.2 482.14 L71.7 481.22 L72.2 480.65 L72.7 479.61 L73.2 479.11 L73.7 479.14 L74.2 477.53 L74.7 477.33 L75.2 476.82 L75.7 476.03 L76.2 475.29 L76.7 474.85 L77.2 474.26 L77.7 473.64 L78.2 472.6 L78.7 472.46 L79.2 471.71 L79.7 471.21 L80.2 470.84 L80.7 470.38 L81.2 469.88 L81.7 468.98 L82.2 468.77 L82.7 468.27 L83.2 467.7 L83.7 467.19 L84.2 466.23 L84.7 465.65 L85.2 465.32 L85.7 464.19 L86.2 464 L86.7 463.23 L87.2 462.69 L87.7 461.76 L88.2 461.4 L88.7 461.04 L89.2 460.69 L89.7 460.15 L90.2 459.32 L90.7 458.73 L91.2 458.01 L91.7 457.76 L92.2 457.04 L92.7 456.7 L93.2 456.43 L93.7 455.43 L94.2 454.52 L94.7 454.15 L95.2 453.47 L95.7 453.01 L96.2 453.12 L96.7 452.35 L97.2 451.42 L97.7 451.48 L98.2 451.16 L98.7 450.28 L99.2 449.74 L99.7 449.37 L100.2 449.08 L100.7 448.73 L101.2 448.44 L101.7 448.04 L102.2 447.64 L102.7 447.29 L103.2 446.72 L103.7 445.79 L104.2 445.76 L104.7 445.51 L105.2 444.99 L105.7 444.98 L106.2 444.35 L106.7 443.93 L107.2 444.26 L107.7 443.82 L108.2 443.47 L108.7 443.41 L109.2 443.23 L109.7 442.84 L110.2 441.95 L110.7 442.22 L111.2 442.11 L111.7 441.83 L112.2 442 L112.7 442.12 L113.2 441.58 L113.7 441.29 L114.2 441.96 L114.7 441.23 L115.2 440.94 L115.7 441.22 L116.2 441.2 L116.7 440.86 L117.2 441.21 L117.7 440.88 L118.2 440.79 L118.7 441.1 L119.2 441.3 L119.7 441.03 L120.2 441.36 L120.7 441.36 L121.2 442.2 L121.7 441.45 L122.2 442.11 L122.7 441.89 L123.2 442.03 L123.7 442.39 L124.2 442.59 L124.7 442.85 L125.2 442.82 L125.7 442.81 L126.2 443.08 L126.7 443.62 L127.2 443.94 L127.7 444.46 L128.2 444.56 L128.7 445.08 L129.2 445.56 L129.7 445.61 L130.2 445.59 L130.7 446.14 L131.2 446.61 L131.7 447.94 L132.2 447.9 L132.7 448.99 L133.2 449.35 L133.7 450.15 L134.2 450.48 L134.7 450.7 L135.2 451.17 L135.7 451.74 L136.2 452.26 L136.7 452.58 L137.2 453.2 L137.7 454.1 L138.2 453.78 L138.7 454.86 L139.2 455.19 L139.7 456.06 L140.2 456.73 L140.7 456.87 L141.2 457.24 L141.7 456.77 L142.2 457.54 L142.7 457.2 L143.2 457.59 L143.7 457.54 L144.2 456.9 L144.7 457.39 L145.2 457.65 L145.7 457.98 L146.2 457.58 L146.7 457.41 L147.2 456.75 L147.7 457.16 L148.2 456.91 L148.7 456.09 L149.2 455.62 L149.7 454.85 L150.2 455.04 L150.7 454.93 L151.2 453.74 L151.7 453.08 L152.2 452.03 L152.7 450.73 L153.2 450.38 L153.7 448.82 L154.2 448.19 L154.7 447.51 L155.2 446.94 L155.7 446.1 L156.2 445.35 L156.7 444.34 L157.2 443.52 L157.7 443.22 L158.2 442.48 L158.7 441.88 L159.2 441.56 L159.7 441.45 L160.2 440.82 L160.7 440.68 L161.2 440.39 L161.7 440.68 L162.2 440.63 L162.7 441 L163.2 440.23 L163.7 440.66 L164.2 441.39 L164.7 441.54 L165.2 442.01 L165.7 443.07 L166.2 443.19 L166.7 444.01 L167.2 445.35 L167.7 447.4 L168.2 449.18 L168.7 450.59 L169.2 452.48 L169.7 454.91 L170.2 457.22 L170.7 459.35 L171.2 462.12 L171.7 464.5 L172.2 466.11 L172.7 468.4 L173.2 470.1 L173.7 471.1 L174.2 471.86 L174.7 473.39 L175.2 474.63 L175.7 475.77 L176.2 475.69 L176.7 477.71 L177.2 477.56 L177.7 478.84 L178.2 479.65 L178.7 480.32 L179.2 480.84 L179.7 481.26 L180.2 482.46 L180.7 482.91 L181.2 483.25 L181.7 485.38 L182.2 485.63 L182.7 486.68 L183.2 486.74 L183.7 488.05 L184.2 488.75 L184.7 489.36 L185.2 489.52 L185.7 489.72 L186.2 490.38 L186.7 490.22 L187.2 490.67 L187.7 491.42 L188.2 491.44 L188.7 491.91 L189.2 492.18 L189.7 492.93 L190.2 492.99 L190.7 492.87 L191.2 493.39 L191.7 493.09 L192.2 493.39 L192.7 493.89 L193.2 493.54 L193.7 493.96 L194.2 493.88 L194.7 494.42 L195.2 494.98 L195.7 494.57 L196.2 495 L196.7 494.89 L197.2 495.01 L197.7 495.16 L198.2 496.01 L198.7 496.41 L199.2 496.11 L199.7 495.97 L200.2 496.49 L200.7 496.39 L201.2 496.83 L201.7 496.86 L202.2 497.01 L202.7 497.24 L203.2 497.09 L203.7 497.27 L204.2 497.08 L204.7 497.53 L205.2 497.42 L205.7 497.86 L206.2 497.78 L206.7 498.16 L207.2 498.36 L207.7 498 L207.9 498.2" fill="none" stroke="#9e1f2b" stroke-width="1.15" stroke-linejoin="round" stroke-linecap="round" />
<path d="M58.4 488.61 L58.9 488.41 L59.4 488.06 L59.9 487.34 L60.4 486.55 L60.9 486.37 L61.4 485.22 L61.9 485.27 L62.4 484.28 L62.9 483.3 L63.4 483.83 L63.9 483.06 L64.4 481.97 L64.9 481.65 L65.4 481.01 L65.9 480.52 L66.4 479.65 L66.9 479.27 L67.4 478.95 L67.9 478.36 L68.4 478 L68.9 477.22 L69.4 477.11 L69.9 475.92 L70.4 475.53 L70.9 474.49 L71.4 474 L71.9 473.87 L72.4 472.75 L72.9 472.34 L73.4 471.49 L73.9 470.52 L74.4 469.86 L74.9 469 L75.4 468.16 L75.9 467.55 L76.4 466.66 L76.9 465.53 L77.4 464.59 L77.9 463.95 L78.4 463 L78.9 462.37 L79.4 461.86 L79.9 460.65 L80.4 459.64 L80.9 458.77 L81.4 457.8 L81.9 456.94 L82.4 456.08 L82.9 455.35 L83.4 454.49 L83.9 453.86 L84.4 452.76 L84.9 451.93 L85.4 450.84 L85.9 450.51 L86.4 449.38 L86.9 448.72 L87.4 447.6 L87.9 446.82 L88.4 445.53 L88.9 444.78 L89.4 444.23 L89.9 442.47 L90.4 441.97 L90.9 441.08 L91.4 439.82 L91.9 438.86 L92.4 437.91 L92.9 436.44 L93.4 435.55 L93.9 434.16 L94.4 433.05 L94.9 431.91 L95.4 430.84 L95.9 429.74 L96.4 428.64 L96.9 427.12 L97.4 426.68 L97.9 425.38 L98.4 424.14 L98.9 422.77 L99.4 421.67 L99.9 420.66 L100.4 419.51 L100.9 417.98 L101.4 417.4 L101.9 416.8 L102.4 414.81 L102.9 414.4 L103.4 413.28 L103.9 412.22 L104.4 411.58 L104.9 410.14 L105.4 409.53 L105.9 408.95 L106.4 407.8 L106.9 406.97 L107.4 406.3 L107.9 405.42 L108.4 405.09 L108.9 403.88 L109.4 403.57 L109.9 402.49 L110.4 402.29 L110.9 401.58 L111.4 400.57 L111.9 400.61 L112.4 399.93 L112.9 399.62 L113.4 399.62 L113.9 398.69 L114.4 398.34 L114.9 398.53 L115.4 397.97 L115.9 397.96 L116.4 397.41 L116.9 396.9 L117.4 396.88 L117.9 397.06 L118.4 397.01 L118.9 396.88 L119.4 396.98 L119.9 397.07 L120.4 397.11 L120.9 397.77 L121.4 397.53 L121.9 397.48 L122.4 397.83 L122.9 398.33 L123.4 398.59 L123.9 398.73 L124.4 398.95 L124.9 399.43 L125.4 399.47 L125.9 399.99 L126.4 400.94 L126.9 401.24 L127.4 402.02 L127.9 402.83 L128.4 403.36 L128.9 403.89 L129.4 404.97 L129.9 405.31 L130.4 405.73 L130.9 406.58 L131.4 407.16 L131.9 407.55 L132.4 408.4 L132.9 409.02 L133.4 409.33 L133.9 410.39 L134.4 411.08 L134.9 411.76 L135.4 412.26 L135.9 413.3 L136.4 414.16 L136.9 415 L137.4 415.58 L137.9 416.77 L138.4 417.22 L138.9 418.24 L139.4 419.35 L139.9 419.71 L140.4 420.53 L140.9 421.73 L141.4 422.36 L141.9 423.31 L142.4 424.31 L142.9 425.29 L143.4 425.3 L143.9 426.09 L144.4 426.34 L144.9 426.36 L145.4 426.18 L145.9 425.76 L146.4 425.42 L146.9 424.48 L147.4 423.94 L147.9 423.23 L148.4 422.18 L148.9 421.35 L149.4 420.5 L149.9 418.94 L150.4 417.38 L150.9 416.08 L151.4 414.48 L151.9 413.33 L152.4 412.06 L152.9 410.24 L153.4 408.84 L153.9 407.54 L154.4 405.62 L154.9 404.17 L155.4 402.36 L155.9 400.89 L156.4 399.51 L156.9 398.69 L157.4 396.86 L157.9 395.45 L158.4 394.03 L158.9 392.75 L159.4 391.67 L159.9 390.5 L160.4 390.03 L160.9 389.11 L161.4 389.05 L161.9 388.55 L162.4 388.38 L162.9 387.79 L163.4 387.93 L163.9 387.89 L164.4 387.92 L164.9 387.82 L165.4 388.88 L165.9 389.23 L166.4 389.94 L166.9 390.78 L167.4 391.91 L167.9 393.9 L168.4 395.96 L168.9 398.75 L169.4 401.83 L169.9 404.52 L170.4 407 L170.9 409.7 L171.4 412.48 L171.9 415.49 L172.4 418.56 L172.9 420.83 L173.4 423.91 L173.9 426.26 L174.4 428.42 L174.9 431.04 L175.4 432.92 L175.9 435.16 L176.4 437.52 L176.9 439.96 L177.4 442.23 L177.9 444.44 L178.4 446.88 L178.9 448.88 L179.4 451.94 L179.9 454.13 L180.4 456.84 L180.9 459.39 L181.4 461.63 L181.9 463.81 L182.4 465.9 L182.9 467.85 L183.4 469.42 L183.9 470.53 L184.4 471.21 L184.9 472.17 L185.4 473.01 L185.9 474.1 L186.4 474.36 L186.9 475.72 L187.4 476.04 L187.9 476.61 L188.4 477.42 L188.9 478.11 L189.4 478.5 L189.9 479.14 L190.4 479.44 L190.9 480.12 L191.4 480.57 L191.9 480.74 L192.4 481.46 L192.9 481.59 L193.4 481.94 L193.9 482.08 L194.4 482.54 L194.9 483.07 L195.4 482.96 L195.9 483.65 L196.4 483.88 L196.9 484.16 L197.4 483.95 L197.9 484.66 L198.4 485.11 L198.9 485.13 L199.4 485.62 L199.9 485.46 L200.4 486.41 L200.9 486.48 L201.4 487.13 L201.9 486.94 L202.4 487.79 L202.9 487.96 L203.4 488.52 L203.9 488.53 L204.4 488.94 L204.9 489.87 L205.4 489.62 L205.9 490 L206.4 490.45 L206.9 490.66 L207.4 491.47 L207.9 491.95" fill="none" stroke="#38447a" stroke-width="1.15" stroke-linejoin="round" stroke-linecap="round" />
<rect x="42.3" y="369.2" width="165.6" height="132.7" fill="none" stroke="#262626" stroke-width="1.25"/>
<line x1="42.3" y1="501.9" x2="42.3" y2="504.4" stroke="#262626" stroke-width="0.9"/>
<line x1="79.94" y1="501.9" x2="79.94" y2="504.4" stroke="#262626" stroke-width="0.9"/>
<line x1="117.57" y1="501.9" x2="117.57" y2="504.4" stroke="#262626" stroke-width="0.9"/>
<line x1="155.21" y1="501.9" x2="155.21" y2="504.4" stroke="#262626" stroke-width="0.9"/>
<line x1="192.85" y1="501.9" x2="192.85" y2="504.4" stroke="#262626" stroke-width="0.9"/>
<line x1="61.12" y1="501.9" x2="61.12" y2="503.4" stroke="#262626" stroke-width="0.9"/>
<line x1="98.75" y1="501.9" x2="98.75" y2="503.4" stroke="#262626" stroke-width="0.9"/>
<line x1="136.39" y1="501.9" x2="136.39" y2="503.4" stroke="#262626" stroke-width="0.9"/>
<line x1="174.03" y1="501.9" x2="174.03" y2="503.4" stroke="#262626" stroke-width="0.9"/>
<text transform="translate(42.3 513.8) scale(0.9 1)" font-size="10.0" text-anchor="middle" font-weight="normal" fill="#1a1a1a" >700</text>
<text transform="translate(79.94 513.8) scale(0.9 1)" font-size="10.0" text-anchor="middle" font-weight="normal" fill="#1a1a1a" >750</text>
<text transform="translate(117.57 513.8) scale(0.9 1)" font-size="10.0" text-anchor="middle" font-weight="normal" fill="#1a1a1a" >800</text>
<text transform="translate(155.21 513.8) scale(0.9 1)" font-size="10.0" text-anchor="middle" font-weight="normal" fill="#1a1a1a" >850</text>
<text transform="translate(192.85 513.8) scale(0.9 1)" font-size="10.0" text-anchor="middle" font-weight="normal" fill="#1a1a1a" >900</text>
<line x1="42.3" y1="487.15" x2="39.8" y2="487.15" stroke="#262626" stroke-width="0.9"/>
<line x1="42.3" y1="457.66" x2="39.8" y2="457.66" stroke="#262626" stroke-width="0.9"/>
<line x1="42.3" y1="428.17" x2="39.8" y2="428.17" stroke="#262626" stroke-width="0.9"/>
<line x1="42.3" y1="398.68" x2="39.8" y2="398.68" stroke="#262626" stroke-width="0.9"/>
<line x1="42.3" y1="369.19" x2="39.8" y2="369.19" stroke="#262626" stroke-width="0.9"/>
<line x1="42.3" y1="472.41" x2="40.8" y2="472.41" stroke="#262626" stroke-width="0.9"/>
<line x1="42.3" y1="442.92" x2="40.8" y2="442.92" stroke="#262626" stroke-width="0.9"/>
<line x1="42.3" y1="413.43" x2="40.8" y2="413.43" stroke="#262626" stroke-width="0.9"/>
<line x1="42.3" y1="383.94" x2="40.8" y2="383.94" stroke="#262626" stroke-width="0.9"/>
<text transform="translate(39.3 490.45) scale(0.9 1)" font-size="10.0" text-anchor="end" font-weight="normal" fill="#1a1a1a" >100</text>
<text transform="translate(39.3 460.96) scale(0.9 1)" font-size="10.0" text-anchor="end" font-weight="normal" fill="#1a1a1a" >200</text>
<text transform="translate(39.3 431.47) scale(0.9 1)" font-size="10.0" text-anchor="end" font-weight="normal" fill="#1a1a1a" >300</text>
<text transform="translate(39.3 401.98) scale(0.9 1)" font-size="10.0" text-anchor="end" font-weight="normal" fill="#1a1a1a" >400</text>
<text transform="translate(39.3 372.5) scale(0.9 1)" font-size="10.0" text-anchor="end" font-weight="normal" fill="#1a1a1a" >500</text>
<text transform="translate(125.1 528.6) scale(0.935 1)" font-size="9.9" text-anchor="middle" font-weight="normal" fill="#1a1a1a" >Wavelength (nm)</text>
<text transform="translate(19 434.3) rotate(-90) scale(0.935 1)" font-size="9.9" text-anchor="middle" font-weight="normal" fill="#1a1a1a" >PL Intensity (a.u.)</text>
<text transform="translate(125.8 382.6) scale(0.935 1)" font-size="9.9" text-anchor="start" font-weight="normal" fill="#1a1a1a" >Excitation: 1200 nm</text>
<line x1="46.6" y1="384.1" x2="67.4" y2="384.1" stroke="#b0454f" stroke-width="1.5"/>
<text transform="translate(70.7 387.2) scale(0.935 1)" font-size="9.9" text-anchor="start" font-weight="normal" fill="#1a1a1a" >200 mW</text>
<line x1="46.6" y1="395.3" x2="67.4" y2="395.3" stroke="#38447a" stroke-width="1.3"/>
<text transform="translate(70.7 398.4) scale(0.935 1)" font-size="9.9" text-anchor="start" font-weight="normal" fill="#1a1a1a" >150 mW</text>
<line x1="46.6" y1="407.1" x2="67.4" y2="407.1" stroke="#9a4a9a" stroke-width="1.5"/>
<text transform="translate(70.7 410.2) scale(0.935 1)" font-size="9.9" text-anchor="start" font-weight="normal" fill="#1a1a1a" >50 mW</text>
<text transform="translate(1.5 379.9) scale(0.9 1)" font-size="18.7" text-anchor="start" font-weight="bold" fill="#000" >f</text>
<path d="M276.3 499.8 L276.8 499.8 L277.3 499.8 L277.8 499.8 L278.3 499.8 L278.8 499.8 L279.3 499.8 L279.8 499.8 L280.3 499.8 L280.8 499.8 L281.3 499.81 L281.8 499.81 L282.3 499.81 L282.8 499.81 L283.3 499.81 L283.8 499.81 L284.3 499.82 L284.8 499.82 L285.3 499.82 L285.8 499.82 L286.3 499.83 L286.8 499.83 L287.3 499.83 L287.8 499.83 L288.3 499.84 L288.8 499.84 L289.3 499.85 L289.8 499.85 L290.3 499.85 L290.8 499.86 L291.3 499.86 L291.8 499.87 L292.3 499.87 L292.8 499.88 L293.3 499.88 L293.8 499.89 L294.3 499.89 L294.8 499.9 L295.3 499.91 L295.8 499.91 L296.3 499.92 L296.8 499.93 L297.3 499.93 L297.8 499.94 L298.3 499.95 L298.8 499.96 L299.3 499.96 L299.8 499.97 L300.3 499.98 L300.8 499.99 L301.3 500 L301.8 500.01 L302.3 500.02 L302.8 500.03 L303.3 500.04 L303.8 500.05 L304.3 500.06 L304.8 500.07 L305.3 500.08 L305.8 500.09 L306.3 500.1 L306.8 500.12 L307.3 500.13 L307.8 500.14 L308.3 500.15 L308.8 500.17 L309.3 500.18 L309.8 500.19 L310.3 500.22 L310.8 500.28 L311.3 500.37 L311.8 500.47 L312.3 500.58 L312.8 500.68 L313.3 500.75 L313.8 500.8 L314.3 500.79 L314.8 500.76 L315.3 500.69 L315.8 500.6 L316.3 500.48 L316.8 500.34 L317.3 500.19 L317.8 500.02 L318.3 499.84 L318.8 499.66 L319.3 499.47 L319.8 499.28 L320.3 499.09 L320.8 498.9 L321.3 498.73 L321.8 498.56 L322.3 498.41 L322.8 498.25 L323.3 498.08 L323.8 497.91 L324.3 497.74 L324.8 497.56 L325.3 497.39 L325.8 497.22 L326.3 497.06 L326.8 496.91 L327.3 496.77 L327.8 496.65 L328.3 496.53 L328.8 496.42 L329.3 496.3 L329.8 496.18 L330.3 496.06 L330.8 495.95 L331.3 495.83 L331.8 495.73 L332.3 495.62 L332.8 495.52 L333.3 495.43 L333.8 495.35 L334.3 495.28 L334.8 495.22 L335.3 495.17 L335.8 495.13 L336.3 495.11 L336.8 495.1 L337.3 495.12 L337.8 495.16 L338.3 495.24 L338.8 495.33 L339.3 495.45 L339.8 495.58 L340.3 495.72 L340.8 495.87 L341.3 496.02 L341.8 496.17 L342.3 496.31 L342.8 496.45 L343.3 496.58 L343.8 496.72 L344.3 496.87 L344.8 497.04 L345.3 497.21 L345.8 497.38 L346.3 497.56 L346.8 497.73 L347.3 497.9 L347.8 498.06 L348.3 498.21 L348.8 498.35 L349.3 498.47 L349.8 498.57 L350.3 498.65 L350.8 498.7 L351.3 498.74 L351.8 498.78 L352.3 498.82 L352.8 498.85 L353.3 498.89 L353.8 498.92 L354.3 498.95 L354.8 498.98 L355.3 499.01 L355.8 499.04 L356.3 499.07 L356.8 499.1 L357.3 499.12 L357.8 499.15 L358.3 499.17 L358.8 499.19 L359.3 499.22 L359.8 499.24 L360.3 499.26 L360.8 499.28 L361.3 499.29 L361.8 499.31 L362.3 499.33 L362.8 499.34 L363.3 499.36 L363.8 499.37 L364.3 499.39 L364.8 499.4 L365.3 499.41 L365.8 499.42 L366.3 499.44 L366.8 499.45 L367.3 499.46 L367.8 499.47 L368.3 499.47 L368.8 499.48 L369.3 499.49 L369.8 499.5 L370.3 499.5 L370.8 499.51 L371.3 499.52 L371.8 499.52 L372.3 499.53 L372.8 499.54 L373.3 499.54 L373.8 499.55 L374.3 499.56 L374.8 499.56 L375.3 499.57 L375.8 499.58 L376.3 499.58 L376.8 499.59 L377.3 499.6 L377.8 499.6 L378.3 499.61 L378.8 499.61 L379.3 499.62 L379.8 499.63 L380.3 499.63 L380.8 499.64 L381.3 499.64 L381.8 499.65 L382.3 499.66 L382.8 499.66 L383.3 499.67 L383.8 499.67 L384.3 499.68 L384.8 499.68 L385.3 499.69 L385.8 499.7 L386.3 499.7 L386.8 499.71 L387.3 499.71 L387.8 499.72 L388.3 499.72 L388.8 499.73 L389.3 499.73 L389.8 499.74 L390.3 499.74 L390.8 499.75 L391.3 499.75 L391.8 499.76 L392.3 499.76 L392.8 499.77 L393.3 499.77 L393.8 499.78 L394.3 499.78 L394.8 499.79 L395.3 499.79 L395.8 499.8 L396.3 499.8 L396.8 499.8 L397.3 499.81 L397.8 499.81 L398.3 499.82 L398.8 499.82 L399.3 499.83 L399.8 499.83 L400.3 499.83 L400.8 499.84 L401.3 499.84 L401.8 499.85 L402.3 499.85 L402.8 499.85 L403.3 499.86 L403.8 499.86 L404.3 499.86 L404.8 499.87 L405.3 499.87 L405.8 499.87 L406.3 499.88 L406.8 499.88 L407.3 499.89 L407.8 499.89 L408.3 499.89 L408.8 499.9 L409.3 499.9 L409.8 499.9 L410.3 499.9 L410.8 499.91 L411.3 499.91 L411.8 499.91 L412.3 499.92 L412.8 499.92 L413.3 499.92 L413.8 499.92 L414.3 499.93 L414.8 499.93 L415.3 499.93 L415.8 499.94 L416.3 499.94 L416.8 499.94 L417.3 499.94 L417.8 499.95 L418.3 499.95 L418.8 499.95 L419.3 499.95 L419.8 499.95 L420.3 499.96 L420.8 499.96 L421.3 499.96 L421.8 499.96 L422.3 499.96 L422.8 499.97 L423.3 499.97 L423.8 499.97 L424.3 499.97 L424.8 499.97 L425.3 499.97 L425.8 499.98 L426.3 499.98 L426.8 499.98 L427.3 499.98 L427.8 499.98 L428.3 499.98 L428.8 499.98 L429.3 499.99 L429.8 499.99 L430.3 499.99 L430.8 499.99 L431.3 499.99 L431.8 499.99 L432.3 499.99 L432.8 499.99 L433.3 499.99 L433.8 499.99 L434.3 500 L434.8 500 L435.3 500 L435.8 500 L436.3 500 L436.8 500 L437.3 500 L437.8 500 L438.3 500 L438.8 500 L439.3 500 L439.8 500 L440.3 500 L440.8 500 L441.3 500" fill="none" stroke="#8a2c89" stroke-width="1.15" stroke-linejoin="round" stroke-linecap="round" />
<path d="M276.3 498.6 L300 498.9 L308 499.4 L314 500.6" fill="none" stroke="#a04050" stroke-width="1.2" stroke-linejoin="round" stroke-linecap="round" />
<path d="M276.3 499.3 L276.8 499.3 L277.3 499.3 L277.8 499.3 L278.3 499.3 L278.8 499.3 L279.3 499.3 L279.8 499.3 L280.3 499.31 L280.8 499.31 L281.3 499.31 L281.8 499.31 L282.3 499.31 L282.8 499.32 L283.3 499.32 L283.8 499.32 L284.3 499.32 L284.8 499.33 L285.3 499.33 L285.8 499.33 L286.3 499.34 L286.8 499.34 L287.3 499.34 L287.8 499.35 L288.3 499.35 L288.8 499.36 L289.3 499.36 L289.8 499.36 L290.3 499.37 L290.8 499.37 L291.3 499.38 L291.8 499.39 L292.3 499.39 L292.8 499.4 L293.3 499.4 L293.8 499.41 L294.3 499.42 L294.8 499.42 L295.3 499.43 L295.8 499.44 L296.3 499.44 L296.8 499.45 L297.3 499.46 L297.8 499.46 L298.3 499.47 L298.8 499.48 L299.3 499.49 L299.8 499.5 L300.3 499.51 L300.8 499.52 L301.3 499.53 L301.8 499.55 L302.3 499.58 L302.8 499.6 L303.3 499.63 L303.8 499.66 L304.3 499.69 L304.8 499.73 L305.3 499.77 L305.8 499.81 L306.3 499.85 L306.8 499.89 L307.3 499.94 L307.8 499.98 L308.3 500.03 L308.8 500.08 L309.3 500.13 L309.8 500.18 L310.3 500.24 L310.8 500.31 L311.3 500.41 L311.8 500.51 L312.3 500.61 L312.8 500.7 L313.3 500.76 L313.8 500.8 L314.3 500.79 L314.8 500.7 L315.3 500.54 L315.8 500.32 L316.3 500.05 L316.8 499.73 L317.3 499.37 L317.8 498.99 L318.3 498.58 L318.8 498.16 L319.3 497.73 L319.8 497.31 L320.3 496.9 L320.8 496.47 L321.3 496.01 L321.8 495.5 L322.3 494.96 L322.8 494.39 L323.3 493.78 L323.8 493.16 L324.3 492.51 L324.8 491.85 L325.3 491.17 L325.8 490.48 L326.3 489.79 L326.8 489.09 L327.3 488.39 L327.8 487.7 L328.3 487.02 L328.8 486.35 L329.3 485.69 L329.8 485.05 L330.3 484.44 L330.8 483.85 L331.3 483.26 L331.8 482.67 L332.3 482.08 L332.8 481.5 L333.3 480.92 L333.8 480.34 L334.3 479.77 L334.8 479.19 L335.3 478.62 L335.8 478.06 L336.3 477.49 L336.8 476.93 L337.3 476.38 L337.8 475.83 L338.3 475.28 L338.8 474.73 L339.3 474.19 L339.8 473.65 L340.3 473.12 L340.8 472.59 L341.3 472.04 L341.8 471.48 L342.3 470.91 L342.8 470.34 L343.3 469.77 L343.8 469.2 L344.3 468.64 L344.8 468.1 L345.3 467.58 L345.8 467.08 L346.3 466.62 L346.8 466.19 L347.3 465.79 L347.8 465.44 L348.3 465.14 L348.8 464.85 L349.3 464.56 L349.8 464.28 L350.3 464.01 L350.8 463.76 L351.3 463.54 L351.8 463.36 L352.3 463.22 L352.8 463.13 L353.3 463.1 L353.8 463.12 L354.3 463.17 L354.8 463.25 L355.3 463.35 L355.8 463.47 L356.3 463.61 L356.8 463.74 L357.3 463.89 L357.8 464.07 L358.3 464.29 L358.8 464.53 L359.3 464.82 L359.8 465.13 L360.3 465.47 L360.8 465.84 L361.3 466.26 L361.8 466.8 L362.3 467.44 L362.8 468.18 L363.3 469.01 L363.8 469.9 L364.3 470.85 L364.8 471.84 L365.3 472.85 L365.8 473.89 L366.3 474.92 L366.8 475.93 L367.3 476.92 L367.8 477.87 L368.3 478.76 L368.8 479.61 L369.3 480.51 L369.8 481.45 L370.3 482.43 L370.8 483.42 L371.3 484.42 L371.8 485.4 L372.3 486.36 L372.8 487.28 L373.3 488.14 L373.8 488.93 L374.3 489.64 L374.8 490.25 L375.3 490.74 L375.8 491.11 L376.3 491.34 L376.8 491.51 L377.3 491.67 L377.8 491.8 L378.3 491.91 L378.8 491.98 L379.3 492 L379.8 491.98 L380.3 491.93 L380.8 491.84 L381.3 491.73 L381.8 491.61 L382.3 491.47 L382.8 491.33 L383.3 491.19 L383.8 491.06 L384.3 490.94 L384.8 490.83 L385.3 490.75 L385.8 490.67 L386.3 490.59 L386.8 490.5 L387.3 490.42 L387.8 490.34 L388.3 490.25 L388.8 490.17 L389.3 490.09 L389.8 490.02 L390.3 489.95 L390.8 489.88 L391.3 489.82 L391.8 489.77 L392.3 489.72 L392.8 489.68 L393.3 489.64 L393.8 489.62 L394.3 489.61 L394.8 489.6 L395.3 489.63 L395.8 489.73 L396.3 489.87 L396.8 490.07 L397.3 490.3 L397.8 490.56 L398.3 490.85 L398.8 491.15 L399.3 491.46 L399.8 491.78 L400.3 492.09 L400.8 492.38 L401.3 492.66 L401.8 492.91 L402.3 493.13 L402.8 493.36 L403.3 493.58 L403.8 493.82 L404.3 494.05 L404.8 494.29 L405.3 494.52 L405.8 494.76 L406.3 494.99 L406.8 495.23 L407.3 495.46 L407.8 495.69 L408.3 495.91 L408.8 496.13 L409.3 496.35 L409.8 496.55 L410.3 496.75 L410.8 496.94 L411.3 497.12 L411.8 497.29 L412.3 497.45 L412.8 497.6 L413.3 497.73 L413.8 497.85 L414.3 497.96 L414.8 498.06 L415.3 498.15 L415.8 498.24 L416.3 498.32 L416.8 498.41 L417.3 498.49 L417.8 498.57 L418.3 498.65 L418.8 498.72 L419.3 498.79 L419.8 498.86 L420.3 498.92 L420.8 498.98 L421.3 499.03 L421.8 499.09 L422.3 499.13 L422.8 499.17 L423.3 499.21 L423.8 499.24 L424.3 499.27 L424.8 499.29 L425.3 499.31 L425.8 499.33 L426.3 499.34 L426.8 499.36 L427.3 499.37 L427.8 499.39 L428.3 499.4 L428.8 499.42 L429.3 499.43 L429.8 499.44 L430.3 499.46 L430.8 499.47 L431.3 499.48 L431.8 499.49 L432.3 499.5 L432.8 499.51 L433.3 499.52 L433.8 499.53 L434.3 499.54 L434.8 499.55 L435.3 499.56 L435.8 499.56 L436.3 499.57 L436.8 499.57 L437.3 499.58 L437.8 499.58 L438.3 499.59 L438.8 499.59 L439.3 499.59 L439.8 499.6 L440.3 499.6 L440.8 499.6 L441.3 499.6" fill="none" stroke="#9e1f2b" stroke-width="1.15" stroke-linejoin="round" stroke-linecap="round" />
<path d="M276.3 496.6 L300 496.9 L305.3 497.4 L309.5 499.2 L314 500.8" fill="none" stroke="#6a74a8" stroke-width="1.0" stroke-linejoin="round" stroke-linecap="round" />
<path d="M276.3 495.5 L276.8 495.5 L277.3 495.5 L277.8 495.5 L278.3 495.5 L278.8 495.5 L279.3 495.5 L279.8 495.51 L280.3 495.51 L280.8 495.51 L281.3 495.51 L281.8 495.51 L282.3 495.52 L282.8 495.52 L283.3 495.52 L283.8 495.53 L284.3 495.53 L284.8 495.54 L285.3 495.54 L285.8 495.55 L286.3 495.55 L286.8 495.56 L287.3 495.56 L287.8 495.57 L288.3 495.57 L288.8 495.58 L289.3 495.59 L289.8 495.59 L290.3 495.6 L290.8 495.61 L291.3 495.62 L291.8 495.62 L292.3 495.63 L292.8 495.64 L293.3 495.65 L293.8 495.66 L294.3 495.67 L294.8 495.68 L295.3 495.69 L295.8 495.7 L296.3 495.71 L296.8 495.72 L297.3 495.73 L297.8 495.74 L298.3 495.76 L298.8 495.77 L299.3 495.78 L299.8 495.79 L300.3 495.81 L300.8 495.83 L301.3 495.86 L301.8 495.89 L302.3 495.93 L302.8 495.97 L303.3 496.03 L303.8 496.08 L304.3 496.15 L304.8 496.22 L305.3 496.3 L305.8 496.42 L306.3 496.6 L306.8 496.84 L307.3 497.11 L307.8 497.41 L308.3 497.71 L308.8 498.01 L309.3 498.3 L309.8 498.56 L310.3 498.87 L310.8 499.2 L311.3 499.54 L311.8 499.87 L312.3 500.17 L312.8 500.42 L313.3 500.6 L313.8 500.69 L314.3 500.65 L314.8 500.34 L315.3 499.83 L315.8 499.19 L316.3 498.48 L316.8 497.77 L317.3 497.1 L317.8 496.41 L318.3 495.67 L318.8 494.87 L319.3 493.98 L319.8 493 L320.3 491.9 L320.8 490.59 L321.3 489 L321.8 487.18 L322.3 485.18 L322.8 483.04 L323.3 480.82 L323.8 478.55 L324.3 476.3 L324.8 474.1 L325.3 472 L325.8 470 L326.3 468 L326.8 466 L327.3 463.99 L327.8 461.99 L328.3 459.98 L328.8 457.97 L329.3 455.96 L329.8 453.96 L330.3 451.95 L330.8 449.94 L331.3 447.93 L331.8 445.92 L332.3 443.91 L332.8 441.9 L333.3 439.89 L333.8 437.87 L334.3 435.84 L334.8 433.8 L335.3 431.75 L335.8 429.7 L336.3 427.66 L336.8 425.62 L337.3 423.58 L337.8 421.56 L338.3 419.56 L338.8 417.57 L339.3 415.6 L339.8 413.65 L340.3 411.74 L340.8 409.84 L341.3 407.9 L341.8 405.92 L342.3 403.92 L342.8 401.91 L343.3 399.93 L343.8 397.98 L344.3 396.09 L344.8 394.28 L345.3 392.58 L345.8 390.99 L346.3 389.55 L346.8 388.26 L347.3 387.13 L347.8 386.03 L348.3 384.98 L348.8 384 L349.3 383.1 L349.8 382.31 L350.3 381.66 L350.8 381.15 L351.3 380.79 L351.8 380.46 L352.3 380.15 L352.8 379.89 L353.3 379.67 L353.8 379.51 L354.3 379.42 L354.8 379.41 L355.3 379.53 L355.8 379.75 L356.3 380.07 L356.8 380.45 L357.3 380.87 L357.8 381.32 L358.3 381.79 L358.8 382.37 L359.3 383.06 L359.8 383.86 L360.3 384.75 L360.8 385.75 L361.3 386.83 L361.8 388 L362.3 389.26 L362.8 390.78 L363.3 392.62 L363.8 394.73 L364.3 397.07 L364.8 399.62 L365.3 402.32 L365.8 405.14 L366.3 408.04 L366.8 410.99 L367.3 413.94 L367.8 416.85 L368.3 419.69 L368.8 422.49 L369.3 425.51 L369.8 428.69 L370.3 431.99 L370.8 435.31 L371.3 438.6 L371.8 441.77 L372.3 444.77 L372.8 447.51 L373.3 449.93 L373.8 452 L374.3 454 L374.8 455.98 L375.3 457.9 L375.8 459.72 L376.3 461.41 L376.8 462.92 L377.3 464.22 L377.8 465.27 L378.3 466.03 L378.8 466.46 L379.3 466.77 L379.8 467.04 L380.3 467.26 L380.8 467.41 L381.3 467.49 L381.8 467.45 L382.3 467.19 L382.8 466.74 L383.3 466.16 L383.8 465.51 L384.3 464.85 L384.8 464.23 L385.3 463.66 L385.8 463.01 L386.3 462.3 L386.8 461.56 L387.3 460.82 L387.8 460.1 L388.3 459.43 L388.8 458.86 L389.3 458.4 L389.8 458.08 L390.3 457.91 L390.8 457.76 L391.3 457.62 L391.8 457.5 L392.3 457.39 L392.8 457.31 L393.3 457.25 L393.8 457.21 L394.3 457.2 L394.8 457.29 L395.3 457.5 L395.8 457.81 L396.3 458.2 L396.8 458.66 L397.3 459.16 L397.8 459.7 L398.3 460.24 L398.8 460.79 L399.3 461.33 L399.8 461.94 L400.3 462.63 L400.8 463.38 L401.3 464.18 L401.8 465.03 L402.3 465.91 L402.8 466.82 L403.3 467.75 L403.8 468.69 L404.3 469.62 L404.8 470.55 L405.3 471.47 L405.8 472.35 L406.3 473.22 L406.8 474.11 L407.3 475.03 L407.8 475.97 L408.3 476.92 L408.8 477.88 L409.3 478.83 L409.8 479.76 L410.3 480.68 L410.8 481.58 L411.3 482.44 L411.8 483.25 L412.3 484.02 L412.8 484.73 L413.3 485.39 L413.8 486.03 L414.3 486.65 L414.8 487.26 L415.3 487.85 L415.8 488.42 L416.3 488.98 L416.8 489.51 L417.3 490.01 L417.8 490.5 L418.3 490.96 L418.8 491.4 L419.3 491.8 L419.8 492.19 L420.3 492.54 L420.8 492.88 L421.3 493.22 L421.8 493.54 L422.3 493.86 L422.8 494.17 L423.3 494.47 L423.8 494.75 L424.3 495.02 L424.8 495.28 L425.3 495.52 L425.8 495.74 L426.3 495.95 L426.8 496.13 L427.3 496.3 L427.8 496.45 L428.3 496.58 L428.8 496.7 L429.3 496.81 L429.8 496.92 L430.3 497.03 L430.8 497.13 L431.3 497.22 L431.8 497.31 L432.3 497.4 L432.8 497.48 L433.3 497.56 L433.8 497.63 L434.3 497.7 L434.8 497.76 L435.3 497.82 L435.8 497.88 L436.3 497.93 L436.8 497.98 L437.3 498.03 L437.8 498.07 L438.3 498.11 L438.8 498.15 L439.3 498.19 L439.8 498.22 L440.3 498.25 L440.8 498.28 L441.3 498.3" fill="none" stroke="#38447a" stroke-width="1.15" stroke-linejoin="round" stroke-linecap="round" />
<rect x="276.3" y="368.8" width="165" height="132.4" fill="none" stroke="#262626" stroke-width="1.25"/>
<line x1="276.3" y1="501.2" x2="276.3" y2="503.7" stroke="#262626" stroke-width="0.9"/>
<line x1="324.83" y1="501.2" x2="324.83" y2="503.7" stroke="#262626" stroke-width="0.9"/>
<line x1="373.36" y1="501.2" x2="373.36" y2="503.7" stroke="#262626" stroke-width="0.9"/>
<line x1="421.89" y1="501.2" x2="421.89" y2="503.7" stroke="#262626" stroke-width="0.9"/>
<line x1="300.56" y1="501.2" x2="300.56" y2="502.7" stroke="#262626" stroke-width="0.9"/>
<line x1="349.09" y1="501.2" x2="349.09" y2="502.7" stroke="#262626" stroke-width="0.9"/>
<line x1="397.62" y1="501.2" x2="397.62" y2="502.7" stroke="#262626" stroke-width="0.9"/>
<text transform="translate(276.3 515) scale(0.9 1)" font-size="10.0" text-anchor="middle" font-weight="normal" fill="#1a1a1a" >800</text>
<text transform="translate(324.83 515) scale(0.9 1)" font-size="10.0" text-anchor="middle" font-weight="normal" fill="#1a1a1a" >850</text>
<text transform="translate(373.36 515) scale(0.9 1)" font-size="10.0" text-anchor="middle" font-weight="normal" fill="#1a1a1a" >900</text>
<text transform="translate(421.89 515) scale(0.9 1)" font-size="10.0" text-anchor="middle" font-weight="normal" fill="#1a1a1a" >950</text>
<line x1="276.3" y1="501.2" x2="273.8" y2="501.2" stroke="#262626" stroke-width="0.9"/>
<line x1="276.3" y1="471.86" x2="273.8" y2="471.86" stroke="#262626" stroke-width="0.9"/>
<line x1="276.3" y1="442.52" x2="273.8" y2="442.52" stroke="#262626" stroke-width="0.9"/>
<line x1="276.3" y1="413.18" x2="273.8" y2="413.18" stroke="#262626" stroke-width="0.9"/>
<line x1="276.3" y1="383.84" x2="273.8" y2="383.84" stroke="#262626" stroke-width="0.9"/>
<line x1="276.3" y1="486.53" x2="274.8" y2="486.53" stroke="#262626" stroke-width="0.9"/>
<line x1="276.3" y1="457.19" x2="274.8" y2="457.19" stroke="#262626" stroke-width="0.9"/>
<line x1="276.3" y1="427.85" x2="274.8" y2="427.85" stroke="#262626" stroke-width="0.9"/>
<line x1="276.3" y1="398.51" x2="274.8" y2="398.51" stroke="#262626" stroke-width="0.9"/>
<text transform="translate(271.8 504.5) scale(0.9 1)" font-size="10.0" text-anchor="end" font-weight="normal" fill="#1a1a1a" >0</text>
<text transform="translate(271.8 475.16) scale(0.9 1)" font-size="10.0" text-anchor="end" font-weight="normal" fill="#1a1a1a" >4000</text>
<text transform="translate(271.8 445.82) scale(0.9 1)" font-size="10.0" text-anchor="end" font-weight="normal" fill="#1a1a1a" >8000</text>
<text transform="translate(271.8 416.48) scale(0.9 1)" font-size="10.0" text-anchor="end" font-weight="normal" fill="#1a1a1a" >12000</text>
<text transform="translate(271.8 387.14) scale(0.9 1)" font-size="10.0" text-anchor="end" font-weight="normal" fill="#1a1a1a" >16000</text>
<text transform="translate(358.8 529) scale(0.935 1)" font-size="9.9" text-anchor="middle" font-weight="normal" fill="#1a1a1a" >Wavelength (nm)</text>
<text transform="translate(242 429.8) rotate(-90) scale(0.935 1)" font-size="9.9" text-anchor="middle" font-weight="normal" fill="#1a1a1a" >PL Intensity (a.u.)</text>
<text transform="translate(277.7 379) scale(0.935 1)" font-size="9.9" text-anchor="start" font-weight="normal" fill="#1a1a1a" >Excitation:2100 nm</text>
<line x1="378.5" y1="378.3" x2="399" y2="378.3" stroke="#8a2c89" stroke-width="1.3"/>
<text transform="translate(402.7 381.5) scale(0.935 1)" font-size="9.9" text-anchor="start" font-weight="normal" fill="#1a1a1a" >50 mW</text>
<line x1="378.5" y1="389.6" x2="399" y2="389.6" stroke="#9e1f2b" stroke-width="1.3"/>
<text transform="translate(402.7 392.8) scale(0.935 1)" font-size="9.9" text-anchor="start" font-weight="normal" fill="#1a1a1a" >150 mW</text>
<line x1="378.5" y1="400.8" x2="399" y2="400.8" stroke="#38447a" stroke-width="1.3"/>
<text transform="translate(402.7 404) scale(0.935 1)" font-size="9.9" text-anchor="start" font-weight="normal" fill="#1a1a1a" >200 mW</text>
<text transform="translate(229.3 380.9) scale(0.9 1)" font-size="18.7" text-anchor="start" font-weight="bold" fill="#000" >g</text>
<clipPath id="hclip"><rect x="519.4" y="371" width="164.6" height="131.8"/></clipPath>
<g clip-path="url(#hclip)">
<path d="M518.91 478 L519.56 478 L520.21 478 L520.86 478 L521.51 478 L521.51 478 L521.65 474.85 L521.8 471.94 L521.94 469.24 L522.09 466.75 L522.23 464.44 L522.38 462.3 L522.53 459.69 L522.67 456.93 L522.82 457.82 L522.96 456.18 L523.11 454.44 L523.25 453.37 L523.4 450.26 L523.55 449.69 L523.69 447.48 L523.84 446.4 L523.98 447.59 L524.13 445.18 L524.27 446.98 L524.42 444.19 L524.56 442.79 L524.71 443.37 L524.86 443.6 L525 441.78 L525.15 439.65 L525.29 440.51 L525.44 440.88 L525.58 438.69 L525.73 437.96 L525.88 439.12 L526.02 437.89 L526.17 436.36 L526.31 436.62 L526.46 435.91 L526.6 436.5 L526.75 435.99 L526.9 436.6 L527.04 435.89 L527.19 433.54 L527.33 435.03 L527.48 435.19 L527.62 434.53 L527.77 434.79 L527.91 433.12 L528.06 432.53 L528.21 433.99 L528.35 431.97 L528.5 430.78 L528.64 433.44 L528.79 431.66 L528.93 431.85 L529.08 430.68 L529.23 430.56 L529.37 430.54 L529.52 431.09 L529.66 431.58 L529.81 429.02 L529.95 431.61 L530.1 429.72 L530.25 429.68 L530.39 431.11 L530.54 430.29 L530.68 428.84 L530.83 431.76 L530.97 429.19 L531.12 430.07 L531.26 429.9 L531.41 430.88 L531.56 429.08 L531.7 430.29 L531.85 428.6 L531.99 430.18 L532.14 428.38 L532.28 428.64 L532.43 430.57 L532.58 429.05 L532.72 428.77 L532.87 430.6 L533.01 428.82 L533.16 427.67 L533.3 428.98 L533.45 427.18 L533.6 429.17 L533.74 429.17 L533.89 427.49 L534.03 427.36 L534.18 428.01 L534.32 427.8 L534.47 426.83 L534.61 428.16 L534.76 425.74 L534.91 427.12 L535.05 427.08 L535.2 427.14 L535.34 427.6 L535.49 426.16 L535.63 427.74 L535.78 426.99 L535.93 426.51 L536.07 425.81 L536.22 425.92 L536.36 427.26 L536.51 426.02 L536.65 426.89 L536.8 427.74 L536.95 427.67 L537.09 428.1 L537.24 426.38 L537.38 425.63 L537.87 441 L537.87 441.73 L538.02 441.91 L538.16 443.17 L538.31 443.04 L538.46 444.55 L538.6 444.95 L538.75 445.49 L538.9 445.97 L539.05 446.51 L539.19 447 L539.34 447.6 L539.49 448.74 L539.63 448.24 L539.78 450.43 L539.93 449.67 L540.08 451.01 L540.22 450.79 L540.37 451.21 L540.52 453.39 L540.66 452.22 L540.81 452.04 L540.96 452.96 L541.11 453.74 L541.25 456.02 L541.4 455.1 L541.55 456.1 L541.69 455.18 L541.84 456.62 L541.99 457.3 L542.13 458.57 L542.28 457.21 L542.43 458.59 L542.58 458.8 L542.72 458.27 L542.87 459.41 L543.02 459.65 L543.16 458.57 L543.31 461.07 L543.46 461.42 L543.61 461.1 L543.75 460.84 L543.9 463.24 L544.05 462.74 L544.19 463.64 L544.34 464.28 L544.49 463.25 L544.64 464.55 L544.78 464.14 L544.93 464.61 L545.08 464.92 L545.22 465.31 L545.37 466.44 L545.52 466.04 L545.67 466.15 L545.81 466.37 L545.96 467.12 L546.11 466.53 L546.25 467.11 L546.4 467.72 L546.55 467.64 L546.7 468.24 L546.84 468.17 L546.99 470.32 L547.14 470.11 L547.28 469.74 L547.43 469.64 L547.58 471.51 L547.73 470.42 L547.87 470.37 L548.02 470.9 L548.17 471.14 L548.31 472.18 L548.46 471.38 L548.61 473.14 L548.76 471.22 L548.9 472.58 L549.05 471.58 L549.2 473.83 L549.34 472.5 L549.49 472.9 L549.64 473.82 L549.79 474.26 L549.93 472.76 L550.08 473.51 L550.23 472.95 L550.37 474.25 L550.52 474.26 L550.67 474.27 L550.82 474.22 L550.96 474.61 L551.11 474.53 L551.26 475.63 L551.4 476.51 L551.55 474.2 L551.7 475.67 L551.85 475.62 L551.99 476.44 L552.14 475.56 L552.29 476.3 L552.43 475.81 L552.58 477.22 L552.73 476.94 L552.88 476.9 L553.02 477.43 L553.17 477.13 L553.32 476.33 L553.46 478.02 L553.61 477.94 L553.76 477.75 L553.91 478.71 L553.91 478 L554.05 474.68 L554.2 471.6 L554.34 468.76 L554.49 466.14 L554.63 463.7 L554.78 461.45 L554.93 460.45 L555.07 456.43 L555.22 454.91 L555.36 455.33 L555.51 453.66 L555.65 450.26 L555.8 448.51 L555.95 447.74 L556.09 446.68 L556.24 444.6 L556.38 445.03 L556.53 442.88 L556.67 442.04 L556.82 443.1 L556.96 440.86 L557.11 440.66 L557.26 440.58 L557.4 440.08 L557.55 438.41 L557.69 438.16 L557.84 436.81 L557.98 438.59 L558.13 437.1 L558.28 435.04 L558.42 435.58 L558.57 435.78 L558.71 435.16 L558.86 435.98 L559 435.19 L559.15 433.11 L559.3 433.17 L559.44 431.77 L559.59 432.83 L559.73 432.44 L559.88 434.44 L560.02 431.82 L560.17 429.58 L560.31 430.6 L560.46 431.05 L560.61 429.58 L560.75 429.7 L560.9 429.92 L561.04 430.34 L561.19 429.68 L561.33 428.82 L561.48 430.14 L561.63 428.75 L561.77 428.61 L561.92 427.63 L562.06 428 L562.21 429.12 L562.35 426.92 L562.5 428.15 L562.65 428.71 L562.79 427.57 L562.94 427.98 L563.08 426.62 L563.23 428.66 L563.37 428.34 L563.52 427.43 L563.66 425.51 L563.81 426.03 L563.96 427.73 L564.1 428.27 L564.25 426.88 L564.39 427.63 L564.54 425.85 L564.68 426.12 L564.83 426.19 L564.98 426.47 L565.12 424.61 L565.27 426.74 L565.41 426.99 L565.56 424.67 L565.7 424.4 L565.85 425.85 L566 424.86 L566.14 423.23 L566.29 426.01 L566.43 425.34 L566.58 424.69 L566.72 426.95 L566.87 425.1 L567.01 424.22 L567.16 424.92 L567.31 423.83 L567.45 424.01 L567.6 424.98 L567.74 424.06 L567.89 424.09 L568.03 425.94 L568.18 425.15 L568.33 425.04 L568.47 424.74 L568.62 424.64 L568.76 425.46 L568.91 424.08 L569.05 425.72 L569.2 423.14 L569.35 423.72 L569.49 422.66 L569.64 423.54 L569.78 424.27 L570.27 441 L570.27 442.04 L570.42 441.21 L570.56 442.37 L570.71 442.77 L570.86 443.16 L571 443.48 L571.15 445.02 L571.3 444.36 L571.45 446.3 L571.59 446.85 L571.74 446.96 L571.89 447.3 L572.03 447.61 L572.18 450.53 L572.33 448.78 L572.48 451.42 L572.62 451.28 L572.77 451.13 L572.92 451.09 L573.06 453.2 L573.21 454.21 L573.36 452.8 L573.51 453.76 L573.65 455.22 L573.8 455.19 L573.95 456.87 L574.09 455.49 L574.24 456.75 L574.39 455.92 L574.53 458.78 L574.68 457.19 L574.83 456.56 L574.98 458.49 L575.12 458.91 L575.27 460.8 L575.42 459.59 L575.56 460.23 L575.71 461.07 L575.86 462.17 L576.01 461.37 L576.15 462.55 L576.3 462.55 L576.45 462.33 L576.59 462.97 L576.74 463.29 L576.89 462.96 L577.04 464.84 L577.18 463.32 L577.33 465.49 L577.48 465.67 L577.62 465.24 L577.77 465.08 L577.92 465.79 L578.07 466.61 L578.21 467.11 L578.36 467.08 L578.51 467.89 L578.65 467.07 L578.8 467.93 L578.95 466.92 L579.1 468.88 L579.24 468.72 L579.39 468.58 L579.54 469.99 L579.68 469.91 L579.83 467.65 L579.98 469.96 L580.13 469.14 L580.27 471.2 L580.42 472.47 L580.57 470.55 L580.71 471.22 L580.86 471.22 L581.01 471.88 L581.16 472.32 L581.3 473.01 L581.45 471.59 L581.6 473.65 L581.74 472.06 L581.89 473.14 L582.04 473.99 L582.19 473.87 L582.33 472.88 L582.48 473.25 L582.63 473.62 L582.77 474.11 L582.92 475.16 L583.07 473.59 L583.22 475.04 L583.36 475.33 L583.51 475.47 L583.66 475.58 L583.8 476.51 L583.95 475.94 L584.1 476.38 L584.25 476.33 L584.39 477.38 L584.54 474.88 L584.69 477.33 L584.83 476.37 L584.98 476.51 L585.13 476.17 L585.28 475.67 L585.42 476.89 L585.57 476.81 L585.72 477.81 L585.86 476.53 L586.01 478.76 L586.16 478.06 L586.31 477.82 L586.31 478 L586.45 474.68 L586.6 471.6 L586.74 468.76 L586.89 466.14 L587.03 463.7 L587.18 461.45 L587.33 458.72 L587.47 456.71 L587.62 454.6 L587.76 453.45 L587.91 452.38 L588.05 450.77 L588.2 448.3 L588.35 448.07 L588.49 446.33 L588.64 446.17 L588.78 446.68 L588.93 444.59 L589.07 442.84 L589.22 440.81 L589.36 440.2 L589.51 439.2 L589.66 440.67 L589.8 438.66 L589.95 438.77 L590.09 437.56 L590.24 437.64 L590.38 438.28 L590.53 435.9 L590.68 435.73 L590.82 434.85 L590.97 435.93 L591.11 433.8 L591.26 433.31 L591.4 432.71 L591.55 432.33 L591.7 433.67 L591.84 435.23 L591.99 431.71 L592.13 433.16 L592.28 432.23 L592.42 430.74 L592.57 431.21 L592.71 430.99 L592.86 430.33 L593.01 432.45 L593.15 428.76 L593.3 430.6 L593.44 430.34 L593.59 429.31 L593.73 429.76 L593.88 430.22 L594.03 429.38 L594.17 429.43 L594.32 429.5 L594.46 426.87 L594.61 429.87 L594.75 430.42 L594.9 429.1 L595.05 428.97 L595.19 426.64 L595.34 427.66 L595.48 426.89 L595.63 426.96 L595.77 428.22 L595.92 426.5 L596.06 426.98 L596.21 425.25 L596.36 426.71 L596.5 426.81 L596.65 425.98 L596.79 425.86 L596.94 428.1 L597.08 425.2 L597.23 425.24 L597.38 425.36 L597.52 427.07 L597.67 427.78 L597.81 426.1 L597.96 425.06 L598.1 425.23 L598.25 426.49 L598.4 424.62 L598.54 426.67 L598.69 426.55 L598.83 425.26 L598.98 425.7 L599.12 425.72 L599.27 426.37 L599.41 423.95 L599.56 425.89 L599.71 424.42 L599.85 424 L600 424.72 L600.14 424.37 L600.29 423.61 L600.43 423 L600.58 423.53 L600.73 425.63 L600.87 426.03 L601.02 424.79 L601.16 425.22 L601.31 423.63 L601.45 423.98 L601.6 424.25 L601.75 422.97 L601.89 423.01 L602.04 423.94 L602.18 423.51 L602.67 441 L602.67 440.23 L602.82 441.97 L602.96 442.18 L603.11 443.77 L603.26 443.69 L603.4 444.12 L603.55 445.07 L603.7 445.48 L603.85 445.74 L603.99 446.54 L604.14 447.97 L604.29 448.49 L604.43 449.53 L604.58 447.96 L604.73 449.46 L604.88 450 L605.02 450.97 L605.17 451.07 L605.32 451.55 L605.46 453.01 L605.61 453.09 L605.76 452.63 L605.91 454.93 L606.05 455.18 L606.2 454.54 L606.35 456.03 L606.49 455.37 L606.64 457.17 L606.79 456.66 L606.93 456.69 L607.08 457.45 L607.23 457.6 L607.38 458.72 L607.52 459.13 L607.67 459.45 L607.82 459.43 L607.96 457.6 L608.11 460.71 L608.26 459.67 L608.41 461.59 L608.55 462.61 L608.7 462.37 L608.85 462.27 L608.99 462.78 L609.14 463.17 L609.29 463.23 L609.44 463.55 L609.58 463.65 L609.73 465.51 L609.88 464.97 L610.02 466 L610.17 465.45 L610.32 466 L610.47 466.14 L610.61 466.91 L610.76 467.47 L610.91 467.35 L611.05 466.99 L611.2 467.2 L611.35 469.24 L611.5 468.13 L611.64 468.4 L611.79 469.93 L611.94 469.93 L612.08 469.8 L612.23 469.39 L612.38 471.63 L612.53 470.47 L612.67 470.83 L612.82 470.56 L612.97 469.9 L613.11 470.2 L613.26 471.69 L613.41 471.91 L613.56 471.68 L613.7 471.24 L613.85 471.26 L614 472.28 L614.14 471.69 L614.29 473.59 L614.44 473.98 L614.59 475.39 L614.73 474.19 L614.88 473.33 L615.03 473.33 L615.17 471.66 L615.32 473.91 L615.47 474.4 L615.62 475.41 L615.76 475.33 L615.91 475.49 L616.06 475.4 L616.2 475.89 L616.35 476.63 L616.5 474.99 L616.65 475.59 L616.79 475.09 L616.94 477.41 L617.09 477.34 L617.23 477.1 L617.38 475.85 L617.53 476.99 L617.68 476.85 L617.82 477.22 L617.97 477.17 L618.12 477.83 L618.26 477.31 L618.41 478.34 L618.56 478.04 L618.71 477.79 L618.71 478 L618.85 474.58 L619 471.42 L619.14 468.49 L619.29 465.79 L619.43 463.28 L619.58 460.96 L619.73 458.71 L619.87 456.41 L620.02 455.68 L620.16 452.98 L620.31 451.89 L620.45 449.77 L620.6 447.4 L620.75 448.25 L620.89 445.27 L621.04 445.7 L621.18 444.4 L621.33 441.54 L621.47 441.25 L621.62 440.76 L621.76 439.66 L621.91 438.56 L622.06 439.56 L622.2 437.99 L622.35 437.9 L622.49 436.55 L622.64 436.64 L622.78 435.14 L622.93 435.27 L623.08 435.32 L623.22 434.36 L623.37 433.46 L623.51 432.47 L623.66 433.19 L623.8 432.96 L623.95 432.05 L624.1 431.24 L624.24 432.08 L624.39 433.5 L624.53 430.68 L624.68 430.95 L624.82 430.7 L624.97 427.78 L625.11 429.93 L625.26 428.93 L625.41 430.56 L625.55 428.85 L625.7 428.14 L625.84 428.42 L625.99 428.56 L626.13 427.69 L626.28 427.95 L626.43 426.58 L626.57 427.41 L626.72 428.12 L626.86 429.02 L627.01 427.71 L627.15 427.15 L627.3 427.81 L627.45 427.5 L627.59 427.93 L627.74 427.26 L627.88 426.03 L628.03 426.23 L628.17 426.02 L628.32 425.99 L628.46 425.77 L628.61 424.76 L628.76 423.45 L628.9 424.61 L629.05 423.28 L629.19 425.05 L629.34 424.88 L629.48 423.26 L629.63 425.28 L629.78 425.33 L629.92 424.54 L630.07 425.85 L630.21 425.94 L630.36 423.08 L630.5 425 L630.65 424.38 L630.8 424.27 L630.94 424.65 L631.09 423.08 L631.23 423.11 L631.38 422.82 L631.52 422.8 L631.67 423.32 L631.81 422.03 L631.96 422.32 L632.11 423.71 L632.25 423.06 L632.4 423.4 L632.54 421.29 L632.69 422.22 L632.83 422.36 L632.98 422.83 L633.13 422.21 L633.27 423.52 L633.42 422.57 L633.56 422.58 L633.71 422.52 L633.85 423.09 L634 421.98 L634.15 423.36 L634.29 422.71 L634.44 422.39 L634.58 422.24 L635.07 441 L635.07 441.37 L635.22 442.42 L635.36 443.05 L635.51 443.3 L635.66 444.32 L635.8 444.42 L635.95 445.88 L636.1 445.59 L636.25 444.73 L636.39 447.8 L636.54 447.51 L636.69 447.18 L636.83 448.46 L636.98 448.54 L637.13 451.26 L637.28 450.66 L637.42 449.72 L637.57 451.78 L637.72 451.64 L637.86 453.83 L638.01 452.2 L638.16 451.85 L638.31 454.02 L638.45 454.21 L638.6 454.65 L638.75 453.89 L638.89 456.21 L639.04 457.57 L639.19 455.45 L639.33 458.11 L639.48 457.31 L639.63 459.84 L639.78 458.9 L639.92 458.87 L640.07 460.22 L640.22 460.21 L640.36 459.81 L640.51 461.15 L640.66 460.66 L640.81 460.13 L640.95 463.26 L641.1 461.92 L641.25 462.11 L641.39 463.15 L641.54 462.15 L641.69 462.65 L641.84 463.61 L641.98 463.94 L642.13 464.7 L642.28 465.79 L642.42 464.97 L642.57 465.99 L642.72 466.39 L642.87 465.48 L643.01 466.74 L643.16 466.2 L643.31 467.94 L643.45 467.8 L643.6 467.77 L643.75 467.08 L643.9 468.41 L644.04 468.05 L644.19 469.39 L644.34 469.06 L644.48 468.83 L644.63 470.34 L644.78 470.45 L644.93 469.76 L645.07 471.27 L645.22 470.47 L645.37 470.7 L645.51 471.25 L645.66 470.85 L645.81 471.31 L645.96 471.74 L646.1 473.18 L646.25 473.38 L646.4 472.33 L646.54 473.89 L646.69 472.91 L646.84 473.43 L646.99 473.99 L647.13 473.77 L647.28 475.5 L647.43 474.13 L647.57 473.28 L647.72 475.28 L647.87 474.23 L648.02 474.49 L648.16 472.74 L648.31 475.79 L648.46 475.83 L648.6 475.99 L648.75 476.29 L648.9 476.98 L649.05 475.89 L649.19 476.76 L649.34 475.71 L649.49 476.15 L649.63 477.32 L649.78 477 L649.93 475.91 L650.08 477.28 L650.22 477.03 L650.37 476.72 L650.52 477.76 L650.66 477.3 L650.81 476.6 L650.96 477.07 L651.11 479.27 L651.11 478 L651.25 474.41 L651.4 471.1 L651.54 468.03 L651.69 465.2 L651.83 462.57 L651.98 460.13 L652.13 456.51 L652.27 455.98 L652.42 454.39 L652.56 452.6 L652.71 449.24 L652.85 448.49 L653 447.44 L653.15 446.68 L653.29 444.1 L653.44 442.45 L653.58 443.28 L653.73 442.33 L653.87 440.69 L654.02 438.89 L654.16 438.94 L654.31 437.86 L654.46 437.75 L654.6 435.16 L654.75 435.7 L654.89 434.81 L655.04 433.35 L655.18 433.96 L655.33 433.25 L655.48 432.33 L655.62 432.57 L655.77 430.46 L655.91 431.25 L656.06 431.26 L656.2 430.72 L656.35 431.04 L656.5 428.62 L656.64 427.99 L656.79 429.22 L656.93 429.08 L657.08 430.27 L657.22 428.61 L657.37 426.98 L657.51 428.21 L657.66 426.46 L657.81 425.62 L657.95 429.06 L658.1 426.76 L658.24 426.88 L658.39 426.51 L658.53 427.42 L658.68 425.83 L658.83 426.47 L658.97 424.25 L659.12 423.73 L659.26 426.08 L659.41 425.94 L659.55 424.89 L659.7 424.47 L659.85 424.25 L659.99 423.32 L660.14 425.16 L660.28 424.22 L660.43 423.93 L660.57 423.67 L660.72 424.14 L660.86 423.51 L661.01 423.59 L661.16 421.74 L661.3 423.12 L661.45 424.51 L661.59 421.95 L661.74 422.19 L661.88 422.99 L662.03 422.94 L662.18 422.53 L662.32 420.41 L662.47 422.21 L662.61 420.59 L662.76 420.82 L662.9 421.95 L663.05 421.1 L663.2 422 L663.34 424.02 L663.49 421.8 L663.63 421.66 L663.78 420.12 L663.92 420.27 L664.07 419.81 L664.21 420.21 L664.36 419.63 L664.51 419.94 L664.65 420.28 L664.8 419.49 L664.94 419.05 L665.09 419.03 L665.23 420.6 L665.38 420.18 L665.53 420.99 L665.67 420.94 L665.82 419.63 L665.96 420.48 L666.11 418.53 L666.25 421.82 L666.4 420.79 L666.55 419.46 L666.69 418.56 L666.84 419.89 L666.98 417.82 L667.47 441 L667.47 440.44 L667.62 442.23 L667.76 442.42 L667.91 442.68 L668.06 444.38 L668.2 443.59 L668.35 445.18 L668.5 445.25 L668.65 445.61 L668.79 447.17 L668.94 446.72 L669.09 449.39 L669.23 448.19 L669.38 450.61 L669.53 448.96 L669.68 450.74 L669.82 449.99 L669.97 450.42 L670.12 452.04 L670.26 452.93 L670.41 452.04 L670.56 454.32 L670.71 453.4 L670.85 454.56 L671 455.22 L671.15 455.86 L671.29 454.61 L671.44 457.53 L671.59 457.23 L671.73 456.97 L671.88 456.98 L672.03 456.93 L672.18 457.6 L672.32 459.4 L672.47 459.18 L672.62 459.02 L672.76 459.86 L672.91 461.77 L673.06 460.79 L673.21 461 L673.35 462.77 L673.5 462.51 L673.65 462.58 L673.79 462.47 L673.94 462.15 L674.09 462.78 L674.24 463.62 L674.38 464.16 L674.53 464.91 L674.68 465.38 L674.82 465.47 L674.97 465.79 L675.12 465.23 L675.27 464.71 L675.41 466.2 L675.56 466.19 L675.71 466.71 L675.85 467.27 L676 466.87 L676.15 467.25 L676.3 468.26 L676.44 468.69 L676.59 468.41 L676.74 469.51 L676.88 469.26 L677.03 468.94 L677.18 469.96 L677.33 471.54 L677.47 469.95 L677.62 471.52 L677.77 471.92 L677.91 472.24 L678.06 470.8 L678.21 473.08 L678.36 471.94 L678.5 471.9 L678.65 472.14 L678.8 472.95 L678.94 472.77 L679.09 472.82 L679.24 474.08 L679.39 472.84 L679.53 472.81 L679.68 474.33 L679.83 474.46 L679.97 474.93 L680.12 473.57 L680.27 475.3 L680.42 475.06 L680.56 476.16 L680.71 474.17 L680.86 475.4 L681 475.22 L681.15 474.45 L681.3 475.24 L681.45 476.74 L681.59 475.75 L681.74 475.73 L681.89 477.03 L682.03 477.27 L682.18 477.43 L682.33 476.3 L682.48 476.98 L682.62 477.91 L682.77 476.84 L682.92 476.91 L683.06 478.19 L683.21 478.85 L683.36 477.04 L683.51 476.13" fill="none" stroke="#9e1f2b" stroke-width="1.15" stroke-linejoin="round" stroke-linecap="round" />
<path d="M518.91 467 L519.56 469.75 L520.21 472.5 L520.86 475.25 L521.51 478 L521.51 478 L521.65 471.94 L521.8 466.52 L521.94 461.67 L522.09 457.33 L522.23 453.43 L522.38 449.93 L522.53 445.68 L522.67 443.15 L522.82 441.23 L522.96 439.46 L523.11 436.76 L523.25 434.4 L523.4 433.27 L523.55 430.82 L523.69 430.01 L523.84 428.2 L523.98 429.42 L524.13 426.85 L524.27 424.52 L524.42 423.39 L524.56 422.86 L524.71 421.07 L524.86 420.92 L525 420.13 L525.15 420.61 L525.29 418.93 L525.44 417.99 L525.58 416.95 L525.73 416.47 L525.88 416.73 L526.02 416.07 L526.17 416.56 L526.31 414.73 L526.46 415.51 L526.6 414.44 L526.75 413.8 L526.9 411.86 L527.04 411.98 L527.19 413.1 L527.33 413.2 L527.48 411.92 L527.62 411.97 L527.77 410.74 L527.91 410.42 L528.06 409.86 L528.21 410.76 L528.35 409.97 L528.5 409.22 L528.64 408.85 L528.79 409.22 L528.93 408.75 L529.08 407.61 L529.23 409.24 L529.37 407.88 L529.52 407.44 L529.66 408.28 L529.81 407.7 L529.95 406.62 L530.1 406.85 L530.25 405.42 L530.39 405.51 L530.54 404.08 L530.68 406.47 L530.83 403.92 L530.97 405.65 L531.12 404.32 L531.26 404.01 L531.41 404.41 L531.56 404.57 L531.7 404.64 L531.85 405.34 L531.99 404.1 L532.14 404.32 L532.28 403.04 L532.43 403.87 L532.58 403.29 L532.72 402.67 L532.87 402.79 L533.01 402.67 L533.16 402.71 L533.3 402.73 L533.45 401.9 L533.6 401.59 L533.74 402.58 L533.89 400.61 L534.03 401.3 L534.18 402.8 L534.32 399.48 L534.47 400.87 L534.61 401.79 L534.76 399.93 L534.91 403 L535.05 399 L535.2 401.92 L535.34 401.9 L535.49 401.32 L535.63 400.37 L535.78 400.7 L535.93 399.67 L536.07 400.86 L536.22 399.32 L536.36 399.86 L536.51 400.73 L536.65 399.06 L536.8 399.54 L536.95 399.86 L537.09 398.65 L537.24 400.45 L537.38 399.76 L537.87 440 L537.87 439.09 L538.02 440.68 L538.16 440.94 L538.31 441.69 L538.46 442.81 L538.6 443 L538.75 444.66 L538.9 444.31 L539.05 445.95 L539.19 445.96 L539.34 447.12 L539.49 446.89 L539.63 447.51 L539.78 447.71 L539.93 449.33 L540.08 450.12 L540.22 451.39 L540.37 451.45 L540.52 451.37 L540.66 451.63 L540.81 452.52 L540.96 452.79 L541.11 454.2 L541.25 454.39 L541.4 453.83 L541.55 454.41 L541.69 456.12 L541.84 455.96 L541.99 456.11 L542.13 457.42 L542.28 456.93 L542.43 457.45 L542.58 457.78 L542.72 457.32 L542.87 459.44 L543.02 458.62 L543.16 459.42 L543.31 459.72 L543.46 461.01 L543.61 460.93 L543.75 461.37 L543.9 460.74 L544.05 462.08 L544.19 461.62 L544.34 463.05 L544.49 463.45 L544.64 463.58 L544.78 465.17 L544.93 464.61 L545.08 464.99 L545.22 465.05 L545.37 465.18 L545.52 466.21 L545.67 466.61 L545.81 465.48 L545.96 467.21 L546.11 467.19 L546.25 467.76 L546.4 467.76 L546.55 467.03 L546.7 467.36 L546.84 469.45 L546.99 468.78 L547.14 468.06 L547.28 469.39 L547.43 469.23 L547.58 468.61 L547.73 468.6 L547.87 469.27 L548.02 470.65 L548.17 470.7 L548.31 470.83 L548.46 471.39 L548.61 471.82 L548.76 470.43 L548.9 471.74 L549.05 471.65 L549.2 471.63 L549.34 472.26 L549.49 472.73 L549.64 472.86 L549.79 472.36 L549.93 473.15 L550.08 474.85 L550.23 473.21 L550.37 473.03 L550.52 474.4 L550.67 474.79 L550.82 474.9 L550.96 474.13 L551.11 475.59 L551.26 474.7 L551.4 474.67 L551.55 475.16 L551.7 475.63 L551.85 476.3 L551.99 476.41 L552.14 476.19 L552.29 476.92 L552.43 476.57 L552.58 477.22 L552.73 475.99 L552.88 476.05 L553.02 477.61 L553.17 476.46 L553.32 477.26 L553.46 477.52 L553.61 477.43 L553.76 477.59 L553.91 478.84 L553.91 478 L554.05 471.9 L554.2 466.45 L554.34 461.57 L554.49 457.2 L554.63 453.27 L554.78 449.75 L554.93 444.67 L555.07 444.36 L555.22 442.82 L555.36 438.76 L555.51 436.59 L555.65 435.2 L555.8 434.24 L555.95 430.35 L556.09 429.81 L556.24 428.22 L556.38 427.51 L556.53 426.03 L556.67 425.31 L556.82 423.48 L556.96 422.88 L557.11 421.44 L557.26 420.61 L557.4 420.21 L557.55 419.47 L557.69 417.99 L557.84 419.38 L557.98 417.47 L558.13 415.93 L558.28 417.21 L558.42 415.27 L558.57 415.69 L558.71 414.79 L558.86 414.5 L559 413.97 L559.15 412.96 L559.3 412.99 L559.44 414.06 L559.59 410.45 L559.73 411.78 L559.88 411.67 L560.02 410.19 L560.17 409.59 L560.31 411.89 L560.46 409.65 L560.61 411.16 L560.75 409.68 L560.9 409.02 L561.04 409.01 L561.19 408.84 L561.33 408.95 L561.48 408.11 L561.63 407.62 L561.77 407.38 L561.92 408 L562.06 407.34 L562.21 405.72 L562.35 405.76 L562.5 406.24 L562.65 405.3 L562.79 405.25 L562.94 404.6 L563.08 404.9 L563.23 405.2 L563.37 405.43 L563.52 404.48 L563.66 405.84 L563.81 404.03 L563.96 406.29 L564.1 404.47 L564.25 403.91 L564.39 402.98 L564.54 401.07 L564.68 402.9 L564.83 402.99 L564.98 404.14 L565.12 401.5 L565.27 403.81 L565.41 402.05 L565.56 402.63 L565.7 400.04 L565.85 401.91 L566 401.41 L566.14 402.04 L566.29 401.47 L566.43 400.42 L566.58 401.86 L566.72 401.55 L566.87 401.35 L567.01 401.55 L567.16 401.5 L567.31 400.55 L567.45 399.44 L567.6 399.31 L567.74 401.25 L567.89 400.67 L568.03 400.12 L568.18 399.62 L568.33 399.87 L568.47 399.77 L568.62 399.41 L568.76 399.05 L568.91 401.11 L569.05 399.57 L569.2 398.86 L569.35 398.26 L569.49 398.61 L569.64 399.62 L569.78 399.57 L570.27 440 L570.27 439.87 L570.42 440.74 L570.56 441.22 L570.71 441.42 L570.86 443.54 L571 443.65 L571.15 445.57 L571.3 444.28 L571.45 445.28 L571.59 446.52 L571.74 446.46 L571.89 446.38 L572.03 447.24 L572.18 448.46 L572.33 449.19 L572.48 449.5 L572.62 450.72 L572.77 451.27 L572.92 451.41 L573.06 451.77 L573.21 452.13 L573.36 453.14 L573.51 453.87 L573.65 453.86 L573.8 454.6 L573.95 454.62 L574.09 454.46 L574.24 455.18 L574.39 456.71 L574.53 456.98 L574.68 458.12 L574.83 457.65 L574.98 458.58 L575.12 459.29 L575.27 459.52 L575.42 458.98 L575.56 459.65 L575.71 460.25 L575.86 459.98 L576.01 461.26 L576.15 461.98 L576.3 461.46 L576.45 463.31 L576.59 462.33 L576.74 462.75 L576.89 463.09 L577.04 463.17 L577.18 464.19 L577.33 464.3 L577.48 465.63 L577.62 465.33 L577.77 465.62 L577.92 465.49 L578.07 465.1 L578.21 466.21 L578.36 466.07 L578.51 467.46 L578.65 467.17 L578.8 468.48 L578.95 468.22 L579.1 468.57 L579.24 468.49 L579.39 468.76 L579.54 469.3 L579.68 469.74 L579.83 469.02 L579.98 470.01 L580.13 471.55 L580.27 470.18 L580.42 470.33 L580.57 470.32 L580.71 470.11 L580.86 471.93 L581.01 471.49 L581.16 471.87 L581.3 473.03 L581.45 473.65 L581.6 471.84 L581.74 473.22 L581.89 473.18 L582.04 473.26 L582.19 473.52 L582.33 473.43 L582.48 474.6 L582.63 474.21 L582.77 474.25 L582.92 474.99 L583.07 474.97 L583.22 474.9 L583.36 475 L583.51 476.05 L583.66 475.48 L583.8 475.3 L583.95 475.01 L584.1 475.49 L584.25 475.24 L584.39 476.1 L584.54 476.36 L584.69 475.13 L584.83 476.54 L584.98 477.07 L585.13 476.94 L585.28 476.42 L585.42 477.9 L585.57 476.87 L585.72 476.7 L585.86 476.93 L586.01 477.72 L586.16 478.45 L586.31 478.7 L586.31 478 L586.45 471.82 L586.6 466.3 L586.74 461.36 L586.89 456.93 L587.03 452.96 L587.18 449.39 L587.33 446.33 L587.47 442.37 L587.62 440.14 L587.76 437.58 L587.91 435.95 L588.05 432.78 L588.2 432.39 L588.35 431.13 L588.49 429.02 L588.64 428.08 L588.78 425.74 L588.93 424.16 L589.07 423.66 L589.22 423.97 L589.36 422.91 L589.51 420.9 L589.66 421.29 L589.8 419.35 L589.95 419.97 L590.09 418.49 L590.24 417.11 L590.38 417.4 L590.53 415.61 L590.68 414.91 L590.82 413.96 L590.97 414.71 L591.11 413.96 L591.26 413.45 L591.4 412.72 L591.55 413.65 L591.7 411.81 L591.84 411.16 L591.99 412.23 L592.13 411.96 L592.28 410.76 L592.42 408.82 L592.57 409.31 L592.71 409.87 L592.86 409.08 L593.01 409.9 L593.15 407.38 L593.3 408.6 L593.44 407.31 L593.59 408.47 L593.73 407.13 L593.88 407.67 L594.03 406.13 L594.17 405.29 L594.32 405.25 L594.46 405.37 L594.61 404.8 L594.75 406.22 L594.9 406.09 L595.05 405.05 L595.19 403.84 L595.34 404.31 L595.48 403.66 L595.63 405.05 L595.77 403.99 L595.92 403.91 L596.06 403.05 L596.21 401.64 L596.36 402.38 L596.5 401.94 L596.65 402.87 L596.79 402.49 L596.94 401.64 L597.08 401.78 L597.23 403.08 L597.38 401.02 L597.52 400.89 L597.67 401.26 L597.81 400.75 L597.96 400.8 L598.1 401.38 L598.25 402.14 L598.4 399.37 L598.54 400.55 L598.69 400.46 L598.83 400.24 L598.98 400.04 L599.12 399.8 L599.27 400.68 L599.41 399.46 L599.56 399.6 L599.71 399.58 L599.85 399.55 L600 399.24 L600.14 400.01 L600.29 399.15 L600.43 399.18 L600.58 398.92 L600.73 398.1 L600.87 398.14 L601.02 397.88 L601.16 398.72 L601.31 397.96 L601.45 397.61 L601.6 398.5 L601.75 398.63 L601.89 396.84 L602.04 399.34 L602.18 398.02 L602.67 440 L602.67 439.94 L602.82 441.35 L602.96 441.44 L603.11 441.73 L603.26 444.08 L603.4 442.78 L603.55 444.02 L603.7 445.24 L603.85 444.72 L603.99 445.93 L604.14 446.84 L604.29 448.66 L604.43 447.28 L604.58 448.37 L604.73 449.38 L604.88 449.6 L605.02 449.4 L605.17 450.92 L605.32 451.28 L605.46 452.02 L605.61 452.96 L605.76 453.42 L605.91 453.57 L606.05 454.01 L606.2 453.67 L606.35 454.74 L606.49 455.43 L606.64 455.54 L606.79 456.31 L606.93 456.22 L607.08 458.09 L607.23 458.91 L607.38 457.82 L607.52 458.73 L607.67 458.78 L607.82 460.1 L607.96 460.02 L608.11 460.22 L608.26 460.44 L608.41 461.05 L608.55 460.76 L608.7 462.15 L608.85 461.7 L608.99 462.82 L609.14 462.95 L609.29 463.89 L609.44 463.58 L609.58 464.56 L609.73 463.74 L609.88 465 L610.02 464.83 L610.17 465.42 L610.32 465.67 L610.47 466.51 L610.61 465.05 L610.76 466.77 L610.91 465.99 L611.05 467.91 L611.2 466.3 L611.35 467.18 L611.5 467.06 L611.64 469.34 L611.79 467.86 L611.94 468.98 L612.08 468.86 L612.23 468.37 L612.38 469.51 L612.53 470.37 L612.67 470.12 L612.82 471.05 L612.97 470.51 L613.11 470.98 L613.26 470.99 L613.41 471.66 L613.56 472.83 L613.7 472.14 L613.85 472.26 L614 472 L614.14 472.14 L614.29 473.69 L614.44 472.35 L614.59 472.68 L614.73 473.38 L614.88 473.39 L615.03 475.02 L615.17 472.62 L615.32 474.46 L615.47 474.86 L615.62 473.95 L615.76 474.42 L615.91 475.25 L616.06 476.15 L616.2 474.8 L616.35 474.58 L616.5 476.28 L616.65 476.78 L616.79 475.83 L616.94 474.87 L617.09 477.23 L617.23 476.4 L617.38 477.36 L617.53 476.81 L617.68 476.76 L617.82 476.87 L617.97 478.17 L618.12 478.3 L618.26 476.3 L618.41 477.16 L618.56 478.93 L618.71 477.78 L618.71 478 L618.85 471.98 L619 466.59 L619.14 461.78 L619.29 457.46 L619.43 453.59 L619.58 450.1 L619.73 445.94 L619.87 444.13 L620.02 441.49 L620.16 439.17 L620.31 436.77 L620.45 434.97 L620.6 433.1 L620.75 432.08 L620.89 429.74 L621.04 428.77 L621.18 427.62 L621.33 427.55 L621.47 425.77 L621.62 424.4 L621.76 423.94 L621.91 422.96 L622.06 422.64 L622.2 421.43 L622.35 421.66 L622.49 420.63 L622.64 418.93 L622.78 418.02 L622.93 418.4 L623.08 417.56 L623.22 416.55 L623.37 414.99 L623.51 414.23 L623.66 415.38 L623.8 415.23 L623.95 414.81 L624.1 412.81 L624.24 414.14 L624.39 412.56 L624.53 412.86 L624.68 412.5 L624.82 411.22 L624.97 411.03 L625.11 409.57 L625.26 410.1 L625.41 409.11 L625.55 410.47 L625.7 409.88 L625.84 410.22 L625.99 409.51 L626.13 408.48 L626.28 408.94 L626.43 408.11 L626.57 408.6 L626.72 408.12 L626.86 406.89 L627.01 407.38 L627.15 407.18 L627.3 406.68 L627.45 407.35 L627.59 407.74 L627.74 405.96 L627.88 405.76 L628.03 404.13 L628.17 405.51 L628.32 405.08 L628.46 403.59 L628.61 405.24 L628.76 405.28 L628.9 404.1 L629.05 404.2 L629.19 403.58 L629.34 404.71 L629.48 402.83 L629.63 403.57 L629.78 405.11 L629.92 403.53 L630.07 403.69 L630.21 403.08 L630.36 402.17 L630.5 402.88 L630.65 403.07 L630.8 401.87 L630.94 402.76 L631.09 403.3 L631.23 403.05 L631.38 400.93 L631.52 401.27 L631.67 400.67 L631.81 402.57 L631.96 402.11 L632.11 402.07 L632.25 400.78 L632.4 400.45 L632.54 401.28 L632.69 401.2 L632.83 400.39 L632.98 401.04 L633.13 401.32 L633.27 400.91 L633.42 399.87 L633.56 398.98 L633.71 400.28 L633.85 400.52 L634 400.12 L634.15 399.91 L634.29 399.63 L634.44 400.61 L634.58 399.96 L635.07 440 L635.07 440.07 L635.22 440.12 L635.36 441.03 L635.51 442.19 L635.66 442.16 L635.8 442.67 L635.95 443.89 L636.1 445.45 L636.25 445.48 L636.39 446.87 L636.54 446.53 L636.69 447.03 L636.83 446.98 L636.98 448.06 L637.13 449.84 L637.28 449.75 L637.42 450.56 L637.57 451.09 L637.72 451.21 L637.86 451.63 L638.01 452.36 L638.16 453.21 L638.31 453.6 L638.45 454.12 L638.6 454.42 L638.75 454.36 L638.89 455.15 L639.04 455.21 L639.19 456.85 L639.33 455.45 L639.48 457.04 L639.63 459.05 L639.78 457.85 L639.92 457.81 L640.07 458.91 L640.22 460.12 L640.36 459.66 L640.51 460.54 L640.66 460.63 L640.81 460.75 L640.95 463.25 L641.1 461.79 L641.25 461.81 L641.39 462.21 L641.54 463.1 L641.69 463.48 L641.84 464.05 L641.98 464.03 L642.13 463.43 L642.28 464.95 L642.42 464.78 L642.57 465.13 L642.72 464.74 L642.87 465.6 L643.01 465.83 L643.16 466.55 L643.31 466.01 L643.45 467.22 L643.6 467.56 L643.75 467.11 L643.9 467.69 L644.04 467.84 L644.19 469.18 L644.34 467.39 L644.48 468.98 L644.63 468.45 L644.78 469.46 L644.93 470.48 L645.07 469.85 L645.22 470.57 L645.37 470.23 L645.51 472.14 L645.66 471.77 L645.81 472.13 L645.96 470.89 L646.1 471.26 L646.25 472.8 L646.4 472.25 L646.54 472.44 L646.69 473.01 L646.84 472.27 L646.99 473.7 L647.13 473.45 L647.28 473.93 L647.43 473.44 L647.57 474.35 L647.72 473.82 L647.87 475 L648.02 475.3 L648.16 475.35 L648.31 475.3 L648.46 475.55 L648.6 473.73 L648.75 476.03 L648.9 475.53 L649.05 475.92 L649.19 475.87 L649.34 475.37 L649.49 476.04 L649.63 476.92 L649.78 477.53 L649.93 476.46 L650.08 476.45 L650.22 478.01 L650.37 476.76 L650.52 478.68 L650.66 477.61 L650.81 477.19 L650.96 478.45 L651.11 479.02 L651.11 478 L651.25 471.63 L651.4 465.93 L651.54 460.84 L651.69 456.28 L651.83 452.18 L651.98 448.49 L652.13 444.1 L652.27 443.35 L652.42 439.25 L652.56 438.12 L652.71 434.49 L652.85 431.55 L653 431.25 L653.15 429.86 L653.29 429.18 L653.44 427.46 L653.58 425.35 L653.73 423.42 L653.87 422.07 L654.02 421.17 L654.16 419.77 L654.31 419.26 L654.46 416.68 L654.6 417.9 L654.75 416.97 L654.89 418.18 L655.04 416.12 L655.18 414.53 L655.33 414.68 L655.48 412.74 L655.62 412.63 L655.77 411.13 L655.91 413.08 L656.06 411.94 L656.2 410.12 L656.35 410.48 L656.5 410.79 L656.64 410 L656.79 409.49 L656.93 408.15 L657.08 407.92 L657.22 408.08 L657.37 408.32 L657.51 406.64 L657.66 406.07 L657.81 407.42 L657.95 405.53 L658.1 406.71 L658.24 405.77 L658.39 405.93 L658.53 406.28 L658.68 405.19 L658.83 404.97 L658.97 403.42 L659.12 403.31 L659.26 404.05 L659.41 404.46 L659.55 404.1 L659.7 404.54 L659.85 402.8 L659.99 402.48 L660.14 402.85 L660.28 401.88 L660.43 401.6 L660.57 400.65 L660.72 401.96 L660.86 400.21 L661.01 401.2 L661.16 399.55 L661.3 401.25 L661.45 399.46 L661.59 400.68 L661.74 398.68 L661.88 399.37 L662.03 400.41 L662.18 398.75 L662.32 399.24 L662.47 398.67 L662.61 397.15 L662.76 398.96 L662.9 398.9 L663.05 397.6 L663.2 398.71 L663.34 397.55 L663.49 397.26 L663.63 397.88 L663.78 397.23 L663.92 399.33 L664.07 396.32 L664.21 397.92 L664.36 397.99 L664.51 395.65 L664.65 395.72 L664.8 397.33 L664.94 396.44 L665.09 396.98 L665.23 397.44 L665.38 396.2 L665.53 395.59 L665.67 394.24 L665.82 396.34 L665.96 395.4 L666.11 396.24 L666.25 396.09 L666.4 394.79 L666.55 397.04 L666.69 396.47 L666.84 396.22 L666.98 394.61 L667.47 440 L667.47 439.76 L667.62 440.38 L667.76 441.15 L667.91 441.41 L668.06 443.02 L668.2 443.57 L668.35 444.3 L668.5 444.43 L668.65 446.14 L668.79 446.1 L668.94 444.96 L669.09 446.83 L669.23 447.78 L669.38 448.98 L669.53 448.8 L669.68 449.4 L669.82 449.72 L669.97 451.07 L670.12 450.95 L670.26 451.39 L670.41 451.84 L670.56 453.14 L670.71 453 L670.85 452.82 L671 454.7 L671.15 454.4 L671.29 455.52 L671.44 456 L671.59 456.97 L671.73 457.34 L671.88 456.82 L672.03 457.52 L672.18 457.28 L672.32 459.5 L672.47 459.19 L672.62 460.18 L672.76 459.57 L672.91 458.94 L673.06 461.49 L673.21 461.03 L673.35 461.44 L673.5 461.78 L673.65 462.51 L673.79 462.82 L673.94 461.92 L674.09 463.89 L674.24 463.27 L674.38 463.66 L674.53 465.33 L674.68 465.18 L674.82 464.77 L674.97 464.19 L675.12 465.72 L675.27 466.27 L675.41 466.22 L675.56 465.83 L675.71 466.41 L675.85 466.43 L676 467.61 L676.15 468.27 L676.3 468.68 L676.44 467.91 L676.59 468.77 L676.74 469.24 L676.88 468.88 L677.03 469.36 L677.18 470.99 L677.33 470.1 L677.47 470.76 L677.62 470.22 L677.77 470.76 L677.91 469.95 L678.06 471.2 L678.21 472.17 L678.36 472.95 L678.5 472.64 L678.65 472.56 L678.8 472.4 L678.94 472.23 L679.09 472.71 L679.24 473.39 L679.39 472.76 L679.53 474 L679.68 473.05 L679.83 472.78 L679.97 473.44 L680.12 473.24 L680.27 473.61 L680.42 475.3 L680.56 474.69 L680.71 475.12 L680.86 475.87 L681 476.1 L681.15 475.22 L681.3 476.49 L681.45 476.1 L681.59 476.04 L681.74 476.47 L681.89 475.51 L682.03 476.05 L682.18 476.62 L682.33 477.2 L682.48 476.77 L682.62 477.06 L682.77 477.87 L682.92 478.28 L683.06 478.04 L683.21 478.48 L683.36 477.62 L683.51 477.82" fill="none" stroke="#38447a" stroke-width="1.15" stroke-linejoin="round" stroke-linecap="round" />
</g>
<rect x="519.4" y="371" width="164.6" height="131.8" fill="none" stroke="#262626" stroke-width="1.25"/>
<line x1="549.69" y1="502.8" x2="549.69" y2="505.3" stroke="#262626" stroke-width="0.9"/>
<line x1="582.09" y1="502.8" x2="582.09" y2="505.3" stroke="#262626" stroke-width="0.9"/>
<line x1="614.49" y1="502.8" x2="614.49" y2="505.3" stroke="#262626" stroke-width="0.9"/>
<line x1="646.89" y1="502.8" x2="646.89" y2="505.3" stroke="#262626" stroke-width="0.9"/>
<line x1="679.29" y1="502.8" x2="679.29" y2="505.3" stroke="#262626" stroke-width="0.9"/>
<line x1="533.49" y1="502.8" x2="533.49" y2="504.3" stroke="#262626" stroke-width="0.9"/>
<line x1="565.89" y1="502.8" x2="565.89" y2="504.3" stroke="#262626" stroke-width="0.9"/>
<line x1="598.29" y1="502.8" x2="598.29" y2="504.3" stroke="#262626" stroke-width="0.9"/>
<line x1="630.69" y1="502.8" x2="630.69" y2="504.3" stroke="#262626" stroke-width="0.9"/>
<line x1="663.09" y1="502.8" x2="663.09" y2="504.3" stroke="#262626" stroke-width="0.9"/>
<text transform="translate(549.69 515.5) scale(0.9 1)" font-size="10.0" text-anchor="middle" font-weight="normal" fill="#1a1a1a" >40</text>
<text transform="translate(582.09 515.5) scale(0.9 1)" font-size="10.0" text-anchor="middle" font-weight="normal" fill="#1a1a1a" >50</text>
<text transform="translate(614.49 515.5) scale(0.9 1)" font-size="10.0" text-anchor="middle" font-weight="normal" fill="#1a1a1a" >60</text>
<text transform="translate(646.89 515.5) scale(0.9 1)" font-size="10.0" text-anchor="middle" font-weight="normal" fill="#1a1a1a" >70</text>
<text transform="translate(679.29 515.5) scale(0.9 1)" font-size="10.0" text-anchor="middle" font-weight="normal" fill="#1a1a1a" >80</text>
<line x1="519.4" y1="390.5" x2="516.9" y2="390.5" stroke="#262626" stroke-width="0.9"/>
<line x1="519.4" y1="417.9" x2="516.9" y2="417.9" stroke="#262626" stroke-width="0.9"/>
<line x1="519.4" y1="445.3" x2="516.9" y2="445.3" stroke="#262626" stroke-width="0.9"/>
<line x1="519.4" y1="472.7" x2="516.9" y2="472.7" stroke="#262626" stroke-width="0.9"/>
<line x1="519.4" y1="500.1" x2="516.9" y2="500.1" stroke="#262626" stroke-width="0.9"/>
<line x1="519.4" y1="404.2" x2="517.9" y2="404.2" stroke="#262626" stroke-width="0.9"/>
<line x1="519.4" y1="431.6" x2="517.9" y2="431.6" stroke="#262626" stroke-width="0.9"/>
<line x1="519.4" y1="459" x2="517.9" y2="459" stroke="#262626" stroke-width="0.9"/>
<line x1="519.4" y1="486.4" x2="517.9" y2="486.4" stroke="#262626" stroke-width="0.9"/>
<text transform="translate(516 393.8) scale(0.93 1)" font-size="10.0" text-anchor="end" font-weight="normal" fill="#1a1a1a" >-6.00E-08</text>
<text transform="translate(516 421.2) scale(0.93 1)" font-size="10.0" text-anchor="end" font-weight="normal" fill="#1a1a1a" >-4.00E-08</text>
<text transform="translate(516 448.6) scale(0.93 1)" font-size="10.0" text-anchor="end" font-weight="normal" fill="#1a1a1a" >-2.00E-08</text>
<text transform="translate(516 476) scale(0.93 1)" font-size="10.0" text-anchor="end" font-weight="normal" fill="#1a1a1a" >0.00E+00</text>
<text transform="translate(516 503.4) scale(0.93 1)" font-size="10.0" text-anchor="end" font-weight="normal" fill="#1a1a1a" >2.00E-08</text>
<text transform="translate(601.9 528) scale(0.935 1)" font-size="9.9" text-anchor="middle" font-weight="normal" fill="#1a1a1a" >Time (s)</text>
<text transform="translate(472.6 437.1) rotate(-90) scale(0.935 1)" font-size="9.9" text-anchor="middle" font-weight="normal" fill="#1a1a1a" >Current (nA)</text>
<line x1="525.4" y1="377.3" x2="545.5" y2="377.3" stroke="#9e1f2b" stroke-width="1.3"/>
<text transform="translate(549.5 380.5) scale(0.935 1)" font-size="9.9" text-anchor="start" font-weight="normal" fill="#1a1a1a" >DPP-Py-COF</text>
<line x1="525.4" y1="388.9" x2="545.5" y2="388.9" stroke="#38447a" stroke-width="1.3"/>
<text transform="translate(549.5 392.1) scale(0.935 1)" font-size="9.9" text-anchor="start" font-weight="normal" fill="#1a1a1a" >TpDPP-Py-COF</text>
<text transform="translate(490.3 380.7) scale(0.9 1)" font-size="18.7" text-anchor="start" font-weight="bold" fill="#000" >h</text>
</svg></body></html>
